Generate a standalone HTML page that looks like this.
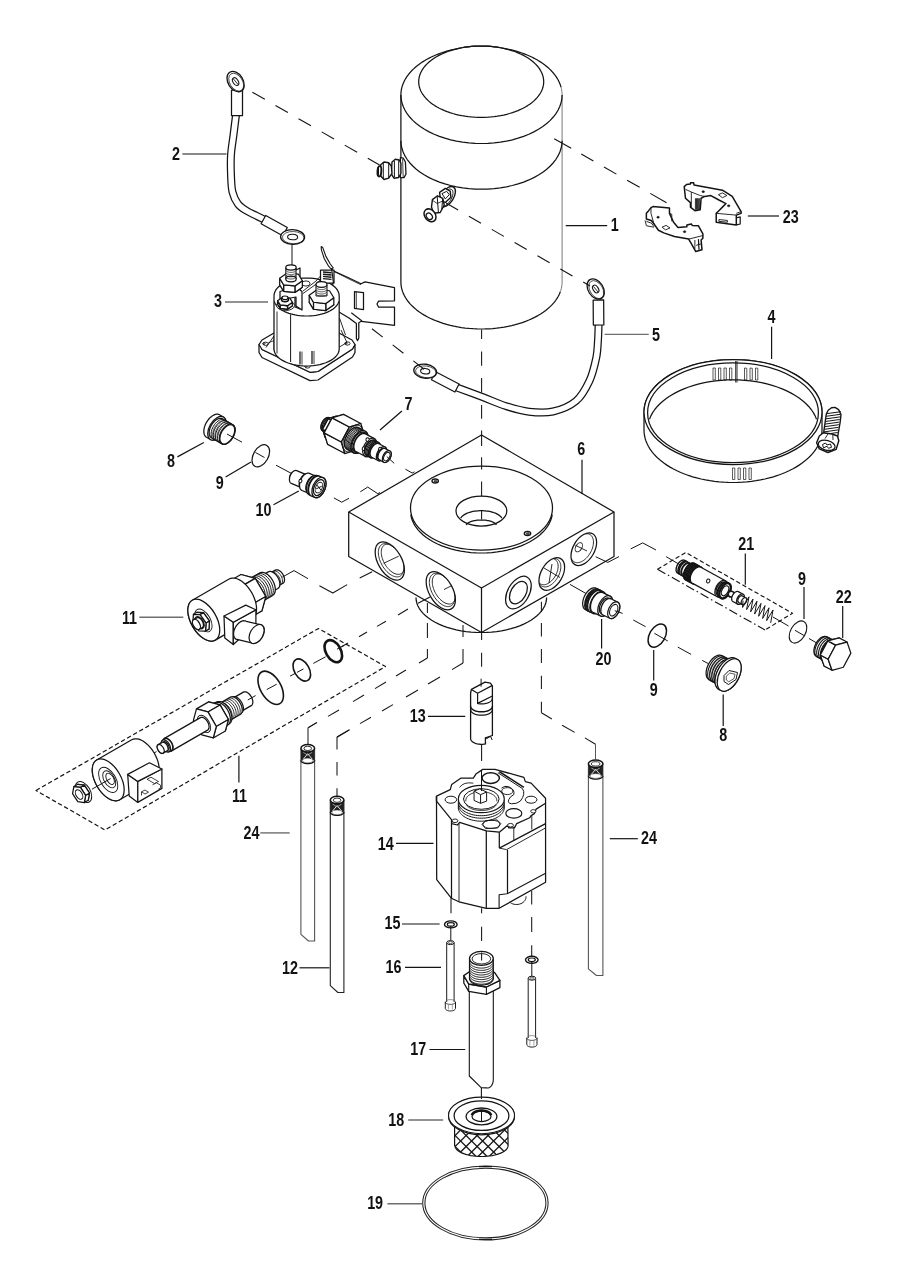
<!DOCTYPE html>
<html><head><meta charset="utf-8"><title>Hydraulic pump exploded view</title>
<style>
html,body{margin:0;padding:0;background:#fff;}
body{width:900px;height:1272px;overflow:hidden;}
svg{display:block;}
text{font-family:"Liberation Sans",sans-serif;font-weight:bold;fill:#111;}
</style></head><body>
<svg width="900" height="1272" viewBox="0 0 900 1272">
<rect width="900" height="1272" fill="#fff"/>
<path d="M400.9 95 L400.93 93.73 L401.01 92.46 L401.15 91.19 L401.34 89.93 L401.59 88.67 L401.89 87.41 L402.25 86.16 L402.66 84.92 L403.13 83.68 L403.65 82.45 L404.22 81.23 L404.84 80.01 L405.52 78.81 L406.25 77.62 L407.04 76.44 L407.87 75.27 L408.75 74.12 L409.68 72.98 L410.67 71.86 L411.7 70.75 L412.78 69.66 L413.9 68.59 L415.08 67.53 L416.29 66.49 L417.56 65.48 L418.86 64.48 L420.21 63.5 L421.6 62.55 L423.03 61.61 L424.51 60.71 L426.02 59.82 L427.57 58.96 L429.15 58.12 L430.78 57.31 L432.43 56.52 L434.12 55.76 L435.85 55.03 L437.6 54.32 L439.39 53.65 L441.2 53 L443.04 52.38 L444.91 51.79 L446.8 51.22 L448.72 50.69 L450.66 50.19 L452.62 49.72 L454.6 49.28 L458.8 48.37 L461.89 47.75 L465.02 47.22 L468.21 46.78 L471.42 46.44 L474.67 46.2 L477.93 46.05 L481.2 46 L484.47 46.05 L487.73 46.2 L490.98 46.44 L494.19 46.78 L497.38 47.22 L500.51 47.75 L506.41 48.87 L508.4 49.28 L510.38 49.72 L512.34 50.19 L514.28 50.69 L516.2 51.22 L518.09 51.79 L519.96 52.38 L521.8 53 L523.61 53.65 L525.4 54.32 L527.15 55.03 L528.88 55.76 L530.57 56.52 L532.22 57.31 L533.85 58.12 L535.43 58.96 L536.98 59.82 L538.49 60.71 L539.97 61.61 L541.4 62.55 L542.79 63.5 L544.14 64.48 L545.44 65.48 L546.71 66.49 L547.92 67.53 L549.1 68.59 L550.22 69.66 L551.3 70.75 L552.33 71.86 L553.32 72.98 L554.25 74.12 L555.13 75.27 L555.96 76.44 L556.75 77.62 L557.48 78.81 L558.16 80.01 L558.78 81.23 L559.35 82.45 L559.87 83.68 L560.34 84.92 L560.75 86.16 L561.11 87.41 L561.41 88.67 L561.66 89.93 L561.85 91.19 L561.99 92.46 L562.07 93.73 L562.1 95 L562.1 282 L562.1 282 L561.99 284.46 L561.66 286.91 L561.11 289.35 L560.34 291.77 L559.35 294.16 L558.16 296.52 L556.75 298.84 L555.13 301.12 L553.32 303.34 L551.3 305.5 L549.1 307.6 L546.71 309.63 L544.14 311.58 L541.4 313.45 L538.49 315.23 L535.43 316.93 L532.22 318.53 L528.88 320.02 L525.4 321.42 L521.8 322.7 L518.09 323.88 L514.28 324.94 L510.38 325.88 L506.41 326.7 L502.36 327.4 L498.26 327.97 L494.11 328.42 L489.92 328.74 L485.72 328.94 L481.5 329 L477.28 328.94 L473.08 328.74 L468.89 328.42 L464.74 327.97 L460.64 327.4 L456.59 326.7 L452.62 325.88 L448.72 324.94 L444.91 323.88 L441.2 322.7 L437.6 321.42 L434.12 320.02 L430.78 318.53 L427.57 316.93 L424.51 315.23 L421.6 313.45 L418.86 311.58 L416.29 309.63 L413.9 307.6 L411.7 305.5 L409.68 303.34 L407.87 301.12 L406.25 298.84 L404.84 296.52 L403.65 294.16 L402.66 291.77 L401.89 289.35 L401.34 286.91 L401.01 284.46 L400.9 282 Z" fill="#fff" stroke="#fff" stroke-width="0.01" stroke-linejoin="round" />
<path d="M400.9 95 L400.93 93.73 L401.01 92.46 L401.15 91.19 L401.34 89.93 L401.59 88.67 L401.89 87.41 L402.25 86.16 L402.66 84.92 L403.13 83.68 L403.65 82.45 L404.22 81.23 L404.84 80.01 L405.52 78.81 L406.25 77.62 L407.04 76.44 L407.87 75.27 L408.75 74.12 L409.68 72.98 L410.67 71.86 L411.7 70.75 L412.78 69.66 L413.9 68.59 L415.08 67.53 L416.29 66.49 L417.56 65.48 L418.86 64.48 L420.21 63.5 L421.6 62.55 L423.03 61.61 L424.51 60.71 L426.02 59.82 L427.57 58.96 L429.15 58.12 L430.78 57.31 L432.43 56.52 L434.12 55.76 L435.85 55.03 L437.6 54.32 L439.39 53.65 L441.2 53 L443.04 52.38 L444.91 51.79 L446.8 51.22 L448.72 50.69 L450.66 50.19 L452.62 49.72 L454.6 49.28 L458.8 48.37 L461.89 47.75 L465.02 47.22 L468.21 46.78 L471.42 46.44 L474.67 46.2 L477.93 46.05 L481.2 46 L484.47 46.05 L487.73 46.2 L490.98 46.44 L494.19 46.78 L497.38 47.22 L500.51 47.75 L506.41 48.87 L508.4 49.28 L510.38 49.72 L512.34 50.19 L514.28 50.69 L516.2 51.22 L518.09 51.79 L519.96 52.38 L521.8 53 L523.61 53.65 L525.4 54.32 L527.15 55.03 L528.88 55.76 L530.57 56.52 L532.22 57.31 L533.85 58.12 L535.43 58.96 L536.98 59.82 L538.49 60.71 L539.97 61.61 L541.4 62.55 L542.79 63.5 L544.14 64.48 L545.44 65.48 L546.71 66.49 L547.92 67.53 L549.1 68.59 L550.22 69.66 L551.3 70.75 L552.33 71.86 L553.32 72.98 L554.25 74.12 L555.13 75.27 L555.96 76.44 L556.75 77.62 L557.48 78.81 L558.16 80.01 L558.78 81.23 L559.35 82.45 L559.87 83.68 L560.34 84.92 L560.75 86.16 L561.11 87.41" fill="none" stroke="#141414" stroke-width="1.25" stroke-linejoin="round" />
<path d="M560.34 291.77 L559.43 294.01 L558.33 296.21 L557.04 298.38 L555.58 300.52 L553.94 302.6 L552.13 304.64 L550.15 306.63 L548 308.55 L545.7 310.42 L543.24 312.21 L540.64 313.93 L537.89 315.58 L535.01 317.15 L532 318.63 L528.88 320.02 L525.63 321.33 L522.29 322.54 L518.84 323.65 L515.31 324.67 L511.69 325.58 L508.01 326.39 L504.26 327.09 L500.45 327.68 L496.6 328.17 L492.72 328.54 L488.8 328.81 L484.88 328.96 L480.94 329 L477 328.93 L473.08 328.74 L469.17 328.45 L465.29 328.04 L461.46 327.52 L457.67 326.9 L453.93 326.17 L450.27 325.33 L446.67 324.39 L443.16 323.34 L439.75 322.2 L436.43 320.96 L433.22 319.63 L430.12 318.21 L427.15 316.71 L424.31 315.12 L421.6 313.45 L419.04 311.71 L416.63 309.89 L414.37 308.01 L412.27 306.07 L410.33 304.07 L408.57 302.01 L406.98 299.91 L405.57 297.77 L404.34 295.58 L403.29 293.37 L402.44 291.13 L401.76 288.87 L401.28 286.59 L401 284.3 L400.9 282 L400.9 95" fill="none" stroke="#141414" stroke-width="1.25" stroke-linejoin="round" />
<path d="M561.11 87.41 L561.41 88.67 L561.66 89.93 L561.85 91.19 L561.99 92.46 L562.07 93.73 L562.1 95 L562.1 282 L562.1 282 L562.05 283.64 L561.9 285.28 L561.66 286.91 L561.32 288.54 L560.88 290.16 L560.34 291.77" fill="none" stroke="#777" stroke-width="1" stroke-linejoin="round" />
<path d="M543.7 81.7 L543.61 83.57 L543.36 85.43 L542.93 87.28 L542.33 89.12 L541.57 90.94 L540.64 92.73 L539.55 94.49 L538.3 96.22 L536.89 97.91 L535.33 99.55 L533.62 101.14 L531.76 102.68 L529.77 104.17 L527.65 105.59 L525.39 106.94 L523.02 108.23 L520.53 109.44 L517.94 110.58 L515.24 111.64 L512.45 112.62 L509.57 113.51 L506.62 114.31 L503.6 115.03 L500.51 115.65 L497.38 116.18 L494.19 116.62 L490.98 116.96 L487.73 117.2 L484.47 117.35 L481.2 117.4 L477.93 117.35 L474.67 117.2 L471.42 116.96 L468.21 116.62 L465.02 116.18 L461.89 115.65 L458.8 115.03 L455.78 114.31 L452.83 113.51 L449.95 112.62 L447.16 111.64 L444.46 110.58 L441.87 109.44 L439.38 108.23 L437.01 106.94 L434.75 105.59 L432.63 104.17 L430.64 102.68 L428.78 101.14 L427.07 99.55 L425.51 97.91 L424.1 96.22 L422.85 94.49 L421.76 92.73 L420.83 90.94 L420.07 89.12 L419.47 87.28 L419.04 85.43 L418.79 83.57 L418.7 81.7 L418.79 79.83 L419.04 77.97 L419.47 76.12 L420.07 74.28 L420.83 72.46 L421.76 70.67 L422.85 68.91 L424.1 67.18 L425.51 65.49 L427.07 63.85 L428.78 62.26 L430.64 60.72 L432.63 59.23 L434.75 57.81 L437.01 56.46 L439.38 55.17 L441.87 53.96 L444.46 52.82 L447.16 51.76 L449.95 50.78 L452.83 49.89 L455.78 49.09 L458.8 48.37 L461.89 47.75 L465.02 47.22 L468.21 46.78 L471.42 46.44 L474.67 46.2 L477.93 46.05 L481.2 46 L484.47 46.05 L487.73 46.2 L490.98 46.44 L494.19 46.78 L497.38 47.22 L500.51 47.75 L503.6 48.37 L506.62 49.09 L509.57 49.89 L512.45 50.78 L515.24 51.76 L517.94 52.82 L520.53 53.96 L523.02 55.17 L525.39 56.46 L527.65 57.81 L529.77 59.23 L531.76 60.72 L533.62 62.26 L535.33 63.85 L536.89 65.49 L538.3 67.18 L539.55 68.91 L540.64 70.67 L541.57 72.46 L542.33 74.28 L542.93 76.12 L543.36 77.97 L543.61 79.83 L543.7 81.7 Z" fill="none" stroke="#141414" stroke-width="1.25" stroke-linejoin="round" />
<path d="M562.1 95 L561.85 98.81 L561.11 102.59 L559.87 106.32 L558.16 109.99 L555.96 113.56 L553.32 117.02 L550.22 120.34 L546.71 123.51 L542.79 126.5 L538.49 129.29 L533.85 131.88 L528.88 134.24 L523.61 136.35 L518.09 138.21 L512.34 139.81 L506.41 141.13 L500.32 142.16 L494.11 142.9 L487.82 143.35 L481.5 143.5 L475.18 143.35 L468.89 142.9 L462.68 142.16 L456.59 141.13 L450.66 139.81 L444.91 138.21 L439.39 136.35 L434.12 134.24 L429.15 131.88 L424.51 129.29 L420.21 126.5 L416.29 123.51 L412.78 120.34 L409.68 117.02 L407.04 113.56 L404.84 109.99 L403.13 106.32 L401.89 102.59 L401.15 98.81 L400.9 95" fill="none" stroke="#141414" stroke-width="1.25" stroke-linejoin="round" />
<path d="M562.1 140.7 L561.85 144.51 L561.11 148.29 L559.87 152.02 L558.16 155.69 L555.96 159.26 L553.32 162.72 L550.22 166.04 L546.71 169.21 L542.79 172.2 L538.49 174.99 L533.85 177.58 L528.88 179.94 L523.61 182.05 L518.09 183.91 L512.34 185.51 L506.41 186.83 L500.32 187.86 L494.11 188.6 L487.82 189.05 L481.5 189.2 L475.18 189.05 L468.89 188.6 L462.68 187.86 L456.59 186.83 L450.66 185.51 L444.91 183.91 L439.39 182.05 L434.12 179.94 L429.15 177.58 L424.51 174.99 L420.21 172.2 L416.29 169.21 L412.78 166.04 L409.68 162.72 L407.04 159.26 L404.84 155.69 L403.13 152.02 L401.89 148.29 L401.15 144.51 L400.9 140.7" fill="none" stroke="#141414" stroke-width="1.25" stroke-linejoin="round" />
<path d="M546.6 597.5 L546.4 600.25 L545.8 602.98 L544.8 605.67 L543.4 608.32 L541.63 610.89 L539.48 613.39 L536.98 615.79 L534.13 618.07 L530.95 620.23 L527.47 622.25 L523.71 624.11 L519.68 625.82 L515.42 627.34 L510.95 628.69 L506.29 629.84 L501.48 630.79 L496.54 631.53 L491.52 632.07 L486.42 632.39 L481.3 632.5 L476.18 632.39 L471.08 632.07 L466.06 631.53 L461.12 630.79 L456.31 629.84 L451.65 628.69 L447.18 627.34 L442.92 625.82 L438.89 624.11 L435.13 622.25 L431.65 620.23 L428.47 618.07 L425.62 615.79 L423.12 613.39 L420.97 610.89 L419.2 608.32 L417.8 605.67 L416.8 602.98 L416.2 600.25 L416 597.5" fill="none" stroke="#141414" stroke-width="1.25" stroke-linejoin="round" />
<path d="M348.7 512 L481.5 435 L614 512 L614 556.5 L481.5 632.5 L348.7 556.5 Z" fill="#fff" stroke="#141414" stroke-width="1.25" stroke-linejoin="round" />
<path d="M348.7 512 L481.5 588 L614 512" fill="none" stroke="#141414" stroke-width="1.25" stroke-linejoin="round" />
<line x1="481.5" y1="588" x2="481.5" y2="632.5" stroke="#141414" stroke-width="1.25" stroke-linecap="butt"/>
<ellipse cx="481.5" cy="508" rx="71" ry="42" fill="none" stroke="#141414" stroke-width="1.25"/>
<path d="M552.23 514.66 L551.58 517.75 L550.54 520.8 L549.12 523.8 L547.33 526.73 L545.18 529.58 L542.68 532.32 L539.84 534.94 L536.68 537.43 L533.21 539.78 L529.47 541.97 L525.46 543.98 L521.2 545.82 L516.73 547.46 L512.07 548.91 L507.23 550.14 L502.26 551.16 L497.17 551.96 L491.99 552.54 L486.76 552.88 L481.5 553 L476.24 552.88 L471.01 552.54 L465.83 551.96 L460.74 551.16 L455.77 550.14 L450.93 548.91 L446.27 547.46 L441.8 545.82 L437.54 543.98 L433.53 541.97 L429.79 539.78 L426.32 537.43 L423.16 534.94 L420.32 532.32 L417.82 529.58 L415.67 526.73 L413.88 523.8 L412.46 520.8 L411.42 517.75 L410.77 514.66" fill="none" stroke="#141414" stroke-width="1.25" stroke-linejoin="round" />
<ellipse cx="481.4" cy="511" rx="25.4" ry="15" fill="none" stroke="#141414" stroke-width="1.25"/>
<path d="M460.73 518.11 L461.13 517.49 L461.62 516.87 L462.2 516.28 L462.85 515.7 L463.59 515.14 L464.4 514.61 L465.29 514.11 L466.24 513.63 L467.26 513.18 L468.33 512.77 L469.47 512.39 L470.65 512.04 L471.88 511.73 L473.15 511.46 L474.45 511.23 L475.79 511.04 L477.14 510.89 L478.52 510.79 L479.91 510.72 L481.3 510.7 L482.69 510.72 L484.08 510.79 L485.46 510.89 L486.81 511.04 L488.15 511.23 L489.45 511.46 L490.72 511.73 L491.95 512.04 L493.13 512.39 L494.27 512.77 L495.34 513.18 L496.36 513.63 L497.31 514.11 L498.2 514.61 L499.01 515.14 L499.75 515.7 L500.4 516.28 L500.98 516.87 L501.47 517.49 L501.87 518.11" fill="none" stroke="#141414" stroke-width="1.25" stroke-linejoin="round" />
<path d="M466.23 524.96 L466.45 524.55 L466.75 524.15 L467.11 523.75 L467.55 523.37 L468.05 523 L468.62 522.64 L469.24 522.31 L469.93 521.99 L470.67 521.68 L471.47 521.4 L472.31 521.15 L473.19 520.91 L474.12 520.7 L475.08 520.52 L476.07 520.36 L477.08 520.23 L478.12 520.13 L479.17 520.06 L480.23 520.01 L481.3 520 L482.37 520.01 L483.43 520.06 L484.48 520.13 L485.52 520.23 L486.53 520.36 L487.52 520.52 L488.48 520.7 L489.41 520.91 L490.29 521.15 L491.13 521.4 L491.93 521.68 L492.67 521.99 L493.36 522.31 L493.98 522.64 L494.55 523 L495.05 523.37 L495.49 523.75 L495.85 524.15 L496.15 524.55 L496.37 524.96" fill="none" stroke="#141414" stroke-width="1.25" stroke-linejoin="round" />
<path d="M236 115 C235.58 118.33 234.33 128.33 233.5 135 C232.67 141.67 231.42 148.33 231 155 C230.58 161.67 230.75 168.83 231 175 C231.25 181.17 231.33 187.17 232.5 192 C233.67 196.83 235.58 200.83 238 204 C240.42 207.17 244 209.08 247 211 C250 212.92 253.17 214.08 256 215.5 C258.83 216.92 262.67 218.83 264 219.5" fill="none" stroke="#141414" stroke-width="8" stroke-linecap="butt"/>
<path d="M236 115 C235.58 118.33 234.33 128.33 233.5 135 C232.67 141.67 231.42 148.33 231 155 C230.58 161.67 230.75 168.83 231 175 C231.25 181.17 231.33 187.17 232.5 192 C233.67 196.83 235.58 200.83 238 204 C240.42 207.17 244 209.08 247 211 C250 212.92 253.17 214.08 256 215.5 C258.83 216.92 262.67 218.83 264 219.5" fill="none" stroke="#fff" stroke-width="5.5" stroke-linecap="butt"/>
<path d="M231.5 90 L231.5 115.5 L242.5 115.5 L242.5 90 Z" fill="#fff" stroke="#141414" stroke-width="1.25" stroke-linejoin="round" />
<ellipse cx="235.6" cy="81.6" rx="7.5" ry="11" fill="#fff" stroke="#141414" stroke-width="1.3" transform="rotate(-32 235.6 81.6)"/>
<ellipse cx="236.2" cy="82.2" rx="6.3" ry="9.8" fill="none" stroke="#141414" stroke-width="0.7" transform="rotate(-32 236.2 82.2)"/>
<ellipse cx="235.6" cy="81.6" rx="2.6" ry="4.2" fill="#fff" stroke="#141414" stroke-width="1.1" transform="rotate(-32 235.6 81.6)"/>
<line x1="233.5" y1="79" x2="238" y2="84.5" stroke="#141414" stroke-width="0.9" stroke-linecap="butt"/>
<path d="M261.09 223.75 L282.69 235.75 L287.31 227.45 L265.71 215.45 Z" fill="#fff" stroke="#141414" stroke-width="1.25" stroke-linejoin="round" />
<ellipse cx="292.6" cy="237" rx="12" ry="7.3" fill="#fff" stroke="#141414" stroke-width="1.3" transform="rotate(2 292.6 237)"/>
<ellipse cx="293.2" cy="237.6" rx="10.8" ry="6.1" fill="none" stroke="#141414" stroke-width="0.7" transform="rotate(2 293.2 237.6)"/>
<ellipse cx="292.6" cy="237" rx="5" ry="2.8" fill="#fff" stroke="#141414" stroke-width="1.1" transform="rotate(2 292.6 237)"/>
<line x1="292" y1="244.5" x2="292" y2="268" stroke="#141414" stroke-width="1" stroke-linecap="butt"/>
<path d="M598.6 324 C598.5 326.67 598.4 334.33 598 340 C597.6 345.67 597.63 351.17 596.2 358 C594.77 364.83 592.77 373.83 589.4 381 C586.03 388.17 582.07 395.92 576 401 C569.93 406.08 560.83 409.72 553 411.5 C545.17 413.28 536.9 412.62 529 411.7 C521.1 410.78 513.35 408.45 505.6 406 C497.85 403.55 490.6 400.07 482.5 397 C474.4 393.93 461.25 389.17 457 387.6" fill="none" stroke="#141414" stroke-width="8" stroke-linecap="butt"/>
<path d="M598.6 324 C598.5 326.67 598.4 334.33 598 340 C597.6 345.67 597.63 351.17 596.2 358 C594.77 364.83 592.77 373.83 589.4 381 C586.03 388.17 582.07 395.92 576 401 C569.93 406.08 560.83 409.72 553 411.5 C545.17 413.28 536.9 412.62 529 411.7 C521.1 410.78 513.35 408.45 505.6 406 C497.85 403.55 490.6 400.07 482.5 397 C474.4 393.93 461.25 389.17 457 387.6" fill="none" stroke="#fff" stroke-width="5.5" stroke-linecap="butt"/>
<path d="M593.15 300.04 L593.35 325.04 L603.85 324.96 L603.65 299.96 Z" fill="#fff" stroke="#141414" stroke-width="1.25" stroke-linejoin="round" />
<ellipse cx="595.7" cy="289" rx="7.5" ry="11" fill="#fff" stroke="#141414" stroke-width="1.3" transform="rotate(-32 595.7 289)"/>
<ellipse cx="596.3" cy="289.6" rx="6.3" ry="9.8" fill="none" stroke="#141414" stroke-width="0.7" transform="rotate(-32 596.3 289.6)"/>
<ellipse cx="595.7" cy="289" rx="2.6" ry="4.2" fill="#fff" stroke="#141414" stroke-width="1.1" transform="rotate(-32 595.7 289)"/>
<line x1="593.5" y1="286.5" x2="598" y2="292" stroke="#141414" stroke-width="0.9" stroke-linecap="butt"/>
<path d="M459.07 384.01 L435.57 371.81 L431.43 379.79 L454.93 391.99 Z" fill="#fff" stroke="#141414" stroke-width="1.25" stroke-linejoin="round" />
<ellipse cx="425.2" cy="371.2" rx="11.5" ry="7" fill="#fff" stroke="#141414" stroke-width="1.3" transform="rotate(8 425.2 371.2)"/>
<ellipse cx="425.8" cy="371.8" rx="10.3" ry="5.8" fill="none" stroke="#141414" stroke-width="0.7" transform="rotate(8 425.8 371.8)"/>
<ellipse cx="425.2" cy="371.2" rx="4.6" ry="2.7" fill="#fff" stroke="#141414" stroke-width="1.1" transform="rotate(8 425.2 371.2)"/>
<path d="M400.4 157.6 L403.3 158.2 L405.4 162 L406 174 L404 177.6 L400.4 177.6 Z" fill="#fff" stroke="#141414" stroke-width="1.3" stroke-linejoin="round" />
<line x1="402.6" y1="159" x2="403.2" y2="177" stroke="#141414" stroke-width="0.8" stroke-linecap="butt"/>
<path d="M392 162 L395.3 159.3 L399.3 160 L400.9 163.3 L400.9 173.5 L398.7 177.5 L394 178.2 L391.3 174 Z" fill="#fff" stroke="#141414" stroke-width="1.4" stroke-linejoin="round" />
<line x1="394.4" y1="161" x2="394.4" y2="177.3" stroke="#141414" stroke-width="1" stroke-linecap="butt"/>
<line x1="398.7" y1="160.3" x2="398.7" y2="177.2" stroke="#141414" stroke-width="1" stroke-linecap="butt"/>
<path d="M380.7 164.7 L384 162 L388.7 162.7 L391.3 166 L392 173.3 L388.7 178.2 L384 179.5 L380.7 176 Z" fill="#fff" stroke="#141414" stroke-width="1.4" stroke-linejoin="round" />
<line x1="383.3" y1="162.6" x2="383.3" y2="179" stroke="#141414" stroke-width="1" stroke-linecap="butt"/>
<line x1="388.7" y1="163" x2="388.7" y2="178" stroke="#141414" stroke-width="1" stroke-linecap="butt"/>
<ellipse cx="379.4" cy="171.3" rx="1.9" ry="5.2" fill="#fff" stroke="#141414" stroke-width="1.9" transform="rotate(4 379.4 171.3)"/>
<line x1="378.2" y1="167" x2="378.2" y2="175.5" stroke="#141414" stroke-width="1.6" stroke-linecap="butt"/>
<ellipse cx="447.3" cy="196.7" rx="6.2" ry="11.5" fill="#fff" stroke="#141414" stroke-width="1.4" transform="rotate(33 447.3 196.7)"/>
<ellipse cx="446.2" cy="197.8" rx="5" ry="10" fill="none" stroke="#141414" stroke-width="0.8" transform="rotate(33 446.2 197.8)"/>
<path d="M439.6 192.3 L445.3 188.4 L450.2 191.2 L450.9 197.3 L445.3 202.4 L440.6 200.8 Z" fill="#fff" stroke="#141414" stroke-width="1.4" stroke-linejoin="round" />
<path d="M442 193.6 L446.7 191.3 L449.3 194.7 L445.3 198.9 Z" fill="none" stroke="#141414" stroke-width="1" stroke-linejoin="round" />
<path d="M432.4 199.6 L437.5 195.8 L442.8 198.4 L444.2 205 L440.2 212.5 L433.5 213.2 L431.5 207 Z" fill="#fff" stroke="#141414" stroke-width="1.4" stroke-linejoin="round" />
<line x1="437.2" y1="196.5" x2="438.4" y2="212.5" stroke="#141414" stroke-width="1" stroke-linecap="butt"/>
<line x1="442.6" y1="199" x2="441.8" y2="209.5" stroke="#141414" stroke-width="1" stroke-linecap="butt"/>
<path d="M432.8 200.5 L437.2 203.5 L442.6 201" fill="none" stroke="#141414" stroke-width="0.8" stroke-linejoin="round" />
<ellipse cx="430" cy="215.3" rx="5.3" ry="7" fill="#fff" stroke="#141414" stroke-width="1.5" transform="rotate(-38 430 215.3)"/>
<ellipse cx="429.3" cy="216.3" rx="2.7" ry="3.6" fill="#fff" stroke="#141414" stroke-width="1.3" transform="rotate(-38 429.3 216.3)"/>
<path d="M252.4 92.2 L379.6 165.1" fill="none" stroke="#141414" stroke-width="1.1" stroke-dasharray="14.3 12.3" stroke-linejoin="round" />
<line x1="554.2" y1="138.7" x2="571.15" y2="148.35" stroke="#141414" stroke-width="1.1" stroke-linecap="butt"/>
<line x1="581.23" y1="154.09" x2="593.39" y2="161.02" stroke="#141414" stroke-width="1.1" stroke-linecap="butt"/>
<line x1="603.99" y1="167.05" x2="616.42" y2="174.13" stroke="#141414" stroke-width="1.1" stroke-linecap="butt"/>
<line x1="627.11" y1="180.21" x2="639.62" y2="187.34" stroke="#141414" stroke-width="1.1" stroke-linecap="butt"/>
<line x1="650.22" y1="193.38" x2="666.56" y2="202.68" stroke="#141414" stroke-width="1.1" stroke-linecap="butt"/>
<path d="M446 203 L590 286" fill="none" stroke="#141414" stroke-width="1.1" stroke-dasharray="14 12.4" stroke-linejoin="round" />
<path d="M332.6 270.6 L348 277.5 L361 283.8 L365 281.9 L394.5 287.6 L394.5 300.8 L378.5 301.2 L377 304 L378.5 307 L394.5 307 L394.5 325.3 L361.3 321.3 L358.8 322.7 L358.8 338 L357.6 340.6 L356.4 338.5 L356.4 323.5 L349 318 L339 312 L333 312 Z" fill="#fff" stroke="#141414" stroke-width="1.25" stroke-linejoin="round" />
<path d="M321.2 246.6 L322.7 247.4 L325.9 256.4 L330.3 264 L333.2 267.8 L332 270 L328.6 266.2 L324.2 258.5 L321.4 249.8 Z" fill="#fff" stroke="#141414" stroke-width="1.1" stroke-linejoin="round" />
<path d="M354.5 291.6 L363.5 292.6 L363.5 309.6 L354.5 308.4 Z" fill="none" stroke="#141414" stroke-width="1.25" stroke-linejoin="round" />
<line x1="356.3" y1="292" x2="356.3" y2="308.6" stroke="#141414" stroke-width="0.8" stroke-linecap="butt"/>
<path d="M332.6 270.6 L348 278.5 L361 284.8" fill="none" stroke="#141414" stroke-width="0.8" stroke-linejoin="round" />
<path d="M259 344.5 L259 352.5 L262 357.5 L310 380.6 L318 380 L352.5 357 L355 352.5 L355 344.5 L262 349.5 L310 372.3 L318 371.5 L352.5 349 L355 344.5 Z" fill="#fff" stroke="#141414" stroke-width="1.25" stroke-linejoin="round" />
<path d="M259 344.5 L262 340 L274 333 L339 333 L352 340 L355 344.5 L352.5 349 L318 371.5 L310 372.3 L262 349.5 Z" fill="#fff" stroke="#141414" stroke-width="1.25" stroke-linejoin="round" />
<ellipse cx="265.5" cy="343.8" rx="2.6" ry="1.6" fill="none" stroke="#141414" stroke-width="0.9"/>
<ellipse cx="347.5" cy="343.5" rx="2.6" ry="1.6" fill="none" stroke="#141414" stroke-width="0.9"/>
<ellipse cx="307.5" cy="366.5" rx="2.6" ry="1.6" fill="none" stroke="#141414" stroke-width="0.9"/>
<ellipse cx="264" cy="343.6" rx="1.2" ry="0.8" fill="none" stroke="#141414" stroke-width="0.8"/>
<ellipse cx="346" cy="343.3" rx="1.2" ry="0.8" fill="none" stroke="#141414" stroke-width="0.8"/>
<ellipse cx="306" cy="366.3" rx="1.2" ry="0.8" fill="none" stroke="#141414" stroke-width="0.8"/>
<path d="M266 347.5 L274 336 L274 350" fill="none" stroke="#141414" stroke-width="0.9" stroke-linejoin="round" />
<path d="M268 343 L275.5 340" fill="none" stroke="#141414" stroke-width="0.8" stroke-linejoin="round" />
<path d="M341 330 L347 342.5 L339.5 347" fill="none" stroke="#141414" stroke-width="0.9" stroke-linejoin="round" />
<path d="M339.5 318 L345.5 335" fill="none" stroke="#141414" stroke-width="0.9" stroke-linejoin="round" />
<path d="M274 296 L274 349 L274 349 L274.18 350.78 L274.71 352.53 L275.6 354.25 L276.82 355.91 L278.37 357.5 L280.23 358.99 L282.37 360.38 L284.79 361.63 L287.44 362.75 L290.3 363.72 L293.34 364.53 L296.53 365.17 L299.82 365.63 L303.19 365.91 L306.6 366 L310.01 365.91 L313.38 365.63 L316.67 365.17 L319.86 364.53 L322.9 363.72 L325.76 362.75 L328.41 361.63 L330.83 360.38 L332.97 358.99 L334.83 357.5 L336.38 355.91 L337.6 354.25 L338.49 352.53 L339.02 350.78 L339.2 349 L339.2 296 L339.2 296 L339.02 294.12 L338.49 292.26 L337.6 290.44 L336.38 288.68 L334.83 287 L332.97 285.42 L330.83 283.96 L328.41 282.62 L325.76 281.44 L322.9 280.41 L319.86 279.56 L316.67 278.88 L313.38 278.39 L310.01 278.1 L306.6 278 L303.19 278.1 L299.82 278.39 L296.53 278.88 L293.34 279.56 L290.3 280.41 L287.44 281.44 L284.79 282.62 L282.37 283.96 L280.23 285.42 L278.37 287 L276.82 288.68 L275.6 290.44 L274.71 292.26 L274.18 294.12 L274 296 Z" fill="#fff" stroke="#141414" stroke-width="1.25" stroke-linejoin="round" />
<path d="M338.88 301.37 L338.48 302.56 L337.91 303.74 L337.18 304.9 L336.29 306.02 L335.25 307.11 L334.06 308.16 L332.74 309.16 L331.28 310.11 L329.69 311 L327.99 311.83 L326.17 312.59 L324.26 313.29 L322.26 313.91 L320.17 314.46 L318.02 314.92 L315.8 315.31 L313.54 315.61 L311.25 315.83 L308.93 315.96 L306.6 316 L304.27 315.96 L301.95 315.83 L299.66 315.61 L297.4 315.31 L295.18 314.92 L293.03 314.46 L290.94 313.91 L288.94 313.29 L287.03 312.59 L285.21 311.83 L283.51 311 L281.92 310.11 L280.46 309.16 L279.14 308.16 L277.95 307.11 L276.91 306.02 L276.02 304.9 L275.29 303.74 L274.72 302.56 L274.32 301.37" fill="none" stroke="#141414" stroke-width="1.25" stroke-linejoin="round" />
<line x1="277" y1="311.5" x2="277" y2="353.5" stroke="#141414" stroke-width="0.9" stroke-linecap="butt"/>
<line x1="290.6" y1="314.5" x2="290.6" y2="362" stroke="#141414" stroke-width="1" stroke-linecap="butt"/>
<line x1="300" y1="351.5" x2="300" y2="364.5" stroke="#141414" stroke-width="1.25" stroke-linecap="butt"/>
<line x1="302" y1="351.5" x2="302" y2="364.5" stroke="#141414" stroke-width="0.8" stroke-linecap="butt"/>
<line x1="312" y1="351" x2="312" y2="364" stroke="#141414" stroke-width="1.25" stroke-linecap="butt"/>
<line x1="314" y1="351" x2="314" y2="364" stroke="#141414" stroke-width="0.8" stroke-linecap="butt"/>
<path d="M295 270.5 L300 268 L300 309 L295 307 Z" fill="#fff" stroke="#141414" stroke-width="1.25" stroke-linejoin="round" />
<path d="M280 291.5 L296 286.5 L302 291.5 L302 310 L296 306 L296 297 L280 300 Z" fill="#fff" stroke="#141414" stroke-width="1.25" stroke-linejoin="round" />
<path d="M303 291 L316 281 L321 275.5 L333 272.5" fill="none" stroke="#141414" stroke-width="0.9" stroke-linejoin="round" />
<path d="M303 293.5 L317 283.5 L322 278" fill="none" stroke="#141414" stroke-width="0.9" stroke-linejoin="round" />
<ellipse cx="306" cy="283.5" rx="4" ry="2.6" fill="#fff" stroke="#141414" stroke-width="0.9"/>
<path d="M320.5 270 L334 270 L334 283 L320.5 283 Z" fill="#fff" stroke="#141414" stroke-width="1.25" stroke-linejoin="round" />
<line x1="323" y1="272" x2="331.5" y2="272.8" stroke="#141414" stroke-width="1.4" stroke-linecap="butt"/>
<line x1="323" y1="274.2" x2="331.5" y2="275" stroke="#141414" stroke-width="1.4" stroke-linecap="butt"/>
<line x1="323" y1="276.4" x2="331.5" y2="277.2" stroke="#141414" stroke-width="1.4" stroke-linecap="butt"/>
<line x1="323" y1="278.6" x2="331.5" y2="279.4" stroke="#141414" stroke-width="1.4" stroke-linecap="butt"/>
<line x1="331.5" y1="268" x2="333.5" y2="283" stroke="#141414" stroke-width="1.2" stroke-linecap="butt"/>
<path d="M302.33 287.2 L294.93 292.48 L283.61 291.29 L279.67 284.8 L287.07 279.52 L298.39 280.71 Z" fill="#fff" stroke="#141414" stroke-width="1.25" stroke-linejoin="round" />
<path d="M302.33 280.7 L294.93 285.98 L294.93 292.48 L302.33 287.2 Z" fill="#fff" stroke="#141414" stroke-width="1.25" stroke-linejoin="round" />
<path d="M294.93 285.98 L283.61 284.79 L283.61 291.29 L294.93 292.48 Z" fill="#fff" stroke="#141414" stroke-width="1.25" stroke-linejoin="round" />
<path d="M283.61 284.79 L279.67 278.3 L279.67 284.8 L283.61 291.29 Z" fill="#fff" stroke="#141414" stroke-width="1.25" stroke-linejoin="round" />
<path d="M302.33 280.7 L294.93 285.98 L283.61 284.79 L279.67 278.3 L287.07 273.02 L298.39 274.21 Z" fill="#fff" stroke="#141414" stroke-width="1.25" stroke-linejoin="round" />
<path d="M285.8 268 L285.8 279 L296 279 L296 268" fill="#fff" stroke="#141414" stroke-width="1" stroke-linejoin="round" />
<ellipse cx="291" cy="279" rx="5.2" ry="2.8" fill="#fff" stroke="#141414" stroke-width="1.25"/>
<path d="M296.12 270.42 L296.05 270.58 L295.95 270.74 L295.82 270.9 L295.67 271.05 L295.5 271.2 L295.31 271.34 L295.1 271.48 L294.86 271.61 L294.61 271.73 L294.34 271.84 L294.06 271.94 L293.76 272.04 L293.44 272.12 L293.12 272.19 L292.78 272.26 L292.43 272.31 L292.08 272.35 L291.72 272.38 L291.36 272.39 L291 272.4 L290.64 272.39 L290.28 272.38 L289.92 272.35 L289.57 272.31 L289.22 272.26 L288.88 272.19 L288.56 272.12 L288.24 272.04 L287.94 271.94 L287.66 271.84 L287.39 271.73 L287.14 271.61 L286.9 271.48 L286.69 271.34 L286.5 271.2 L286.33 271.05 L286.18 270.9 L286.05 270.74 L285.95 270.58 L285.88 270.42" fill="none" stroke="#141414" stroke-width="0.8" stroke-linejoin="round" />
<path d="M296.12 272.62 L296.05 272.78 L295.95 272.94 L295.82 273.1 L295.67 273.25 L295.5 273.4 L295.31 273.54 L295.1 273.68 L294.86 273.81 L294.61 273.93 L294.34 274.04 L294.06 274.14 L293.76 274.24 L293.44 274.32 L293.12 274.39 L292.78 274.46 L292.43 274.51 L292.08 274.55 L291.72 274.58 L291.36 274.59 L291 274.6 L290.64 274.59 L290.28 274.58 L289.92 274.55 L289.57 274.51 L289.22 274.46 L288.88 274.39 L288.56 274.32 L288.24 274.24 L287.94 274.14 L287.66 274.04 L287.39 273.93 L287.14 273.81 L286.9 273.68 L286.69 273.54 L286.5 273.4 L286.33 273.25 L286.18 273.1 L286.05 272.94 L285.95 272.78 L285.88 272.62" fill="none" stroke="#141414" stroke-width="0.8" stroke-linejoin="round" />
<path d="M296.12 274.82 L296.05 274.98 L295.95 275.14 L295.82 275.3 L295.67 275.45 L295.5 275.6 L295.31 275.74 L295.1 275.88 L294.86 276.01 L294.61 276.13 L294.34 276.24 L294.06 276.34 L293.76 276.44 L293.44 276.52 L293.12 276.59 L292.78 276.66 L292.43 276.71 L292.08 276.75 L291.72 276.78 L291.36 276.79 L291 276.8 L290.64 276.79 L290.28 276.78 L289.92 276.75 L289.57 276.71 L289.22 276.66 L288.88 276.59 L288.56 276.52 L288.24 276.44 L287.94 276.34 L287.66 276.24 L287.39 276.13 L287.14 276.01 L286.9 275.88 L286.69 275.74 L286.5 275.6 L286.33 275.45 L286.18 275.3 L286.05 275.14 L285.95 274.98 L285.88 274.82" fill="none" stroke="#141414" stroke-width="0.8" stroke-linejoin="round" />
<path d="M296.12 277.02 L296.05 277.18 L295.95 277.34 L295.82 277.5 L295.67 277.65 L295.5 277.8 L295.31 277.94 L295.1 278.08 L294.86 278.21 L294.61 278.33 L294.34 278.44 L294.06 278.54 L293.76 278.64 L293.44 278.72 L293.12 278.79 L292.78 278.86 L292.43 278.91 L292.08 278.95 L291.72 278.98 L291.36 278.99 L291 279 L290.64 278.99 L290.28 278.98 L289.92 278.95 L289.57 278.91 L289.22 278.86 L288.88 278.79 L288.56 278.72 L288.24 278.64 L287.94 278.54 L287.66 278.44 L287.39 278.33 L287.14 278.21 L286.9 278.08 L286.69 277.94 L286.5 277.8 L286.33 277.65 L286.18 277.5 L286.05 277.34 L285.95 277.18 L285.88 277.02" fill="none" stroke="#141414" stroke-width="0.8" stroke-linejoin="round" />
<ellipse cx="291" cy="267.5" rx="5.2" ry="2.6" fill="#fff" stroke="#141414" stroke-width="1.25"/>
<path d="M333.81 304.8 L325.78 310.55 L313.47 309.25 L309.19 302.2 L317.22 296.45 L329.53 297.75 Z" fill="#fff" stroke="#141414" stroke-width="1.25" stroke-linejoin="round" />
<path d="M333.81 297.8 L325.78 303.55 L325.78 310.55 L333.81 304.8 Z" fill="#fff" stroke="#141414" stroke-width="1.25" stroke-linejoin="round" />
<path d="M325.78 303.55 L313.47 302.25 L313.47 309.25 L325.78 310.55 Z" fill="#fff" stroke="#141414" stroke-width="1.25" stroke-linejoin="round" />
<path d="M313.47 302.25 L309.19 295.2 L309.19 302.2 L313.47 309.25 Z" fill="#fff" stroke="#141414" stroke-width="1.25" stroke-linejoin="round" />
<path d="M333.81 297.8 L325.78 303.55 L313.47 302.25 L309.19 295.2 L317.22 289.45 L329.53 290.75 Z" fill="#fff" stroke="#141414" stroke-width="1.25" stroke-linejoin="round" />
<path d="M316 285 L316 296 L327 296 L327 285" fill="#fff" stroke="#141414" stroke-width="1" stroke-linejoin="round" />
<path d="M326.92 287.45 L326.84 287.63 L326.73 287.8 L326.6 287.97 L326.44 288.14 L326.26 288.3 L326.06 288.45 L325.83 288.6 L325.59 288.74 L325.32 288.87 L325.04 288.99 L324.73 289.1 L324.41 289.2 L324.08 289.3 L323.74 289.38 L323.38 289.44 L323.02 289.5 L322.64 289.54 L322.27 289.57 L321.88 289.59 L321.5 289.6 L321.12 289.59 L320.73 289.57 L320.36 289.54 L319.98 289.5 L319.62 289.44 L319.26 289.38 L318.92 289.3 L318.59 289.2 L318.27 289.1 L317.96 288.99 L317.68 288.87 L317.41 288.74 L317.17 288.6 L316.94 288.45 L316.74 288.3 L316.56 288.14 L316.4 287.97 L316.27 287.8 L316.16 287.63 L316.08 287.45" fill="none" stroke="#141414" stroke-width="0.8" stroke-linejoin="round" />
<path d="M326.92 289.65 L326.84 289.83 L326.73 290 L326.6 290.17 L326.44 290.34 L326.26 290.5 L326.06 290.65 L325.83 290.8 L325.59 290.94 L325.32 291.07 L325.04 291.19 L324.73 291.3 L324.41 291.4 L324.08 291.5 L323.74 291.58 L323.38 291.64 L323.02 291.7 L322.64 291.74 L322.27 291.77 L321.88 291.79 L321.5 291.8 L321.12 291.79 L320.73 291.77 L320.36 291.74 L319.98 291.7 L319.62 291.64 L319.26 291.58 L318.92 291.5 L318.59 291.4 L318.27 291.3 L317.96 291.19 L317.68 291.07 L317.41 290.94 L317.17 290.8 L316.94 290.65 L316.74 290.5 L316.56 290.34 L316.4 290.17 L316.27 290 L316.16 289.83 L316.08 289.65" fill="none" stroke="#141414" stroke-width="0.8" stroke-linejoin="round" />
<path d="M326.92 291.85 L326.84 292.03 L326.73 292.2 L326.6 292.37 L326.44 292.54 L326.26 292.7 L326.06 292.85 L325.83 293 L325.59 293.14 L325.32 293.27 L325.04 293.39 L324.73 293.5 L324.41 293.6 L324.08 293.7 L323.74 293.78 L323.38 293.84 L323.02 293.9 L322.64 293.94 L322.27 293.97 L321.88 293.99 L321.5 294 L321.12 293.99 L320.73 293.97 L320.36 293.94 L319.98 293.9 L319.62 293.84 L319.26 293.78 L318.92 293.7 L318.59 293.6 L318.27 293.5 L317.96 293.39 L317.68 293.27 L317.41 293.14 L317.17 293 L316.94 292.85 L316.74 292.7 L316.56 292.54 L316.4 292.37 L316.27 292.2 L316.16 292.03 L316.08 291.85" fill="none" stroke="#141414" stroke-width="0.8" stroke-linejoin="round" />
<path d="M326.92 294.05 L326.84 294.23 L326.73 294.4 L326.6 294.57 L326.44 294.74 L326.26 294.9 L326.06 295.05 L325.83 295.2 L325.59 295.34 L325.32 295.47 L325.04 295.59 L324.73 295.7 L324.41 295.8 L324.08 295.9 L323.74 295.98 L323.38 296.04 L323.02 296.1 L322.64 296.14 L322.27 296.17 L321.88 296.19 L321.5 296.2 L321.12 296.19 L320.73 296.17 L320.36 296.14 L319.98 296.1 L319.62 296.04 L319.26 295.98 L318.92 295.9 L318.59 295.8 L318.27 295.7 L317.96 295.59 L317.68 295.47 L317.41 295.34 L317.17 295.2 L316.94 295.05 L316.74 294.9 L316.56 294.74 L316.4 294.57 L316.27 294.4 L316.16 294.23 L316.08 294.05" fill="none" stroke="#141414" stroke-width="0.8" stroke-linejoin="round" />
<ellipse cx="321.5" cy="284.5" rx="5.5" ry="2.8" fill="#fff" stroke="#141414" stroke-width="1.25"/>
<ellipse cx="285.5" cy="305.5" rx="9" ry="5" fill="#fff" stroke="#141414" stroke-width="0.9"/>
<path d="M292.39 305.78 L287.57 309.23 L280.18 308.45 L277.61 304.22 L282.43 300.77 L289.82 301.55 Z" fill="#fff" stroke="#141414" stroke-width="1.3" stroke-linejoin="round" />
<path d="M292.39 302.28 L287.57 305.73 L287.57 309.23 L292.39 305.78 Z" fill="#fff" stroke="#141414" stroke-width="1.3" stroke-linejoin="round" />
<path d="M287.57 305.73 L280.18 304.95 L280.18 308.45 L287.57 309.23 Z" fill="#fff" stroke="#141414" stroke-width="1.3" stroke-linejoin="round" />
<path d="M280.18 304.95 L277.61 300.72 L277.61 304.22 L280.18 308.45 Z" fill="#fff" stroke="#141414" stroke-width="1.3" stroke-linejoin="round" />
<path d="M292.39 302.28 L287.57 305.73 L280.18 304.95 L277.61 300.72 L282.43 297.27 L289.82 298.05 Z" fill="#fff" stroke="#141414" stroke-width="1.3" stroke-linejoin="round" />
<ellipse cx="285" cy="299.5" rx="3.6" ry="2.2" fill="#fff" stroke="#141414" stroke-width="1.4"/>
<ellipse cx="285" cy="297.8" rx="3" ry="1.8" fill="#fff" stroke="#141414" stroke-width="1.2"/>
<path d="M684.22 186.67 L686.53 184.53 L690.44 184 L690.44 182.76 L693.64 182.76 L694 184.89 L722.44 190.22 L732.22 196.44 L741.11 211.56 L741.11 213.33 L736.31 215.11 L736.31 224.89 L716.22 222.22 L716.22 213.33 L718.89 210.67 L722.44 207.11 L726 203.56 L718.89 200 L710.89 195.56 L704.67 196.44 L701.11 198.22 L700.22 209.78 L694.89 210.67 L690.44 207.11 L690.44 202.67 L685.47 198.22 Z" fill="#fff" stroke="#141414" stroke-width="1.5" stroke-linejoin="round" />
<path d="M685.47 189.33 L691.33 192 L700.22 195.56 L704.67 196.44" fill="none" stroke="#141414" stroke-width="0.9" stroke-linejoin="round" />
<path d="M691.33 192 L691.33 207.11" fill="none" stroke="#141414" stroke-width="0.9" stroke-linejoin="round" />
<line x1="695.42" y1="198.22" x2="695.42" y2="209.78" stroke="#141414" stroke-width="0.9" stroke-linecap="butt"/>
<line x1="696.49" y1="198.22" x2="696.49" y2="209.78" stroke="#141414" stroke-width="0.9" stroke-linecap="butt"/>
<line x1="697.56" y1="198.22" x2="697.56" y2="209.78" stroke="#141414" stroke-width="0.9" stroke-linecap="butt"/>
<line x1="698.62" y1="198.22" x2="698.62" y2="209.78" stroke="#141414" stroke-width="0.9" stroke-linecap="butt"/>
<line x1="699.69" y1="198.22" x2="699.69" y2="209.78" stroke="#141414" stroke-width="0.9" stroke-linecap="butt"/>
<path d="M716.22 213.33 L736.31 215.11" fill="none" stroke="#141414" stroke-width="0.9" stroke-linejoin="round" />
<path d="M736.31 213.33 L741.11 211.56" fill="none" stroke="#141414" stroke-width="0.9" stroke-linejoin="round" />
<path d="M718.89 219.56 L727.42 220.44 L727.42 222.22" fill="none" stroke="#141414" stroke-width="0.9" stroke-linejoin="round" />
<path d="M718.89 219.56 L718.89 221.33 L727.42 222.22" fill="none" stroke="#141414" stroke-width="0.9" stroke-linejoin="round" />
<path d="M736.67 217.78 L740.22 216.89 L740.22 224 L736.67 224.89" fill="none" stroke="#141414" stroke-width="1.2" stroke-linejoin="round" />
<path d="M718.36 194.67 L722.44 192.89 L726.89 195.56 L722.44 197.69 Z" fill="none" stroke="#141414" stroke-width="0.9" stroke-linejoin="round" />
<ellipse cx="703.24" cy="191.64" rx="1.3" ry="1" fill="#141414" stroke="#141414" stroke-width="0.5"/>
<ellipse cx="728.67" cy="205.87" rx="1.3" ry="1" fill="#141414" stroke="#141414" stroke-width="0.5"/>
<path d="M650.98 207.64 L653.11 206.58 L669.47 208 L669.47 213.33 L673.56 222.22 L678 227.56 L686.89 226.67 L686.89 224.89 L691.33 224 L692.22 225.42 L698.44 225.78 L702.89 233.78 L702.89 238.22 L701.11 240 L702 249.78 L695.78 251.56 L691.33 243.56 L688.67 239.11 L674.44 236.44 L663.78 232.89 L658.44 230.22 L654 224 L651.33 220.44 L646.36 219.02 L646.36 213.33 L648.67 210.67 Z" fill="#fff" stroke="#141414" stroke-width="1.5" stroke-linejoin="round" />
<path d="M650.98 207.64 L650.98 213.33 L654 224" fill="none" stroke="#141414" stroke-width="0.9" stroke-linejoin="round" />
<path d="M669.47 213.33 L671.78 214.22 L671.78 221.33" fill="none" stroke="#141414" stroke-width="0.9" stroke-linejoin="round" />
<path d="M646.36 221.33 L651.33 223.11 L654 226.67" fill="none" stroke="#141414" stroke-width="0.9" stroke-linejoin="round" />
<path d="M645.11 220.44 L646.36 225.78 L654 227.2" fill="none" stroke="#141414" stroke-width="0.9" stroke-linejoin="round" />
<path d="M688.67 239.11 L702.89 235.56" fill="none" stroke="#141414" stroke-width="0.9" stroke-linejoin="round" />
<path d="M694.89 240 L694.89 248.89" fill="none" stroke="#141414" stroke-width="0.9" stroke-linejoin="round" />
<path d="M698.44 239.11 L698.98 249.78" fill="none" stroke="#141414" stroke-width="1.2" stroke-linejoin="round" />
<path d="M696.13 245.33 L701.11 243.91" fill="none" stroke="#141414" stroke-width="0.9" stroke-linejoin="round" />
<path d="M662 227.2 L666.09 225.42 L670 227.91 L665.56 229.87 Z" fill="none" stroke="#141414" stroke-width="0.9" stroke-linejoin="round" />
<ellipse cx="658.09" cy="217.24" rx="1.3" ry="1" fill="#141414" stroke="#141414" stroke-width="0.5"/>
<ellipse cx="684.58" cy="231.64" rx="1.3" ry="1" fill="#141414" stroke="#141414" stroke-width="0.5"/>
<path d="M644 412 L644.12 409.25 L644.49 406.51 L645.1 403.79 L645.94 401.08 L647.03 398.41 L648.36 395.78 L649.91 393.19 L651.69 390.65 L653.7 388.17 L655.92 385.75 L658.36 383.41 L661 381.14 L663.83 378.96 L666.86 376.87 L670.07 374.88 L673.45 372.98 L676.99 371.2 L680.69 369.53 L684.53 367.97 L688.5 366.53 L692.59 365.22 L696.8 364.04 L701.11 362.99 L705.5 362.07 L709.97 361.29 L714.5 360.65 L719.08 360.15 L723.7 359.79 L728.34 359.57 L733 359.5 L737.66 359.57 L742.3 359.79 L746.92 360.15 L751.5 360.65 L756.03 361.29 L760.5 362.07 L764.89 362.99 L769.2 364.04 L773.41 365.22 L777.5 366.53 L781.47 367.97 L785.31 369.53 L789.01 371.2 L792.55 372.98 L795.93 374.88 L799.14 376.87 L802.17 378.96 L805 381.14 L807.64 383.41 L810.08 385.75 L812.3 388.17 L814.31 390.65 L816.09 393.19 L817.64 395.78 L818.97 398.41 L820.06 401.08 L820.9 403.79 L821.51 406.51 L821.88 409.25 L822 412 L822 430 L822 430 L821.88 432.75 L821.51 435.49 L820.9 438.21 L820.06 440.92 L818.97 443.59 L817.64 446.22 L816.09 448.81 L814.31 451.35 L812.3 453.83 L810.08 456.25 L807.64 458.59 L805 460.86 L802.17 463.04 L799.14 465.13 L795.93 467.12 L792.55 469.02 L789.01 470.8 L785.31 472.47 L781.47 474.03 L777.5 475.47 L773.41 476.78 L769.2 477.96 L764.89 479.01 L760.5 479.93 L756.03 480.71 L751.5 481.35 L746.92 481.85 L742.3 482.21 L737.66 482.43 L733 482.5 L728.34 482.43 L723.7 482.21 L719.08 481.85 L714.5 481.35 L709.97 480.71 L705.5 479.93 L701.11 479.01 L696.8 477.96 L692.59 476.78 L688.5 475.47 L684.53 474.03 L680.69 472.47 L676.99 470.8 L673.45 469.02 L670.07 467.12 L666.86 465.13 L663.83 463.04 L661 460.86 L658.36 458.59 L655.92 456.25 L653.7 453.83 L651.69 451.35 L649.91 448.81 L648.36 446.22 L647.03 443.59 L645.94 440.92 L645.1 438.21 L644.49 435.49 L644.12 432.75 L644 430 Z" fill="#fff" stroke="#141414" stroke-width="1.25" stroke-linejoin="round" />
<ellipse cx="733" cy="412" rx="89" ry="52.5" fill="#fff" stroke="#141414" stroke-width="1.25"/>
<ellipse cx="733" cy="412.8" rx="85.4" ry="49.9" fill="none" stroke="#141414" stroke-width="1.25"/>
<path d="M649.47 419.17 L650.87 415.88 L652.65 412.66 L654.8 409.52 L657.32 406.47 L660.18 403.53 L663.39 400.71 L666.91 398.02 L670.75 395.48 L674.87 393.09 L679.26 390.88 L683.89 388.84 L688.76 386.99 L693.83 385.34 L699.08 383.89 L704.49 382.65 L710.03 381.63 L715.68 380.83 L721.41 380.26 L727.19 379.92 L733 379.8 L738.81 379.92 L744.59 380.26 L750.32 380.83 L755.97 381.63 L761.51 382.65 L766.92 383.89 L772.17 385.34 L777.24 386.99 L782.11 388.84 L786.74 390.88 L791.13 393.09 L795.25 395.48 L799.09 398.02 L802.61 400.71 L805.82 403.53 L808.68 406.47 L811.2 409.52 L813.35 412.66 L815.13 415.88 L816.53 419.17" fill="none" stroke="#141414" stroke-width="1.25" stroke-linejoin="round" />
<line x1="735.7" y1="361" x2="735.7" y2="382.5" stroke="#141414" stroke-width="0.9" stroke-linecap="butt"/>
<line x1="737" y1="361" x2="737" y2="382.5" stroke="#141414" stroke-width="0.9" stroke-linecap="butt"/>
<path d="M713 368 L715.3 368 L715.3 380 L713 380 Z" fill="none" stroke="#141414" stroke-width="0.7" stroke-linejoin="round" />
<path d="M718.5 368 L720.8 368 L720.8 380 L718.5 380 Z" fill="none" stroke="#141414" stroke-width="0.7" stroke-linejoin="round" />
<path d="M724 368 L726.3 368 L726.3 380 L724 380 Z" fill="none" stroke="#141414" stroke-width="0.7" stroke-linejoin="round" />
<path d="M729.5 368 L731.8 368 L731.8 380 L729.5 380 Z" fill="none" stroke="#141414" stroke-width="0.7" stroke-linejoin="round" />
<path d="M744.5 368 L746.8 368.3 L746.8 380 L744.5 380 Z" fill="none" stroke="#141414" stroke-width="0.7" stroke-linejoin="round" />
<path d="M750 368 L752.3 368.3 L752.3 380 L750 380 Z" fill="none" stroke="#141414" stroke-width="0.7" stroke-linejoin="round" />
<path d="M755.5 368 L757.8 368.3 L757.8 380 L755.5 380 Z" fill="none" stroke="#141414" stroke-width="0.7" stroke-linejoin="round" />
<path d="M732.5 468 L734.8 468 L734.8 479.5 L732.5 479.5 Z" fill="none" stroke="#141414" stroke-width="0.7" stroke-linejoin="round" />
<path d="M738 468 L740.3 468 L740.3 479.5 L738 479.5 Z" fill="none" stroke="#141414" stroke-width="0.7" stroke-linejoin="round" />
<path d="M743.5 468 L745.8 468 L745.8 479.5 L743.5 479.5 Z" fill="none" stroke="#141414" stroke-width="0.7" stroke-linejoin="round" />
<path d="M749 468 L751.3 468 L751.3 479.5 L749 479.5 Z" fill="none" stroke="#141414" stroke-width="0.7" stroke-linejoin="round" />
<path d="M823.6 433 L826.3 414 L828.2 410.2 L831.5 407.8 L835 407.4 L838.6 409.6 L841 414.5 L840.2 422 L837.6 437 L830 436 Z" fill="#fff" stroke="#141414" stroke-width="1.4" stroke-linejoin="round" />
<line x1="826.4" y1="413.7" x2="840.9" y2="411.7" stroke="#141414" stroke-width="1" stroke-linecap="butt"/>
<line x1="826.06" y1="416.3" x2="840.5" y2="414.3" stroke="#141414" stroke-width="1" stroke-linecap="butt"/>
<line x1="825.72" y1="418.9" x2="840.1" y2="416.9" stroke="#141414" stroke-width="1" stroke-linecap="butt"/>
<line x1="825.38" y1="421.5" x2="839.7" y2="419.5" stroke="#141414" stroke-width="1" stroke-linecap="butt"/>
<line x1="825.04" y1="424.1" x2="839.3" y2="422.1" stroke="#141414" stroke-width="1" stroke-linecap="butt"/>
<line x1="824.7" y1="426.7" x2="838.9" y2="424.7" stroke="#141414" stroke-width="1" stroke-linecap="butt"/>
<line x1="824.36" y1="429.3" x2="838.5" y2="427.3" stroke="#141414" stroke-width="1" stroke-linecap="butt"/>
<line x1="824.02" y1="431.9" x2="838.1" y2="429.9" stroke="#141414" stroke-width="1" stroke-linecap="butt"/>
<line x1="823.68" y1="434.5" x2="837.7" y2="432.5" stroke="#141414" stroke-width="1" stroke-linecap="butt"/>
<path d="M823.3 432.7 L832 434 L837.5 436 L838.8 440.7 L836.2 449.3 L828 452.5 L819.3 448.9 L816.6 442.7 L819.3 436 Z" fill="#fff" stroke="#141414" stroke-width="1.4" stroke-linejoin="round" />
<line x1="828.3" y1="433.5" x2="825" y2="438.6" stroke="#141414" stroke-width="0.9" stroke-linecap="butt"/>
<line x1="832.8" y1="434.5" x2="833" y2="440" stroke="#141414" stroke-width="0.9" stroke-linecap="butt"/>
<ellipse cx="826.7" cy="445.3" rx="8.6" ry="4.9" fill="#fff" stroke="#141414" stroke-width="1.3" transform="rotate(14 826.7 445.3)"/>
<path d="M822.5 444.5 L825.5 443 L827 445 L830.5 444 L831.5 447.3 L828.5 448.3 L827 446.3 L823.5 447.8 Z" fill="none" stroke="#141414" stroke-width="1" stroke-linejoin="round" />
<ellipse cx="389.8" cy="561" rx="11.76" ry="21" fill="#fff" stroke="#141414" stroke-width="1.25" transform="rotate(150 389.8 561)"/>
<path d="M382.22 565.37 L381.46 563.97 L380.77 562.54 L380.16 561.1 L379.63 559.64 L379.19 558.2 L378.84 556.76 L378.58 555.36 L378.42 553.99 L378.35 552.67 L378.38 551.4 L378.51 550.21 L378.74 549.09 L379.06 548.05 L379.47 547.11 L379.96 546.27 L380.55 545.53 L381.21 544.91 L381.95 544.4 L382.76 544.02 L383.63 543.75 L384.56 543.62 L385.54 543.6 L386.56 543.72 L387.61 543.96 L388.69 544.33 L389.79 544.82 L390.9 545.42 L392.02 546.14 L393.12 546.96 L394.21 547.89" fill="none" stroke="#141414" stroke-width="0.9" stroke-linejoin="round" />
<path d="M403.36 563.74 L403.62 565.14 L403.78 566.51 L403.84 567.83 L403.81 569.1 L403.68 570.29 L403.46 571.41 L403.14 572.45 L402.73 573.39 L402.23 574.23 L401.65 574.97 L400.99 575.59 L400.25 576.1 L399.44 576.48 L398.57 576.75 L397.64 576.88 L396.66 576.9 L395.64 576.78 L394.59 576.54 L393.5 576.17 L392.4 575.68 L391.29 575.08 L390.18 574.36 L389.08 573.54 L387.99 572.61 L386.92 571.59 L385.89 570.49 L384.89 569.3 L383.95 568.05 L383.06 566.74 L382.22 565.37" fill="none" stroke="#141414" stroke-width="0.9" stroke-linejoin="round" />
<path d="M384.78 563.9 L384.09 562.63 L383.46 561.33 L382.91 560.02 L382.43 558.7 L382.03 557.39 L381.71 556.09 L381.48 554.81 L381.33 553.57 L381.27 552.37 L381.3 551.23 L381.41 550.14 L381.62 549.12 L381.91 548.19 L382.28 547.33 L382.73 546.57 L383.26 545.9 L383.86 545.33 L384.53 544.87 L385.26 544.52 L386.06 544.29 L386.9 544.16 L387.79 544.15 L388.71 544.26 L389.67 544.48" fill="none" stroke="#141414" stroke-width="0.9" stroke-linejoin="round" />
<path d="M404.04 569.38 L403.76 570.31 L403.38 571.17 L402.93 571.93 L402.4 572.6 L401.8 573.17 L401.13 573.63 L400.4 573.98 L399.61 574.21 L398.76 574.34 L397.88 574.35 L396.95 574.24 L395.99 574.02 L395.01 573.69 L394.01 573.25 L393.01 572.7 L392 572.05 L391 571.3 L390.01 570.46 L389.04 569.54 L388.1 568.53 L387.2 567.46 L386.34 566.32 L385.53 565.13 L384.78 563.9" fill="none" stroke="#141414" stroke-width="0.9" stroke-linejoin="round" />
<line x1="383.6" y1="563.3" x2="398.7" y2="556.2" stroke="#141414" stroke-width="0.9" stroke-linecap="butt"/>
<ellipse cx="440.8" cy="590.7" rx="11.76" ry="21" fill="#fff" stroke="#141414" stroke-width="1.25" transform="rotate(150 440.8 590.7)"/>
<path d="M433.22 595.07 L432.46 593.67 L431.77 592.24 L431.16 590.8 L430.63 589.34 L430.19 587.9 L429.84 586.46 L429.58 585.06 L429.42 583.69 L429.35 582.37 L429.38 581.1 L429.51 579.91 L429.74 578.79 L430.06 577.75 L430.47 576.81 L430.96 575.97 L431.55 575.23 L432.21 574.61 L432.95 574.1 L433.76 573.72 L434.63 573.45 L435.56 573.32 L436.54 573.3 L437.56 573.42 L438.61 573.66 L439.69 574.03 L440.79 574.52 L441.9 575.12 L443.02 575.84 L444.12 576.66 L445.21 577.59" fill="none" stroke="#141414" stroke-width="0.9" stroke-linejoin="round" />
<path d="M454.36 593.44 L454.62 594.84 L454.78 596.21 L454.84 597.53 L454.81 598.8 L454.68 599.99 L454.46 601.11 L454.14 602.15 L453.73 603.09 L453.23 603.93 L452.65 604.67 L451.99 605.29 L451.25 605.8 L450.44 606.18 L449.57 606.45 L448.64 606.58 L447.66 606.6 L446.64 606.48 L445.59 606.24 L444.5 605.87 L443.4 605.38 L442.29 604.78 L441.18 604.06 L440.08 603.24 L438.99 602.31 L437.92 601.29 L436.89 600.19 L435.89 599 L434.95 597.75 L434.06 596.44 L433.22 595.07" fill="none" stroke="#141414" stroke-width="0.9" stroke-linejoin="round" />
<path d="M435.78 593.6 L435.09 592.33 L434.46 591.03 L433.91 589.72 L433.43 588.4 L433.03 587.09 L432.71 585.79 L432.48 584.51 L432.33 583.27 L432.27 582.07 L432.3 580.93 L432.41 579.84 L432.62 578.82 L432.91 577.89 L433.28 577.03 L433.73 576.27 L434.26 575.6 L434.86 575.03 L435.53 574.57 L436.26 574.22 L437.06 573.99 L437.9 573.86 L438.79 573.85 L439.71 573.96 L440.67 574.18" fill="none" stroke="#141414" stroke-width="0.9" stroke-linejoin="round" />
<path d="M455.04 599.08 L454.76 600.01 L454.38 600.87 L453.93 601.63 L453.4 602.3 L452.8 602.87 L452.13 603.33 L451.4 603.68 L450.61 603.91 L449.76 604.04 L448.88 604.05 L447.95 603.94 L446.99 603.72 L446.01 603.39 L445.01 602.95 L444.01 602.4 L443 601.75 L442 601 L441.01 600.16 L440.04 599.24 L439.1 598.23 L438.2 597.16 L437.34 596.02 L436.53 594.83 L435.78 593.6" fill="none" stroke="#141414" stroke-width="0.9" stroke-linejoin="round" />
<line x1="444" y1="589.5" x2="452" y2="585.5" stroke="#141414" stroke-width="0.9" stroke-linecap="butt"/>
<ellipse cx="518.4" cy="592.6" rx="10.68" ry="17.8" fill="#fff" stroke="#141414" stroke-width="1.25" transform="rotate(30 518.4 592.6)"/>
<ellipse cx="518.4" cy="592.6" rx="7.56" ry="12.2" fill="none" stroke="#141414" stroke-width="1.25" transform="rotate(30 518.4 592.6)"/>
<ellipse cx="551.8" cy="574" rx="10.68" ry="17.8" fill="#fff" stroke="#141414" stroke-width="1.25" transform="rotate(30 551.8 574)"/>
<path d="M557.69 577.4 L556.98 578.55 L556.22 579.66 L555.41 580.72 L554.55 581.71 L553.66 582.64 L552.73 583.49 L551.79 584.26 L550.82 584.94 L549.85 585.53 L548.88 586.02 L547.91 586.41 L546.95 586.7 L546.01 586.88 L545.11 586.95 L544.23 586.92 L543.4 586.78 L542.62 586.53 L541.88 586.17 L541.21 585.72 L540.6 585.16 L540.06 584.51 L539.6 583.77" fill="none" stroke="#141414" stroke-width="0.9" stroke-linejoin="round" />
<path d="M554.16 558.55 L555.04 558.58 L555.87 558.72 L556.65 558.97 L557.38 559.33 L558.06 559.78 L558.67 560.34 L559.21 560.99 L559.67 561.73 L560.06 562.55 L560.37 563.45 L560.6 564.42 L560.75 565.46 L560.81 566.55 L560.79 567.68 L560.68 568.86 L560.48 570.07 L560.21 571.29 L559.85 572.53 L559.42 573.77 L558.91 575 L558.33 576.21 L557.69 577.4" fill="none" stroke="#141414" stroke-width="0.9" stroke-linejoin="round" />
<path d="M555.28 576.01 L554.63 577.07 L553.94 578.08 L553.19 579.05 L552.41 579.96 L551.59 580.81 L550.74 581.59 L549.87 582.29 L548.99 582.92 L548.1 583.46 L547.21 583.91 L546.32 584.27 L545.44 584.53 L544.59 584.7 L543.75 584.76 L542.95 584.73 L542.19 584.6 L541.47 584.37 L540.8 584.05 L540.19 583.63 L539.63 583.12" fill="none" stroke="#141414" stroke-width="0.9" stroke-linejoin="round" />
<path d="M553.61 558.9 L554.33 559.13 L555 559.45 L555.62 559.87 L556.18 560.38 L556.67 560.97 L557.1 561.65 L557.46 562.4 L557.74 563.23 L557.95 564.12 L558.08 565.07 L558.14 566.07 L558.12 567.11 L558.02 568.19 L557.84 569.29 L557.59 570.41 L557.26 571.55 L556.87 572.68 L556.4 573.81 L555.87 574.92 L555.28 576.01" fill="none" stroke="#141414" stroke-width="0.9" stroke-linejoin="round" />
<line x1="544" y1="568" x2="560" y2="577.5" stroke="#141414" stroke-width="0.9" stroke-linecap="butt"/>
<line x1="552" y1="564" x2="549" y2="583" stroke="#141414" stroke-width="0.9" stroke-linecap="butt"/>
<ellipse cx="583.8" cy="549.2" rx="10.68" ry="17.8" fill="#fff" stroke="#141414" stroke-width="1.25" transform="rotate(30 583.8 549.2)"/>
<path d="M590.28 552.94 L589.56 554.11 L588.78 555.24 L587.95 556.32 L587.08 557.33 L586.17 558.28 L585.23 559.15 L584.26 559.93 L583.28 560.63 L582.29 561.23 L581.29 561.73 L580.31 562.13 L579.33 562.42 L578.38 562.6 L577.45 562.68 L576.56 562.64 L575.71 562.5 L574.91 562.24 L574.17 561.88 L573.48 561.42 L572.86 560.85 L572.31 560.19 L571.84 559.44 L571.44 558.6" fill="none" stroke="#141414" stroke-width="0.9" stroke-linejoin="round" />
<path d="M585.76 533.8 L586.68 533.72 L587.57 533.76 L588.42 533.9 L589.22 534.16 L589.97 534.52 L590.65 534.98 L591.27 535.55 L591.82 536.21 L592.3 536.96 L592.7 537.8 L593.01 538.72 L593.25 539.71 L593.4 540.76 L593.46 541.88 L593.44 543.04 L593.32 544.23 L593.13 545.46 L592.85 546.71 L592.48 547.97 L592.04 549.24 L591.52 550.49 L590.94 551.73 L590.28 552.94" fill="none" stroke="#141414" stroke-width="0.9" stroke-linejoin="round" />
<ellipse cx="578.8" cy="547.2" rx="3.1" ry="5" fill="none" stroke="#141414" stroke-width="0.9" transform="rotate(30 578.8 547.2)"/>
<line x1="575.5" y1="545.3" x2="587" y2="551" stroke="#141414" stroke-width="0.9" stroke-linecap="butt"/>
<ellipse cx="435.2" cy="481" rx="3.2" ry="2" fill="#fff" stroke="#141414" stroke-width="1.3"/>
<ellipse cx="527.5" cy="533.5" rx="3.2" ry="2" fill="#fff" stroke="#141414" stroke-width="1.3"/>
<ellipse cx="435.5" cy="481.2" rx="1.6" ry="1" fill="#555" stroke="#141414" stroke-width="0.5"/>
<ellipse cx="527.8" cy="533.7" rx="1.6" ry="1" fill="#555" stroke="#141414" stroke-width="0.5"/>
<path d="M327.33 433.23 L327.84 433.43 L328.41 433.52 L329.01 433.49 L329.65 433.35 L330.3 433.1 L330.96 432.74 L331.62 432.27 L332.26 431.72 L332.88 431.08 L333.46 430.36 L334 429.58 L334.48 428.76 L334.89 427.9 L335.24 427.02 L335.5 426.14 L335.69 425.27 L335.79 424.43 L335.81 423.62 L335.74 422.87 L335.58 422.19 L335.35 421.58 L335.03 421.07 L334.64 420.65 L334.18 420.34 L329.33 417.75 L328.81 417.55 L328.25 417.46 L327.64 417.49 L327.01 417.63 L326.35 417.88 L325.69 418.24 L325.04 418.71 L324.39 419.26 L323.78 419.91 L323.19 420.62 L322.66 421.4 L322.18 422.22 L321.77 423.08 L321.42 423.96 L321.15 424.84 L320.97 425.71 L320.86 426.55 L320.85 427.36 L320.92 428.11 L321.07 428.79 L321.31 429.4 L321.63 429.91 L322.02 430.33 L322.47 430.65 Z" fill="#fff" stroke="#141414" stroke-width="1.25" stroke-linejoin="round" />
<ellipse cx="330.76" cy="426.78" rx="4.21" ry="7.3" fill="#fff" stroke="#141414" stroke-width="1.25" transform="rotate(28 330.76 426.78)"/>
<path d="M322.74 430.79 L322.08 430.28 L321.58 429.54 L321.25 428.6 L321.11 427.5 L321.17 426.28 L321.42 424.98 L321.85 423.66 L322.45 422.36 L323.19 421.14 L324.04 420.05 L324.98 419.12 L325.96 418.38 L326.95 417.88 L327.91 417.63 L328.8 417.63 L329.59 417.9" fill="none" stroke="#141414" stroke-width="1.3" stroke-linejoin="round" />
<path d="M323.89 431.4 L323.23 430.89 L322.72 430.15 L322.4 429.21 L322.26 428.11 L322.32 426.89 L322.57 425.59 L323 424.27 L323.59 422.97 L324.33 421.75 L325.19 420.66 L326.12 419.73 L327.11 419 L328.1 418.49 L329.06 418.24 L329.95 418.24 L330.74 418.51" fill="none" stroke="#141414" stroke-width="1.3" stroke-linejoin="round" />
<path d="M325.03 432.01 L324.37 431.5 L323.87 430.76 L323.54 429.82 L323.41 428.72 L323.46 427.5 L323.71 426.2 L324.14 424.88 L324.74 423.58 L325.48 422.36 L326.34 421.27 L327.27 420.34 L328.25 419.61 L329.24 419.1 L330.2 418.85 L331.1 418.85 L331.89 419.12" fill="none" stroke="#141414" stroke-width="1.3" stroke-linejoin="round" />
<path d="M326.18 432.62 L325.52 432.11 L325.02 431.37 L324.69 430.43 L324.56 429.33 L324.61 428.11 L324.86 426.81 L325.29 425.49 L325.89 424.19 L326.63 422.97 L327.48 421.88 L328.42 420.95 L329.4 420.22 L330.39 419.71 L331.35 419.46 L332.24 419.46 L333.04 419.73" fill="none" stroke="#141414" stroke-width="1.3" stroke-linejoin="round" />
<path d="M327.33 433.23 L326.67 432.72 L326.17 431.98 L325.84 431.04 L325.7 429.94 L325.76 428.72 L326.01 427.42 L326.44 426.1 L327.04 424.8 L327.78 423.59 L328.63 422.49 L329.57 421.56 L330.55 420.83 L331.54 420.32 L332.5 420.07 L333.39 420.07 L334.18 420.34" fill="none" stroke="#141414" stroke-width="1.3" stroke-linejoin="round" />
<path d="M333.23 434.89 L325.12 437.38 L322.64 429.26 L328.28 418.67 L336.39 416.19 L338.87 424.3 Z" fill="#fff" stroke="#141414" stroke-width="1.25" stroke-linejoin="round" />
<path d="M325.12 437.38 L322.64 429.26 L327.06 431.61 L329.54 439.72 Z" fill="#fff" stroke="#141414" stroke-width="1.25" stroke-linejoin="round" />
<path d="M322.64 429.26 L328.28 418.67 L332.69 421.02 L327.06 431.61 Z" fill="#fff" stroke="#141414" stroke-width="1.25" stroke-linejoin="round" />
<path d="M328.28 418.67 L336.39 416.19 L340.8 418.53 L332.69 421.02 Z" fill="#fff" stroke="#141414" stroke-width="1.25" stroke-linejoin="round" />
<path d="M337.65 437.24 L329.54 439.72 L327.06 431.61 L332.69 421.02 L340.8 418.53 L343.28 426.65 Z" fill="#fff" stroke="#141414" stroke-width="1.25" stroke-linejoin="round" />
<path d="M339.12 440.86 L327.63 444.37 L324.12 432.88 L332.1 417.87 L343.59 414.35 L347.1 425.85 Z" fill="#fff" stroke="#141414" stroke-width="1.25" stroke-linejoin="round" />
<path d="M327.63 444.37 L324.12 432.88 L341.34 442.04 L344.85 453.53 Z" fill="#fff" stroke="#141414" stroke-width="1.25" stroke-linejoin="round" />
<path d="M324.12 432.88 L332.1 417.87 L349.32 427.03 L341.34 442.04 Z" fill="#fff" stroke="#141414" stroke-width="1.25" stroke-linejoin="round" />
<path d="M332.1 417.87 L343.59 414.35 L360.81 423.51 L349.32 427.03 Z" fill="#fff" stroke="#141414" stroke-width="1.25" stroke-linejoin="round" />
<path d="M356.34 450.01 L344.85 453.53 L341.34 442.04 L349.32 427.03 L360.81 423.51 L364.32 435 Z" fill="#fff" stroke="#141414" stroke-width="1.25" stroke-linejoin="round" />
<ellipse cx="352.83" cy="438.52" rx="8.37" ry="14.5" fill="none" stroke="#141414" stroke-width="0.9" transform="rotate(28 352.83 438.52)"/>
<path d="M353.68 452.9 L354.54 453.24 L355.5 453.39 L356.52 453.35 L357.58 453.11 L358.69 452.68 L359.8 452.08 L360.91 451.29 L361.99 450.36 L363.03 449.27 L364.01 448.07 L364.91 446.76 L365.72 445.37 L366.42 443.93 L367 442.45 L367.45 440.96 L367.77 439.5 L367.94 438.07 L367.97 436.72 L367.85 435.45 L367.59 434.3 L367.18 433.28 L366.65 432.41 L366 431.71 L365.23 431.18 L358.6 427.66 L357.74 427.32 L356.79 427.17 L355.77 427.21 L354.7 427.45 L353.6 427.87 L352.48 428.48 L351.37 429.26 L350.29 430.2 L349.25 431.28 L348.27 432.49 L347.37 433.8 L346.56 435.19 L345.86 436.63 L345.28 438.11 L344.83 439.6 L344.52 441.06 L344.34 442.49 L344.32 443.84 L344.43 445.11 L344.7 446.26 L345.1 447.28 L345.63 448.15 L346.29 448.85 L347.06 449.38 Z" fill="#fff" stroke="#141414" stroke-width="1.25" stroke-linejoin="round" />
<ellipse cx="359.45" cy="442.04" rx="7.1" ry="12.3" fill="#fff" stroke="#141414" stroke-width="1.25" transform="rotate(28 359.45 442.04)"/>
<path d="M346.5 448.87 L345.7 447.82 L345.14 446.49 L344.82 444.93 L344.76 443.18 L344.96 441.3 L345.41 439.34 L346.1 437.36 L347.01 435.42 L348.1 433.59 L349.36 431.91 L350.73 430.44 L352.18 429.22 L353.67 428.29 L355.14 427.68 L356.55 427.41 L357.87 427.48" fill="none" stroke="#141414" stroke-width="1" stroke-linejoin="round" />
<path d="M347.6 449.46 L346.81 448.41 L346.24 447.08 L345.92 445.52 L345.86 443.77 L346.06 441.89 L346.51 439.92 L347.2 437.95 L348.11 436.01 L349.21 434.17 L350.46 432.5 L351.84 431.02 L353.29 429.81 L354.77 428.88 L356.24 428.27 L357.66 428 L358.97 428.07" fill="none" stroke="#141414" stroke-width="1" stroke-linejoin="round" />
<path d="M348.7 450.04 L347.91 448.99 L347.34 447.67 L347.03 446.11 L346.97 444.36 L347.16 442.47 L347.62 440.51 L348.3 438.53 L349.21 436.6 L350.31 434.76 L351.57 433.08 L352.94 431.61 L354.39 430.39 L355.87 429.47 L357.35 428.86 L358.76 428.58 L360.08 428.65" fill="none" stroke="#141414" stroke-width="1" stroke-linejoin="round" />
<path d="M349.81 450.63 L349.01 449.58 L348.45 448.25 L348.13 446.69 L348.07 444.94 L348.27 443.06 L348.72 441.1 L349.41 439.12 L350.32 437.18 L351.41 435.35 L352.67 433.67 L354.04 432.2 L355.49 430.98 L356.98 430.05 L358.45 429.44 L359.87 429.17 L361.18 429.24" fill="none" stroke="#141414" stroke-width="1" stroke-linejoin="round" />
<path d="M350.91 451.22 L350.12 450.17 L349.55 448.84 L349.23 447.28 L349.17 445.53 L349.37 443.65 L349.82 441.68 L350.51 439.71 L351.42 437.77 L352.52 435.93 L353.77 434.26 L355.15 432.79 L356.6 431.57 L358.08 430.64 L359.55 430.03 L360.97 429.76 L362.28 429.83" fill="none" stroke="#141414" stroke-width="1" stroke-linejoin="round" />
<path d="M352.01 451.8 L351.22 450.75 L350.66 449.43 L350.34 447.87 L350.28 446.12 L350.48 444.23 L350.93 442.27 L351.62 440.29 L352.52 438.36 L353.62 436.52 L354.88 434.84 L356.25 433.37 L357.7 432.15 L359.19 431.23 L360.66 430.62 L362.07 430.34 L363.39 430.41" fill="none" stroke="#141414" stroke-width="1" stroke-linejoin="round" />
<path d="M355.71 452.28 L356.47 452.58 L357.3 452.71 L358.2 452.67 L359.14 452.47 L360.1 452.09 L361.08 451.56 L362.06 450.87 L363.01 450.05 L363.92 449.1 L364.78 448.04 L365.57 446.89 L366.28 445.67 L366.89 444.4 L367.4 443.1 L367.8 441.8 L368.08 440.51 L368.23 439.26 L368.25 438.07 L368.15 436.96 L367.92 435.95 L367.57 435.05 L367.1 434.29 L366.52 433.67 L365.85 433.21 L364.52 432.5 L363.76 432.2 L362.93 432.07 L362.03 432.11 L361.09 432.32 L360.13 432.69 L359.15 433.23 L358.17 433.91 L357.22 434.74 L356.31 435.69 L355.45 436.75 L354.66 437.89 L353.95 439.11 L353.34 440.38 L352.83 441.68 L352.43 442.99 L352.15 444.27 L352 445.52 L351.98 446.71 L352.08 447.82 L352.31 448.84 L352.66 449.73 L353.13 450.49 L353.71 451.11 L354.38 451.58 Z" fill="#fff" stroke="#141414" stroke-width="1.25" stroke-linejoin="round" />
<ellipse cx="360.78" cy="442.74" rx="6.23" ry="10.8" fill="#fff" stroke="#141414" stroke-width="1.25" transform="rotate(28 360.78 442.74)"/>
<path d="M364.91 456.27 L365.62 456.55 L366.39 456.67 L367.22 456.63 L368.09 456.44 L368.98 456.09 L369.89 455.6 L370.79 454.96 L371.67 454.2 L372.52 453.32 L373.31 452.34 L374.04 451.28 L374.7 450.15 L375.27 448.97 L375.74 447.77 L376.11 446.56 L376.37 445.37 L376.51 444.21 L376.53 443.11 L376.43 442.08 L376.22 441.15 L375.89 440.32 L375.46 439.61 L374.93 439.04 L374.3 438.61 L365.47 433.91 L364.77 433.64 L363.99 433.51 L363.16 433.55 L362.29 433.74 L361.4 434.09 L360.49 434.59 L359.59 435.22 L358.71 435.98 L357.87 436.86 L357.07 437.84 L356.34 438.91 L355.68 440.04 L355.11 441.21 L354.64 442.41 L354.27 443.62 L354.02 444.81 L353.88 445.97 L353.85 447.07 L353.95 448.1 L354.16 449.04 L354.49 449.86 L354.92 450.57 L355.46 451.14 L356.08 451.57 Z" fill="#fff" stroke="#141414" stroke-width="1.25" stroke-linejoin="round" />
<ellipse cx="369.61" cy="447.44" rx="5.77" ry="10" fill="#fff" stroke="#141414" stroke-width="1.25" transform="rotate(28 369.61 447.44)"/>
<ellipse cx="367.57" cy="439.56" rx="1.6" ry="1.84" fill="#fff" stroke="#141414" stroke-width="1" transform="rotate(28 367.57 439.56)"/>
<ellipse cx="363.85" cy="448.68" rx="1.6" ry="1.84" fill="#fff" stroke="#141414" stroke-width="1" transform="rotate(28 363.85 448.68)"/>
<path d="M367.11 454.27 L367.62 454.47 L368.17 454.55 L368.77 454.53 L369.4 454.39 L370.04 454.14 L370.69 453.78 L371.34 453.33 L371.98 452.78 L372.58 452.14 L373.16 451.44 L373.68 450.67 L374.16 449.86 L374.57 449.01 L374.91 448.15 L375.17 447.28 L375.36 446.42 L375.46 445.59 L375.47 444.79 L375.4 444.05 L375.25 443.38 L375.02 442.78 L374.7 442.27 L374.32 441.86 L373.87 441.55 L372.99 441.08 L372.48 440.88 L371.92 440.79 L371.33 440.82 L370.7 440.96 L370.05 441.21 L369.4 441.56 L368.75 442.02 L368.12 442.57 L367.51 443.2 L366.94 443.91 L366.41 444.68 L365.94 445.49 L365.53 446.33 L365.19 447.2 L364.92 448.07 L364.74 448.93 L364.64 449.76 L364.62 450.55 L364.69 451.3 L364.84 451.97 L365.08 452.57 L365.39 453.07 L365.78 453.49 L366.23 453.8 Z" fill="#fff" stroke="#141414" stroke-width="1.25" stroke-linejoin="round" />
<ellipse cx="370.49" cy="447.91" rx="4.15" ry="7.2" fill="#fff" stroke="#141414" stroke-width="1.25" transform="rotate(28 370.49 447.91)"/>
<path d="M370.42 457.61 L371.03 457.85 L371.7 457.96 L372.41 457.93 L373.16 457.76 L373.93 457.46 L374.71 457.04 L375.48 456.49 L376.24 455.84 L376.96 455.08 L377.65 454.24 L378.28 453.32 L378.84 452.35 L379.33 451.34 L379.74 450.31 L380.06 449.27 L380.28 448.24 L380.4 447.25 L380.42 446.3 L380.33 445.41 L380.15 444.61 L379.87 443.9 L379.5 443.29 L379.04 442.8 L378.5 442.43 L374.53 440.31 L373.92 440.08 L373.25 439.97 L372.54 440 L371.79 440.17 L371.02 440.47 L370.25 440.89 L369.47 441.44 L368.71 442.09 L367.99 442.85 L367.3 443.69 L366.67 444.61 L366.11 445.58 L365.62 446.59 L365.21 447.62 L364.9 448.66 L364.68 449.69 L364.56 450.68 L364.54 451.63 L364.62 452.51 L364.8 453.32 L365.08 454.03 L365.45 454.64 L365.91 455.13 L366.45 455.5 Z" fill="#fff" stroke="#141414" stroke-width="1.25" stroke-linejoin="round" />
<ellipse cx="374.46" cy="450.02" rx="4.96" ry="8.6" fill="#fff" stroke="#141414" stroke-width="1.25" transform="rotate(28 374.46 450.02)"/>
<path d="M366.53 455.5 L365.86 454.83 L365.37 453.92 L365.07 452.82 L364.97 451.56 L365.08 450.17 L365.38 448.72 L365.88 447.25 L366.55 445.81 L367.37 444.45 L368.31 443.22 L369.34 442.15 L370.43 441.3 L371.53 440.67 L372.61 440.3 L373.64 440.2 L374.57 440.38" fill="none" stroke="#141414" stroke-width="1.1" stroke-linejoin="round" />
<path d="M367.59 456.07 L366.92 455.39 L366.43 454.49 L366.13 453.38 L366.03 452.12 L366.14 450.74 L366.44 449.29 L366.94 447.82 L367.61 446.38 L368.43 445.02 L369.37 443.78 L370.4 442.72 L371.49 441.86 L372.59 441.23 L373.67 440.87 L374.7 440.77 L375.63 440.94" fill="none" stroke="#141414" stroke-width="1.1" stroke-linejoin="round" />
<path d="M368.65 456.63 L367.98 455.96 L367.49 455.05 L367.19 453.95 L367.09 452.68 L367.2 451.3 L367.5 449.85 L368 448.38 L368.67 446.94 L369.49 445.58 L370.43 444.35 L371.46 443.28 L372.55 442.42 L373.65 441.8 L374.73 441.43 L375.76 441.33 L376.69 441.5" fill="none" stroke="#141414" stroke-width="1.1" stroke-linejoin="round" />
<path d="M369.7 457.19 L369.04 456.52 L368.55 455.61 L368.25 454.51 L368.15 453.25 L368.26 451.86 L368.56 450.41 L369.06 448.94 L369.73 447.5 L370.55 446.14 L371.49 444.91 L372.52 443.85 L373.61 442.99 L374.71 442.36 L375.79 441.99 L376.82 441.89 L377.75 442.07" fill="none" stroke="#141414" stroke-width="1.1" stroke-linejoin="round" />
<path d="M372.06 456.67 L372.55 456.87 L373.09 456.95 L373.67 456.93 L374.28 456.79 L374.91 456.55 L375.54 456.2 L376.17 455.76 L376.79 455.22 L377.38 454.61 L377.94 453.92 L378.45 453.18 L378.91 452.39 L379.31 451.56 L379.64 450.72 L379.9 449.88 L380.08 449.04 L380.17 448.23 L380.19 447.46 L380.12 446.74 L379.97 446.09 L379.75 445.51 L379.44 445.01 L379.07 444.61 L378.63 444.31 L377.75 443.84 L377.25 443.65 L376.71 443.56 L376.13 443.59 L375.53 443.72 L374.9 443.96 L374.26 444.31 L373.63 444.75 L373.02 445.29 L372.42 445.9 L371.87 446.59 L371.36 447.33 L370.9 448.12 L370.5 448.95 L370.17 449.79 L369.91 450.63 L369.73 451.47 L369.63 452.28 L369.62 453.05 L369.68 453.77 L369.83 454.43 L370.06 455.01 L370.36 455.5 L370.74 455.9 L371.18 456.2 Z" fill="#fff" stroke="#141414" stroke-width="1.25" stroke-linejoin="round" />
<ellipse cx="375.35" cy="450.49" rx="4.04" ry="7" fill="#fff" stroke="#141414" stroke-width="1.25" transform="rotate(28 375.35 450.49)"/>
<path d="M377.96 460.49 L378.49 460.7 L379.08 460.79 L379.71 460.76 L380.37 460.62 L381.05 460.35 L381.74 459.98 L382.43 459.5 L383.09 458.91 L383.74 458.25 L384.34 457.5 L384.9 456.69 L385.4 455.84 L385.83 454.94 L386.19 454.03 L386.47 453.11 L386.66 452.2 L386.77 451.32 L386.79 450.49 L386.71 449.71 L386.55 448.99 L386.3 448.36 L385.97 447.83 L385.57 447.39 L385.09 447.07 L378.91 443.78 L378.38 443.57 L377.79 443.48 L377.16 443.5 L376.5 443.65 L375.82 443.91 L375.13 444.29 L374.45 444.77 L373.78 445.35 L373.13 446.02 L372.53 446.77 L371.97 447.57 L371.47 448.43 L371.04 449.33 L370.68 450.24 L370.4 451.16 L370.21 452.06 L370.1 452.94 L370.08 453.78 L370.16 454.56 L370.32 455.27 L370.57 455.9 L370.9 456.44 L371.3 456.87 L371.78 457.2 Z" fill="#fff" stroke="#141414" stroke-width="1.25" stroke-linejoin="round" />
<ellipse cx="381.53" cy="453.78" rx="4.39" ry="7.6" fill="#fff" stroke="#141414" stroke-width="1.25" transform="rotate(28 381.53 453.78)"/>
<ellipse cx="380.08" cy="449.04" rx="1.5" ry="1.72" fill="#fff" stroke="#141414" stroke-width="1" transform="rotate(28 380.08 449.04)"/>
<ellipse cx="378.07" cy="456.02" rx="1.5" ry="1.72" fill="#fff" stroke="#141414" stroke-width="1" transform="rotate(28 378.07 456.02)"/>
<path d="M379.59 459.54 L380.01 459.71 L380.48 459.78 L380.98 459.76 L381.5 459.65 L382.03 459.44 L382.58 459.14 L383.12 458.76 L383.65 458.3 L384.15 457.78 L384.63 457.19 L385.07 456.55 L385.47 455.87 L385.81 455.17 L386.09 454.44 L386.31 453.72 L386.46 453 L386.55 452.31 L386.56 451.65 L386.5 451.03 L386.38 450.47 L386.18 449.97 L385.92 449.55 L385.6 449.21 L385.23 448.95 L384.34 448.48 L383.92 448.31 L383.46 448.24 L382.96 448.26 L382.44 448.38 L381.9 448.58 L381.36 448.88 L380.82 449.26 L380.29 449.72 L379.78 450.25 L379.3 450.84 L378.86 451.47 L378.47 452.15 L378.13 452.86 L377.84 453.58 L377.62 454.3 L377.47 455.02 L377.39 455.71 L377.37 456.37 L377.43 456.99 L377.56 457.55 L377.75 458.05 L378.01 458.47 L378.33 458.82 L378.71 459.07 Z" fill="#fff" stroke="#141414" stroke-width="1.25" stroke-linejoin="round" />
<ellipse cx="382.41" cy="454.25" rx="3.46" ry="6" fill="#fff" stroke="#141414" stroke-width="1.25" transform="rotate(28 382.41 454.25)"/>
<path d="M383.82 462.24 L384.27 462.42 L384.77 462.5 L385.3 462.48 L385.85 462.35 L386.42 462.13 L387 461.82 L387.58 461.41 L388.14 460.92 L388.69 460.36 L389.2 459.73 L389.66 459.05 L390.08 458.33 L390.45 457.57 L390.75 456.81 L390.99 456.03 L391.15 455.27 L391.24 454.53 L391.25 453.82 L391.19 453.17 L391.06 452.57 L390.85 452.04 L390.57 451.58 L390.23 451.22 L389.83 450.94 L385.41 448.6 L384.96 448.42 L384.47 448.34 L383.94 448.36 L383.38 448.49 L382.81 448.71 L382.23 449.02 L381.65 449.43 L381.09 449.92 L380.55 450.48 L380.04 451.11 L379.57 451.79 L379.15 452.51 L378.78 453.26 L378.48 454.03 L378.25 454.81 L378.08 455.57 L377.99 456.31 L377.98 457.02 L378.04 457.67 L378.18 458.27 L378.38 458.8 L378.66 459.26 L379 459.62 L379.4 459.9 Z" fill="#fff" stroke="#141414" stroke-width="1.25" stroke-linejoin="round" />
<ellipse cx="386.82" cy="456.59" rx="3.69" ry="6.4" fill="#fff" stroke="#141414" stroke-width="1.25" transform="rotate(28 386.82 456.59)"/>
<ellipse cx="386.82" cy="456.59" rx="2.65" ry="4.6" fill="none" stroke="#141414" stroke-width="1" transform="rotate(28 386.82 456.59)"/>
<line x1="386.82" y1="456.59" x2="394.2" y2="463.3" stroke="#141414" stroke-width="1" stroke-linecap="butt"/>
<path d="M405.4 469.2 L412.2 473 L414.5 471.8" fill="none" stroke="#141414" stroke-width="1" stroke-linejoin="round" />
<path d="M210.41 439.56 L211.31 439.95 L212.31 440.15 L213.39 440.14 L214.53 439.93 L215.71 439.51 L216.9 438.91 L218.1 438.13 L219.28 437.18 L220.42 436.07 L221.5 434.84 L222.5 433.49 L223.4 432.05 L224.2 430.55 L224.86 429.01 L225.4 427.46 L225.78 425.92 L226.02 424.42 L226.1 422.99 L226.02 421.65 L225.78 420.43 L225.4 419.33 L224.87 418.4 L224.2 417.63 L223.41 417.04 L219.51 414.79 L218.61 414.4 L217.61 414.2 L216.53 414.21 L215.39 414.42 L214.21 414.84 L213.01 415.44 L211.81 416.22 L210.63 417.17 L209.5 418.28 L208.42 419.51 L207.42 420.86 L206.51 422.3 L205.72 423.8 L205.05 425.34 L204.52 426.89 L204.13 428.43 L203.9 429.93 L203.82 431.36 L203.9 432.7 L204.13 433.92 L204.52 435.02 L205.05 435.95 L205.72 436.72 L206.51 437.31 Z" fill="#fff" stroke="#141414" stroke-width="1.25" stroke-linejoin="round" />
<ellipse cx="216.91" cy="428.3" rx="7.5" ry="13" fill="#fff" stroke="#141414" stroke-width="1.25" transform="rotate(30 216.91 428.3)"/>
<path d="M221.8 443.83 L222.56 444.16 L223.41 444.32 L224.32 444.32 L225.29 444.14 L226.28 443.79 L227.3 443.28 L228.31 442.62 L229.31 441.81 L230.27 440.88 L231.19 439.83 L232.03 438.69 L232.8 437.47 L233.47 436.2 L234.03 434.9 L234.48 433.59 L234.81 432.29 L235.01 431.02 L235.08 429.81 L235.01 428.67 L234.81 427.64 L234.48 426.71 L234.04 425.92 L233.47 425.27 L232.8 424.77 L222.41 418.77 L221.64 418.44 L220.8 418.28 L219.89 418.28 L218.92 418.46 L217.92 418.81 L216.91 419.32 L215.9 419.98 L214.9 420.79 L213.93 421.72 L213.02 422.77 L212.18 423.91 L211.41 425.13 L210.74 426.4 L210.17 427.7 L209.72 429.01 L209.4 430.31 L209.2 431.58 L209.13 432.79 L209.2 433.93 L209.4 434.96 L209.72 435.89 L210.17 436.68 L210.74 437.33 L211.41 437.83 Z" fill="#fff" stroke="#141414" stroke-width="1.25" stroke-linejoin="round" />
<ellipse cx="227.3" cy="434.3" rx="6.35" ry="11" fill="#fff" stroke="#141414" stroke-width="1.25" transform="rotate(30 227.3 434.3)"/>
<path d="M213.94 439.58 L213 439.05 L212.22 438.26 L211.64 437.22 L211.26 435.98 L211.09 434.56 L211.14 433.01 L211.41 431.35 L211.89 429.65 L212.57 427.95 L213.43 426.29 L214.44 424.72 L215.57 423.28 L216.81 422.02 L218.1 420.96 L219.42 420.13 L220.74 419.57 L222 419.28 L223.19 419.27 L224.26 419.54 L225.19 420.09" fill="none" stroke="#141414" stroke-width="1" stroke-linejoin="round" />
<path d="M215.3 439.33 L214.43 438.84 L213.72 438.11 L213.18 437.16 L212.83 436.02 L212.68 434.71 L212.73 433.28 L212.98 431.76 L213.42 430.2 L214.04 428.63 L214.83 427.1 L215.76 425.65 L216.8 424.33 L217.94 423.17 L219.13 422.19 L220.35 421.43 L221.56 420.91 L222.72 420.64 L223.81 420.64 L224.8 420.89 L225.66 421.39" fill="none" stroke="#141414" stroke-width="0.7" stroke-linejoin="round" />
<path d="M216.1 440.83 L215.16 440.3 L214.39 439.51 L213.8 438.47 L213.42 437.23 L213.26 435.81 L213.31 434.26 L213.58 432.6 L214.06 430.9 L214.74 429.2 L215.59 427.54 L216.6 425.97 L217.74 424.53 L218.97 423.27 L220.27 422.21 L221.59 421.38 L222.9 420.82 L224.17 420.53 L225.35 420.52 L226.43 420.79 L227.36 421.34" fill="none" stroke="#141414" stroke-width="1" stroke-linejoin="round" />
<path d="M217.46 440.58 L216.6 440.09 L215.89 439.36 L215.35 438.41 L215 437.27 L214.85 435.96 L214.89 434.53 L215.14 433.01 L215.58 431.45 L216.21 429.88 L216.99 428.35 L217.92 426.9 L218.97 425.58 L220.1 424.42 L221.3 423.44 L222.51 422.68 L223.72 422.16 L224.89 421.89 L225.98 421.89 L226.97 422.14 L227.82 422.64" fill="none" stroke="#141414" stroke-width="0.7" stroke-linejoin="round" />
<path d="M218.27 442.08 L217.33 441.55 L216.55 440.76 L215.97 439.72 L215.59 438.48 L215.42 437.06 L215.47 435.51 L215.74 433.85 L216.22 432.15 L216.9 430.45 L217.76 428.79 L218.77 427.22 L219.9 425.78 L221.14 424.52 L222.43 423.46 L223.75 422.63 L225.07 422.07 L226.33 421.78 L227.52 421.77 L228.59 422.04 L229.52 422.59" fill="none" stroke="#141414" stroke-width="1" stroke-linejoin="round" />
<path d="M219.63 441.83 L218.76 441.34 L218.05 440.61 L217.51 439.66 L217.16 438.52 L217.01 437.21 L217.06 435.78 L217.31 434.26 L217.75 432.7 L218.37 431.13 L219.16 429.6 L220.09 428.15 L221.13 426.83 L222.27 425.67 L223.46 424.69 L224.68 423.93 L225.89 423.41 L227.05 423.14 L228.14 423.14 L229.13 423.39 L229.99 423.89" fill="none" stroke="#141414" stroke-width="0.7" stroke-linejoin="round" />
<path d="M220.43 443.33 L219.49 442.8 L218.72 442.01 L218.13 440.97 L217.75 439.73 L217.59 438.31 L217.64 436.76 L217.91 435.1 L218.39 433.4 L219.07 431.7 L219.92 430.04 L220.93 428.47 L222.07 427.03 L223.3 425.77 L224.6 424.71 L225.92 423.88 L227.23 423.32 L228.5 423.03 L229.68 423.02 L230.76 423.29 L231.69 423.84" fill="none" stroke="#141414" stroke-width="1" stroke-linejoin="round" />
<path d="M221.79 443.08 L220.93 442.59 L220.22 441.86 L219.68 440.91 L219.33 439.77 L219.18 438.46 L219.22 437.03 L219.47 435.51 L219.91 433.95 L220.54 432.38 L221.32 430.85 L222.25 429.4 L223.3 428.08 L224.43 426.92 L225.63 425.94 L226.84 425.18 L228.05 424.66 L229.22 424.39 L230.31 424.39 L231.3 424.64 L232.15 425.14" fill="none" stroke="#141414" stroke-width="0.7" stroke-linejoin="round" />
<ellipse cx="227.3" cy="434.3" rx="6.12" ry="10.6" fill="#fff" stroke="#141414" stroke-width="1.25" transform="rotate(30 227.3 434.3)"/>
<line x1="227" y1="434" x2="242" y2="442.2" stroke="#141414" stroke-width="1" stroke-linecap="butt"/>
<ellipse cx="260.8" cy="455.8" rx="7.44" ry="12" fill="#fff" stroke="#141414" stroke-width="1.2" transform="rotate(30 260.8 455.8)"/>
<line x1="255.5" y1="452.5" x2="264.5" y2="457.5" stroke="#141414" stroke-width="1" stroke-linecap="butt"/>
<line x1="276" y1="465.2" x2="291" y2="473.2" stroke="#141414" stroke-width="1" stroke-linecap="butt"/>
<path d="M292.18 481.22 L292.52 481.32 L292.88 481.34 L293.26 481.29 L293.65 481.17 L294.04 480.98 L294.44 480.71 L294.82 480.39 L295.2 480 L295.55 479.56 L295.88 479.08 L296.17 478.57 L296.42 478.02 L296.64 477.46 L296.81 476.89 L296.93 476.32 L297 475.77 L297.01 475.23 L296.98 474.73 L296.89 474.26 L296.76 473.84 L296.58 473.47 L296.35 473.16 L296.08 472.92 L295.78 472.75 L294.4 472.17 L294.06 472.07 L293.7 472.04 L293.33 472.09 L292.93 472.21 L292.54 472.41 L292.14 472.67 L291.76 473 L291.38 473.38 L291.03 473.82 L290.71 474.3 L290.41 474.82 L290.16 475.36 L289.94 475.92 L289.77 476.49 L289.65 477.06 L289.59 477.62 L289.57 478.15 L289.6 478.66 L289.69 479.13 L289.82 479.55 L290 479.92 L290.23 480.22 L290.5 480.46 L290.8 480.63 Z" fill="#fff" stroke="#141414" stroke-width="1.25" stroke-linejoin="round" />
<ellipse cx="293.98" cy="476.99" rx="2.65" ry="4.6" fill="#fff" stroke="#141414" stroke-width="1.25" transform="rotate(23 293.98 476.99)"/>
<path d="M301.87 487.83 L302.37 487.98 L302.91 488.02 L303.48 487.94 L304.06 487.76 L304.66 487.47 L305.25 487.07 L305.83 486.58 L306.39 486 L306.92 485.35 L307.41 484.63 L307.85 483.85 L308.23 483.04 L308.55 482.19 L308.8 481.34 L308.98 480.49 L309.09 479.65 L309.12 478.85 L309.06 478.09 L308.94 477.39 L308.73 476.76 L308.46 476.21 L308.12 475.75 L307.72 475.39 L307.26 475.13 L296.68 470.63 L296.18 470.49 L295.64 470.45 L295.07 470.52 L294.48 470.71 L293.89 471 L293.3 471.39 L292.71 471.89 L292.15 472.46 L291.63 473.12 L291.14 473.84 L290.7 474.61 L290.32 475.43 L290 476.27 L289.74 477.13 L289.56 477.98 L289.46 478.81 L289.43 479.62 L289.48 480.38 L289.61 481.08 L289.81 481.71 L290.09 482.26 L290.43 482.72 L290.83 483.08 L291.28 483.34 Z" fill="#fff" stroke="#141414" stroke-width="1.25" stroke-linejoin="round" />
<ellipse cx="304.57" cy="481.48" rx="3.98" ry="6.9" fill="#fff" stroke="#141414" stroke-width="1.25" transform="rotate(23 304.57 481.48)"/>
<path d="M302.47 489.5 L303.06 489.67 L303.7 489.72 L304.38 489.63 L305.07 489.41 L305.78 489.06 L306.49 488.59 L307.18 488.01 L307.84 487.32 L308.47 486.54 L309.05 485.69 L309.57 484.77 L310.03 483.8 L310.41 482.8 L310.71 481.78 L310.92 480.77 L311.04 479.78 L311.08 478.82 L311.02 477.92 L310.86 477.09 L310.62 476.34 L310.3 475.68 L309.89 475.14 L309.42 474.71 L308.88 474.4 L307.77 473.93 L307.17 473.75 L306.53 473.71 L305.86 473.8 L305.16 474.02 L304.46 474.37 L303.75 474.83 L303.06 475.42 L302.4 476.1 L301.77 476.88 L301.19 477.74 L300.67 478.66 L300.21 479.63 L299.83 480.63 L299.53 481.65 L299.32 482.66 L299.19 483.65 L299.16 484.61 L299.22 485.51 L299.37 486.34 L299.61 487.09 L299.94 487.75 L300.34 488.29 L300.82 488.72 L301.36 489.03 Z" fill="#fff" stroke="#141414" stroke-width="1.25" stroke-linejoin="round" />
<ellipse cx="305.67" cy="481.95" rx="4.73" ry="8.2" fill="#fff" stroke="#141414" stroke-width="1.25" transform="rotate(23 305.67 481.95)"/>
<path d="M308.3 493.17 L308.97 493.37 L309.7 493.42 L310.46 493.32 L311.25 493.07 L312.05 492.67 L312.85 492.14 L313.64 491.48 L314.39 490.7 L315.1 489.82 L315.76 488.85 L316.35 487.8 L316.87 486.7 L317.3 485.57 L317.64 484.41 L317.88 483.27 L318.03 482.14 L318.06 481.06 L317.99 480.03 L317.82 479.09 L317.55 478.24 L317.18 477.5 L316.72 476.88 L316.18 476.39 L315.56 476.04 L309.3 473.39 L308.63 473.19 L307.9 473.14 L307.14 473.24 L306.35 473.49 L305.55 473.88 L304.75 474.41 L303.96 475.07 L303.21 475.85 L302.5 476.74 L301.84 477.71 L301.25 478.75 L300.73 479.85 L300.3 480.99 L299.96 482.14 L299.72 483.29 L299.58 484.41 L299.54 485.5 L299.61 486.52 L299.78 487.46 L300.05 488.31 L300.42 489.06 L300.88 489.67 L301.42 490.16 L302.04 490.51 Z" fill="#fff" stroke="#141414" stroke-width="1.25" stroke-linejoin="round" />
<ellipse cx="311.93" cy="484.61" rx="5.37" ry="9.3" fill="#fff" stroke="#141414" stroke-width="1.25" transform="rotate(23 311.93 484.61)"/>
<ellipse cx="300.42" cy="481.02" rx="1.5" ry="1.72" fill="#fff" stroke="#141414" stroke-width="1" transform="rotate(23 300.42 481.02)"/>
<path d="M310.09 492.52 L310.67 492.69 L311.3 492.73 L311.96 492.65 L312.64 492.43 L313.33 492.09 L314.01 491.63 L314.69 491.07 L315.34 490.4 L315.95 489.64 L316.51 488.8 L317.02 487.9 L317.47 486.96 L317.84 485.98 L318.13 484.99 L318.34 484 L318.46 483.03 L318.49 482.1 L318.43 481.22 L318.29 480.41 L318.05 479.68 L317.73 479.04 L317.34 478.51 L316.87 478.09 L316.35 477.79 L315.06 477.24 L314.48 477.07 L313.85 477.03 L313.19 477.11 L312.51 477.33 L311.82 477.67 L311.14 478.12 L310.46 478.69 L309.81 479.36 L309.2 480.12 L308.64 480.96 L308.13 481.86 L307.68 482.8 L307.31 483.78 L307.02 484.77 L306.81 485.76 L306.69 486.73 L306.66 487.66 L306.72 488.54 L306.86 489.35 L307.1 490.08 L307.42 490.72 L307.81 491.25 L308.28 491.67 L308.8 491.97 Z" fill="#fff" stroke="#141414" stroke-width="1.3" stroke-linejoin="round" />
<ellipse cx="313.22" cy="485.15" rx="4.62" ry="8" fill="#fff" stroke="#141414" stroke-width="1.3" transform="rotate(23 313.22 485.15)"/>
<path d="M310.63 495.35 L311.38 495.57 L312.2 495.63 L313.05 495.52 L313.93 495.24 L314.83 494.8 L315.72 494.2 L316.6 493.47 L317.44 492.59 L318.24 491.61 L318.98 490.52 L319.64 489.35 L320.22 488.12 L320.7 486.85 L321.08 485.56 L321.35 484.28 L321.51 483.02 L321.55 481.81 L321.47 480.67 L321.28 479.61 L320.97 478.66 L320.56 477.83 L320.05 477.14 L319.44 476.59 L318.76 476.2 L317.28 475.58 L316.53 475.35 L315.71 475.3 L314.86 475.41 L313.98 475.69 L313.08 476.13 L312.19 476.73 L311.31 477.46 L310.47 478.34 L309.67 479.32 L308.94 480.41 L308.27 481.58 L307.7 482.81 L307.21 484.08 L306.83 485.37 L306.56 486.65 L306.4 487.91 L306.36 489.12 L306.44 490.26 L306.63 491.32 L306.94 492.27 L307.35 493.1 L307.86 493.79 L308.47 494.34 L309.16 494.73 Z" fill="#fff" stroke="#141414" stroke-width="1.3" stroke-linejoin="round" />
<ellipse cx="314.69" cy="485.78" rx="6" ry="10.4" fill="#fff" stroke="#141414" stroke-width="1.3" transform="rotate(23 314.69 485.78)"/>
<path d="M312.25 494.08 L312.88 494.27 L313.55 494.32 L314.26 494.22 L314.99 493.99 L315.73 493.63 L316.47 493.14 L317.19 492.53 L317.89 491.81 L318.55 490.99 L319.16 490.09 L319.7 489.12 L320.18 488.11 L320.58 487.06 L320.89 485.99 L321.12 484.93 L321.25 483.89 L321.28 482.89 L321.22 481.94 L321.06 481.07 L320.81 480.28 L320.47 479.6 L320.04 479.02 L319.54 478.57 L318.97 478.25 L318.05 477.86 L317.43 477.68 L316.76 477.63 L316.05 477.72 L315.32 477.95 L314.58 478.32 L313.84 478.81 L313.11 479.42 L312.42 480.14 L311.76 480.96 L311.15 481.86 L310.6 482.82 L310.12 483.84 L309.72 484.89 L309.41 485.95 L309.19 487.02 L309.06 488.06 L309.02 489.06 L309.09 490 L309.25 490.88 L309.5 491.66 L309.84 492.35 L310.26 492.92 L310.76 493.37 L311.33 493.69 Z" fill="#fff" stroke="#141414" stroke-width="1.3" stroke-linejoin="round" />
<ellipse cx="315.61" cy="486.17" rx="4.96" ry="8.6" fill="#fff" stroke="#141414" stroke-width="1.3" transform="rotate(23 315.61 486.17)"/>
<path d="M314.75 497.42 L315.52 497.65 L316.36 497.71 L317.24 497.6 L318.15 497.31 L319.07 496.86 L319.99 496.25 L320.89 495.48 L321.76 494.59 L322.58 493.57 L323.33 492.45 L324.02 491.25 L324.61 489.99 L325.11 488.68 L325.5 487.36 L325.78 486.03 L325.94 484.74 L325.98 483.49 L325.9 482.32 L325.7 481.23 L325.39 480.25 L324.96 479.4 L324.44 478.69 L323.81 478.12 L323.11 477.73 L319.79 476.32 L319.02 476.09 L318.18 476.03 L317.3 476.15 L316.39 476.43 L315.47 476.89 L314.55 477.5 L313.65 478.26 L312.78 479.15 L311.96 480.17 L311.21 481.29 L310.52 482.49 L309.93 483.76 L309.43 485.06 L309.04 486.39 L308.76 487.71 L308.6 489 L308.56 490.25 L308.64 491.43 L308.84 492.51 L309.15 493.49 L309.58 494.34 L310.1 495.06 L310.73 495.62 L311.43 496.02 Z" fill="#fff" stroke="#141414" stroke-width="1.3" stroke-linejoin="round" />
<ellipse cx="318.93" cy="487.57" rx="6.17" ry="10.7" fill="#fff" stroke="#141414" stroke-width="1.3" transform="rotate(23 318.93 487.57)"/>
<ellipse cx="318.93" cy="487.57" rx="4.85" ry="8.4" fill="none" stroke="#141414" stroke-width="1.3" transform="rotate(23 318.93 487.57)"/>
<ellipse cx="318.93" cy="487.57" rx="3.23" ry="5.6" fill="none" stroke="#141414" stroke-width="0.9" transform="rotate(23 318.93 487.57)"/>
<line x1="316.73" y1="484.77" x2="321.13" y2="490.37" stroke="#141414" stroke-width="1" stroke-linecap="butt"/>
<line x1="316.13" y1="488.87" x2="321.73" y2="486.27" stroke="#141414" stroke-width="1" stroke-linecap="butt"/>
<path d="M333.9 497.9 L341.7 502.2 L349 498.3" fill="none" stroke="#141414" stroke-width="1" stroke-linejoin="round" />
<path d="M360.3 491.8 L367.7 487.1 L377.8 493.7 L380 492.5" fill="none" stroke="#141414" stroke-width="1" stroke-linejoin="round" />
<path d="M269.28 573.62 L268.82 573.96 L268.43 574.41 L268.12 574.96 L267.89 575.6 L267.76 576.31 L267.71 577.1 L267.76 577.93 L267.89 578.81 L268.12 579.71 L268.43 580.61 L268.82 581.51 L269.28 582.39 L269.81 583.23 L270.4 584.02 L271.03 584.74 L271.69 585.39 L272.38 585.95 L273.08 586.4 L273.78 586.76 L274.47 587 L275.14 587.12 L275.77 587.13 L276.35 587.01 L276.88 586.78 L282.94 583.28 L283.41 582.94 L283.8 582.49 L284.11 581.94 L284.33 581.3 L284.47 580.59 L284.52 579.8 L284.47 578.97 L284.33 578.09 L284.11 577.19 L283.8 576.29 L283.41 575.39 L282.94 574.51 L282.41 573.67 L281.83 572.88 L281.2 572.16 L280.53 571.51 L279.84 570.95 L279.14 570.5 L278.44 570.14 L277.75 569.9 L277.09 569.78 L276.46 569.77 L275.87 569.89 L275.34 570.12 Z" fill="#fff" stroke="#141414" stroke-width="1.25" stroke-linejoin="round" />
<path d="M278.9 585.62 L279.57 585.06 L280.07 584.28 L280.37 583.29 L280.48 582.14 L280.37 580.87 L280.07 579.53 L279.57 578.17 L278.9 576.84 L278.09 575.6 L277.16 574.49 L276.15 573.55 L275.1 572.83 L274.05 572.34 L273.05 572.11 L272.12 572.15 L271.3 572.45" fill="none" stroke="#141414" stroke-width="0.9" stroke-linejoin="round" />
<path d="M280.92 584.45 L281.59 583.89 L282.09 583.11 L282.39 582.12 L282.5 580.97 L282.39 579.7 L282.09 578.36 L281.59 577 L280.92 575.67 L280.11 574.43 L279.18 573.32 L278.17 572.39 L277.12 571.66 L276.07 571.18 L275.07 570.95 L274.14 570.98 L273.32 571.28" fill="none" stroke="#141414" stroke-width="0.9" stroke-linejoin="round" />
<path d="M261.35 575.89 L260.77 576.32 L260.28 576.89 L259.88 577.58 L259.6 578.38 L259.43 579.29 L259.37 580.28 L259.43 581.34 L259.6 582.44 L259.89 583.58 L260.28 584.72 L260.77 585.86 L261.36 586.97 L262.02 588.03 L262.76 589.03 L263.56 589.94 L264.4 590.76 L265.27 591.46 L266.16 592.04 L267.04 592.48 L267.91 592.78 L268.75 592.94 L269.55 592.95 L270.29 592.8 L270.95 592.51 L277.88 588.51 L278.47 588.08 L278.96 587.51 L279.35 586.82 L279.64 586.02 L279.81 585.11 L279.87 584.12 L279.81 583.06 L279.64 581.96 L279.35 580.82 L278.96 579.68 L278.46 578.54 L277.88 577.43 L277.21 576.37 L276.47 575.37 L275.68 574.46 L274.84 573.64 L273.97 572.94 L273.08 572.36 L272.19 571.92 L271.32 571.62 L270.48 571.46 L269.69 571.45 L268.95 571.6 L268.28 571.89 Z" fill="#fff" stroke="#141414" stroke-width="1.25" stroke-linejoin="round" />
<path d="M247.53 579.94 L246.74 580.53 L246.07 581.3 L245.54 582.23 L245.15 583.33 L244.92 584.55 L244.84 585.89 L244.92 587.32 L245.15 588.82 L245.54 590.36 L246.07 591.91 L246.74 593.45 L247.53 594.95 L248.44 596.39 L249.44 597.74 L250.52 598.97 L251.65 600.08 L252.83 601.03 L254.03 601.81 L255.23 602.41 L256.41 602.83 L257.55 603.04 L258.63 603.05 L259.63 602.85 L260.53 602.46 L272.65 595.46 L273.45 594.87 L274.11 594.1 L274.64 593.17 L275.03 592.07 L275.27 590.85 L275.34 589.51 L275.26 588.08 L275.03 586.58 L274.64 585.04 L274.11 583.49 L273.44 581.95 L272.65 580.45 L271.75 579.01 L270.75 577.66 L269.67 576.43 L268.53 575.32 L267.35 574.37 L266.15 573.59 L264.95 572.99 L263.77 572.57 L262.63 572.36 L261.56 572.35 L260.56 572.55 L259.65 572.94 Z" fill="#fff" stroke="#141414" stroke-width="1.25" stroke-linejoin="round" />
<path d="M262.55 601.29 L263.69 600.34 L264.54 599 L265.06 597.31 L265.24 595.34 L265.06 593.17 L264.54 590.88 L263.69 588.55 L262.55 586.28 L261.15 584.16 L259.56 582.26 L257.84 580.66 L256.05 579.42 L254.25 578.59 L252.53 578.2 L250.94 578.26 L249.55 578.78" fill="none" stroke="#141414" stroke-width="1" stroke-linejoin="round" />
<path d="M264.57 600.12 L265.71 599.18 L266.56 597.83 L267.08 596.14 L267.26 594.18 L267.08 592 L266.56 589.71 L265.71 587.38 L264.57 585.12 L263.17 582.99 L261.59 581.09 L259.86 579.49 L258.07 578.25 L256.28 577.42 L254.55 577.03 L252.96 577.09 L251.57 577.61" fill="none" stroke="#141414" stroke-width="1" stroke-linejoin="round" />
<path d="M266.59 598.96 L267.73 598.01 L268.58 596.67 L269.11 594.98 L269.28 593.01 L269.1 590.84 L268.58 588.54 L267.73 586.22 L266.59 583.95 L265.19 581.83 L263.61 579.93 L261.88 578.33 L260.09 577.09 L258.3 576.26 L256.57 575.86 L254.98 575.93 L253.59 576.44" fill="none" stroke="#141414" stroke-width="1" stroke-linejoin="round" />
<path d="M268.61 597.79 L269.75 596.84 L270.6 595.5 L271.13 593.81 L271.3 591.84 L271.12 589.67 L270.6 587.38 L269.75 585.05 L268.61 582.78 L267.22 580.66 L265.63 578.76 L263.9 577.16 L262.11 575.92 L260.32 575.09 L258.59 574.7 L257 574.76 L255.61 575.28" fill="none" stroke="#141414" stroke-width="1" stroke-linejoin="round" />
<path d="M270.63 596.62 L271.78 595.68 L272.62 594.33 L273.15 592.64 L273.32 590.68 L273.15 588.5 L272.62 586.21 L271.77 583.88 L270.63 581.62 L269.24 579.49 L267.65 577.59 L265.92 575.99 L264.13 574.75 L262.34 573.92 L260.61 573.53 L259.03 573.59 L257.63 574.11" fill="none" stroke="#141414" stroke-width="1" stroke-linejoin="round" />
<path d="M245.68 582.74 L244.98 583.26 L244.39 583.94 L243.92 584.77 L243.58 585.73 L243.37 586.82 L243.3 588 L243.37 589.27 L243.58 590.59 L243.92 591.95 L244.39 593.33 L244.98 594.69 L245.68 596.02 L246.48 597.29 L247.37 598.48 L248.32 599.58 L249.33 600.55 L250.37 601.39 L251.43 602.09 L252.49 602.62 L253.54 602.98 L254.54 603.17 L255.5 603.18 L256.38 603.01 L257.18 602.66 L259.78 601.16 L260.48 600.64 L261.07 599.96 L261.54 599.13 L261.88 598.17 L262.09 597.08 L262.16 595.9 L262.09 594.63 L261.88 593.31 L261.54 591.95 L261.07 590.57 L260.48 589.21 L259.78 587.88 L258.98 586.61 L258.09 585.42 L257.14 584.32 L256.13 583.35 L255.09 582.51 L254.03 581.81 L252.97 581.28 L251.92 580.92 L250.92 580.73 L249.96 580.72 L249.08 580.89 L248.28 581.24 Z" fill="#fff" stroke="#141414" stroke-width="1.25" stroke-linejoin="round" />
<path d="M237.09 588.85 L240.93 574.51 L255.27 578.36 L265.77 596.55 L261.93 610.89 L247.59 607.04 Z" fill="#fff" stroke="#141414" stroke-width="1.25" stroke-linejoin="round" />
<path d="M240.93 574.51 L255.27 578.36 L244.88 584.36 L230.54 580.51 Z" fill="#fff" stroke="#141414" stroke-width="1.25" stroke-linejoin="round" />
<path d="M255.27 578.36 L265.77 596.55 L255.38 602.55 L244.88 584.36 Z" fill="#fff" stroke="#141414" stroke-width="1.25" stroke-linejoin="round" />
<path d="M265.77 596.55 L261.93 610.89 L251.54 616.89 L255.38 602.55 Z" fill="#fff" stroke="#141414" stroke-width="1.25" stroke-linejoin="round" />
<path d="M226.7 594.85 L230.54 580.51 L244.88 584.36 L255.38 602.55 L251.54 616.89 L237.2 613.04 Z" fill="#fff" stroke="#141414" stroke-width="1.25" stroke-linejoin="round" />
<path d="M192.3 600.28 L190.96 601.28 L189.83 602.61 L188.94 604.24 L188.31 606.14 L187.95 608.28 L187.85 610.63 L188.03 613.14 L188.48 615.77 L189.19 618.47 L190.15 621.21 L191.34 623.93 L192.75 626.58 L194.34 629.13 L196.1 631.52 L197.99 633.72 L199.98 635.69 L202.03 637.39 L204.11 638.8 L206.19 639.89 L208.23 640.64 L210.19 641.04 L212.05 641.09 L213.76 640.78 L215.3 640.12 L252.11 618.87 L253.45 617.87 L254.58 616.54 L255.46 614.91 L256.09 613.01 L256.46 610.87 L256.55 608.52 L256.38 606.01 L255.93 603.38 L255.22 600.68 L254.26 597.94 L253.07 595.22 L251.66 592.57 L250.07 590.02 L248.31 587.63 L246.42 585.43 L244.43 583.46 L242.38 581.76 L240.29 580.35 L238.21 579.26 L236.17 578.51 L234.21 578.11 L232.36 578.06 L230.65 578.37 L229.11 579.03 Z" fill="#fff" stroke="#141414" stroke-width="1.25" stroke-linejoin="round" />
<ellipse cx="203.8" cy="620.2" rx="12.77" ry="23" fill="#fff" stroke="#141414" stroke-width="1.25" transform="rotate(150 203.8 620.2)"/>
<ellipse cx="203.37" cy="620.45" rx="7" ry="12.5" fill="none" stroke="#141414" stroke-width="0.9" transform="rotate(150 203.37 620.45)"/>
<path d="M196.35 620.35 L196.88 612.26 L203.46 612.6 L209.51 621.05 L208.99 629.14 L202.41 628.8 Z" fill="#fff" stroke="#141414" stroke-width="1.25" stroke-linejoin="round" />
<path d="M196.88 612.26 L203.46 612.6 L200 614.6 L193.42 614.26 Z" fill="#fff" stroke="#141414" stroke-width="1.25" stroke-linejoin="round" />
<path d="M203.46 612.6 L209.51 621.05 L206.05 623.05 L200 614.6 Z" fill="#fff" stroke="#141414" stroke-width="1.25" stroke-linejoin="round" />
<path d="M209.51 621.05 L208.99 629.14 L205.52 631.14 L206.05 623.05 Z" fill="#fff" stroke="#141414" stroke-width="1.25" stroke-linejoin="round" />
<path d="M192.89 622.35 L193.42 614.26 L200 614.6 L206.05 623.05 L205.52 631.14 L198.94 630.8 Z" fill="#fff" stroke="#141414" stroke-width="1.25" stroke-linejoin="round" />
<ellipse cx="199.47" cy="622.7" rx="3.75" ry="6.5" fill="#fff" stroke="#141414" stroke-width="1.6" transform="rotate(150 199.47 622.7)"/>
<path d="M193.64 619.6 L193.3 619.85 L193.01 620.18 L192.78 620.59 L192.61 621.06 L192.51 621.59 L192.48 622.16 L192.51 622.78 L192.62 623.42 L192.78 624.09 L193.01 624.76 L193.3 625.42 L193.64 626.07 L194.03 626.68 L194.46 627.27 L194.93 627.8 L195.42 628.27 L195.92 628.68 L196.44 629.02 L196.96 629.28 L197.46 629.46 L197.95 629.55 L198.42 629.55 L198.85 629.47 L199.24 629.3 L202.27 627.55 L202.61 627.3 L202.9 626.97 L203.13 626.56 L203.29 626.09 L203.39 625.56 L203.43 624.99 L203.39 624.37 L203.29 623.73 L203.13 623.06 L202.9 622.39 L202.61 621.73 L202.27 621.08 L201.88 620.47 L201.45 619.88 L200.98 619.35 L200.49 618.88 L199.99 618.47 L199.47 618.13 L198.95 617.87 L198.44 617.69 L197.95 617.6 L197.49 617.6 L197.06 617.68 L196.67 617.85 Z" fill="#fff" stroke="#141414" stroke-width="1.25" stroke-linejoin="round" />
<ellipse cx="196.44" cy="624.45" rx="3.23" ry="5.6" fill="#fff" stroke="#141414" stroke-width="1.25" transform="rotate(150 196.44 624.45)"/>
<path d="M224 616 L233.3 622.2 L233.3 644.5 L224.8 638 Z" fill="#fff" stroke="#141414" stroke-width="1.25" stroke-linejoin="round" />
<path d="M233.3 622.2 L255.9 609.8 L255.9 624 L233.3 644.5 Z" fill="#fff" stroke="#141414" stroke-width="1.25" stroke-linejoin="round" />
<path d="M224 616 L245.8 605.1 L255.9 609.8 L233.3 622.2 Z" fill="#fff" stroke="#141414" stroke-width="1.25" stroke-linejoin="round" />
<path d="M251.45 642.92 L252.22 643.26 L253.06 643.44 L253.96 643.46 L254.91 643.32 L255.88 643.02 L256.87 642.57 L257.85 641.96 L258.81 641.23 L259.74 640.36 L260.61 639.39 L261.41 638.33 L262.13 637.19 L262.76 636 L263.27 634.78 L263.68 633.54 L263.96 632.31 L264.12 631.1 L264.15 629.95 L264.05 628.87 L263.83 627.87 L263.47 626.98 L263.01 626.21 L262.43 625.57 L261.75 625.08 L246.25 621.28 L245.48 620.94 L244.64 620.76 L243.74 620.74 L242.79 620.88 L241.82 621.18 L240.83 621.63 L239.85 622.24 L238.89 622.97 L237.96 623.84 L237.09 624.81 L236.29 625.87 L235.57 627.01 L234.94 628.2 L234.43 629.42 L234.02 630.66 L233.74 631.89 L233.58 633.1 L233.55 634.25 L233.65 635.33 L233.87 636.33 L234.23 637.22 L234.69 637.99 L235.27 638.63 L235.95 639.12 Z" fill="#fff" stroke="#141414" stroke-width="1.25" stroke-linejoin="round" />
<ellipse cx="256.6" cy="634" rx="6.39" ry="10.3" fill="#fff" stroke="#141414" stroke-width="1.25" transform="rotate(30 256.6 634)"/>
<path d="M282.3 577.1 L294 570.6 L308 578.7" fill="none" stroke="#141414" stroke-width="1" stroke-linejoin="round" />
<path d="M36 790.5 L318.5 628.5 L385.5 666.5 L105 830 Z" fill="none" stroke="#141414" stroke-width="1.2" stroke-dasharray="4.4 2.6" stroke-linejoin="round" />
<path d="M233.01 698.15 L232.53 698.5 L232.13 698.96 L231.82 699.52 L231.58 700.18 L231.44 700.91 L231.4 701.71 L231.44 702.57 L231.58 703.47 L231.82 704.39 L232.14 705.33 L232.54 706.25 L233.01 707.15 L233.55 708.01 L234.15 708.82 L234.8 709.56 L235.48 710.23 L236.19 710.8 L236.91 711.27 L237.63 711.63 L238.34 711.88 L239.02 712 L239.67 712.01 L240.27 711.89 L240.81 711.65 L251.2 705.65 L251.68 705.3 L252.08 704.84 L252.4 704.28 L252.63 703.62 L252.77 702.89 L252.82 702.09 L252.77 701.23 L252.63 700.33 L252.4 699.41 L252.08 698.47 L251.68 697.55 L251.2 696.65 L250.66 695.79 L250.06 694.98 L249.41 694.24 L248.73 693.57 L248.02 693 L247.3 692.53 L246.58 692.17 L245.87 691.92 L245.19 691.8 L244.54 691.79 L243.94 691.91 L243.4 692.15 Z" fill="#fff" stroke="#141414" stroke-width="1.25" stroke-linejoin="round" />
<path d="M230.58 697.93 L230.02 698.35 L229.55 698.89 L229.17 699.55 L228.9 700.33 L228.73 701.19 L228.67 702.14 L228.73 703.16 L228.9 704.21 L229.17 705.3 L229.55 706.4 L230.02 707.49 L230.58 708.55 L231.22 709.57 L231.93 710.53 L232.69 711.4 L233.5 712.18 L234.33 712.86 L235.18 713.41 L236.03 713.84 L236.86 714.13 L237.67 714.28 L238.43 714.28 L239.14 714.15 L239.78 713.87 L241.51 712.87 L242.07 712.45 L242.54 711.91 L242.92 711.25 L243.19 710.47 L243.36 709.61 L243.41 708.66 L243.36 707.64 L243.19 706.59 L242.92 705.5 L242.54 704.4 L242.07 703.31 L241.51 702.25 L240.87 701.23 L240.16 700.27 L239.4 699.4 L238.59 698.62 L237.76 697.94 L236.91 697.39 L236.06 696.96 L235.23 696.67 L234.42 696.52 L233.66 696.52 L232.95 696.65 L232.31 696.93 Z" fill="#fff" stroke="#141414" stroke-width="1.25" stroke-linejoin="round" />
<path d="M218.05 704.24 L217.44 704.69 L216.93 705.28 L216.52 706 L216.23 706.84 L216.05 707.79 L215.98 708.82 L216.05 709.92 L216.23 711.07 L216.52 712.25 L216.93 713.45 L217.45 714.63 L218.06 715.78 L218.75 716.89 L219.52 717.93 L220.35 718.88 L221.23 719.73 L222.13 720.46 L223.06 721.06 L223.98 721.53 L224.89 721.84 L225.76 722.01 L226.59 722.01 L227.36 721.86 L228.05 721.56 L240.18 714.56 L240.79 714.11 L241.3 713.52 L241.71 712.8 L242.01 711.96 L242.19 711.01 L242.25 709.98 L242.19 708.88 L242.01 707.73 L241.71 706.55 L241.3 705.35 L240.79 704.17 L240.18 703.01 L239.48 701.91 L238.71 700.87 L237.88 699.92 L237.01 699.07 L236.1 698.34 L235.18 697.74 L234.25 697.27 L233.35 696.96 L232.47 696.79 L231.64 696.79 L230.87 696.94 L230.18 697.24 Z" fill="#fff" stroke="#141414" stroke-width="1.25" stroke-linejoin="round" />
<path d="M230.07 720.39 L230.95 719.66 L231.61 718.63 L232.01 717.33 L232.14 715.82 L232.01 714.15 L231.6 712.38 L230.95 710.59 L230.07 708.85 L229 707.21 L227.78 705.75 L226.45 704.52 L225.07 703.57 L223.69 702.93 L222.37 702.63 L221.15 702.68 L220.07 703.07" fill="none" stroke="#141414" stroke-width="0.9" stroke-linejoin="round" />
<path d="M232.1 719.23 L232.97 718.5 L233.63 717.46 L234.03 716.16 L234.16 714.65 L234.03 712.98 L233.63 711.22 L232.97 709.43 L232.09 707.68 L231.02 706.05 L229.8 704.59 L228.47 703.36 L227.09 702.4 L225.71 701.76 L224.39 701.46 L223.17 701.51 L222.1 701.91" fill="none" stroke="#141414" stroke-width="0.9" stroke-linejoin="round" />
<path d="M234.12 718.06 L234.99 717.33 L235.65 716.3 L236.05 715 L236.18 713.48 L236.05 711.81 L235.65 710.05 L234.99 708.26 L234.11 706.51 L233.04 704.88 L231.82 703.42 L230.49 702.19 L229.11 701.24 L227.73 700.6 L226.41 700.29 L225.19 700.34 L224.12 700.74" fill="none" stroke="#141414" stroke-width="0.9" stroke-linejoin="round" />
<path d="M236.14 716.89 L237.02 716.16 L237.67 715.13 L238.07 713.83 L238.21 712.32 L238.07 710.65 L237.67 708.88 L237.01 707.09 L236.13 705.35 L235.06 703.71 L233.84 702.25 L232.51 701.02 L231.13 700.07 L229.76 699.43 L228.43 699.13 L227.21 699.18 L226.14 699.57" fill="none" stroke="#141414" stroke-width="0.9" stroke-linejoin="round" />
<path d="M238.16 715.73 L239.04 715 L239.69 713.96 L240.09 712.66 L240.23 711.15 L240.09 709.48 L239.69 707.72 L239.03 705.93 L238.15 704.18 L237.08 702.55 L235.86 701.09 L234.53 699.86 L233.16 698.9 L231.78 698.26 L230.45 697.96 L229.23 698.01 L228.16 698.41" fill="none" stroke="#141414" stroke-width="0.9" stroke-linejoin="round" />
<path d="M211.61 705.07 L210.85 705.64 L210.2 706.38 L209.69 707.28 L209.32 708.33 L209.1 709.51 L209.02 710.8 L209.1 712.17 L209.32 713.61 L209.7 715.09 L210.21 716.58 L210.85 718.06 L211.61 719.51 L212.48 720.89 L213.44 722.19 L214.48 723.37 L215.57 724.44 L216.71 725.35 L217.86 726.1 L219.01 726.68 L220.15 727.08 L221.24 727.28 L222.28 727.29 L223.24 727.1 L224.11 726.73 L229.3 723.73 L230.07 723.16 L230.71 722.42 L231.22 721.52 L231.59 720.47 L231.81 719.29 L231.89 718 L231.81 716.63 L231.59 715.19 L231.22 713.71 L230.7 712.22 L230.06 710.74 L229.3 709.29 L228.43 707.91 L227.47 706.61 L226.43 705.43 L225.34 704.36 L224.2 703.45 L223.05 702.7 L221.9 702.12 L220.76 701.72 L219.67 701.52 L218.63 701.51 L217.67 701.7 L216.8 702.07 Z" fill="#fff" stroke="#141414" stroke-width="1.25" stroke-linejoin="round" />
<path d="M213.62 703.56 L212.84 704.14 L212.19 704.9 L211.66 705.82 L211.28 706.9 L211.05 708.1 L210.97 709.42 L211.05 710.83 L211.28 712.31 L211.66 713.82 L212.19 715.35 L212.85 716.86 L213.63 718.34 L214.52 719.76 L215.5 721.09 L216.56 722.3 L217.68 723.39 L218.84 724.33 L220.03 725.1 L221.21 725.69 L222.37 726.1 L223.49 726.3 L224.55 726.31 L225.53 726.12 L226.42 725.74 L227.72 724.99 L228.5 724.41 L229.16 723.65 L229.68 722.73 L230.06 721.65 L230.29 720.45 L230.37 719.13 L230.29 717.72 L230.06 716.24 L229.68 714.73 L229.16 713.2 L228.5 711.69 L227.72 710.21 L226.83 708.79 L225.84 707.46 L224.78 706.25 L223.66 705.16 L222.5 704.22 L221.32 703.45 L220.14 702.86 L218.98 702.45 L217.86 702.25 L216.8 702.24 L215.81 702.43 L214.92 702.81 Z" fill="#fff" stroke="#141414" stroke-width="1.25" stroke-linejoin="round" />
<path d="M205.52 713.32 L208.59 701.85 L220.06 704.93 L228.46 719.48 L225.39 730.95 L213.92 727.87 Z" fill="#fff" stroke="#141414" stroke-width="1.25" stroke-linejoin="round" />
<path d="M208.59 701.85 L220.06 704.93 L207.94 711.93 L196.47 708.85 Z" fill="#fff" stroke="#141414" stroke-width="1.25" stroke-linejoin="round" />
<path d="M220.06 704.93 L228.46 719.48 L216.34 726.48 L207.94 711.93 Z" fill="#fff" stroke="#141414" stroke-width="1.25" stroke-linejoin="round" />
<path d="M228.46 719.48 L225.39 730.95 L213.27 737.95 L216.34 726.48 Z" fill="#fff" stroke="#141414" stroke-width="1.25" stroke-linejoin="round" />
<path d="M193.4 720.32 L196.47 708.85 L207.94 711.93 L216.34 726.48 L213.27 737.95 L201.8 734.87 Z" fill="#fff" stroke="#141414" stroke-width="1.25" stroke-linejoin="round" />
<ellipse cx="204" cy="723.9" rx="5.48" ry="9.5" fill="none" stroke="#141414" stroke-width="0.9" transform="rotate(150 204 723.9)"/>
<path d="M164.46 738.41 L164.02 738.74 L163.65 739.16 L163.36 739.68 L163.14 740.29 L163.01 740.97 L162.97 741.71 L163.02 742.5 L163.15 743.33 L163.36 744.18 L163.65 745.04 L164.02 745.9 L164.46 746.73 L164.96 747.52 L165.52 748.27 L166.11 748.96 L166.75 749.57 L167.4 750.09 L168.06 750.53 L168.73 750.86 L169.38 751.09 L170.01 751.21 L170.61 751.21 L171.16 751.1 L171.66 750.89 L207.6 730.14 L208.04 729.81 L208.41 729.39 L208.7 728.87 L208.92 728.26 L209.05 727.58 L209.09 726.84 L209.05 726.05 L208.92 725.22 L208.7 724.37 L208.41 723.51 L208.04 722.65 L207.6 721.82 L207.1 721.03 L206.54 720.28 L205.95 719.59 L205.32 718.98 L204.66 718.46 L204 718.02 L203.34 717.69 L202.68 717.46 L202.05 717.34 L201.46 717.34 L200.9 717.45 L200.4 717.66 Z" fill="#fff" stroke="#141414" stroke-width="1.25" stroke-linejoin="round" />
<ellipse cx="168.06" cy="744.65" rx="4.15" ry="7.2" fill="#fff" stroke="#141414" stroke-width="1.25" transform="rotate(150 168.06 744.65)"/>
<path d="M162.6 740.18 L162.19 740.48 L161.86 740.87 L161.59 741.35 L161.39 741.9 L161.27 742.52 L161.23 743.2 L161.27 743.93 L161.39 744.69 L161.59 745.47 L161.86 746.26 L162.2 747.04 L162.6 747.8 L163.06 748.53 L163.56 749.22 L164.11 749.85 L164.69 750.41 L165.29 750.89 L165.9 751.29 L166.51 751.59 L167.11 751.8 L167.68 751.91 L168.23 751.91 L168.74 751.82 L169.2 751.62 L171.36 750.37 L171.76 750.07 L172.1 749.68 L172.37 749.2 L172.57 748.65 L172.69 748.03 L172.73 747.35 L172.69 746.62 L172.57 745.86 L172.37 745.08 L172.1 744.29 L171.76 743.51 L171.36 742.75 L170.9 742.02 L170.39 741.33 L169.85 740.7 L169.27 740.14 L168.67 739.66 L168.06 739.26 L167.45 738.96 L166.85 738.75 L166.27 738.64 L165.73 738.64 L165.22 738.73 L164.76 738.93 Z" fill="#fff" stroke="#141414" stroke-width="1.25" stroke-linejoin="round" />
<ellipse cx="165.9" cy="745.9" rx="3.81" ry="6.6" fill="#fff" stroke="#141414" stroke-width="1.25" transform="rotate(150 165.9 745.9)"/>
<path d="M162.3 742.67 L162.02 742.87 L161.78 743.15 L161.59 743.48 L161.46 743.86 L161.37 744.3 L161.35 744.77 L161.37 745.28 L161.46 745.81 L161.59 746.35 L161.78 746.9 L162.02 747.45 L162.3 747.98 L162.62 748.49 L162.97 748.96 L163.35 749.4 L163.76 749.79 L164.17 750.13 L164.6 750.41 L165.02 750.62 L165.44 750.76 L165.84 750.84 L166.22 750.84 L166.58 750.77 L166.9 750.63 L168.2 749.88 L168.48 749.68 L168.71 749.4 L168.9 749.07 L169.04 748.69 L169.12 748.25 L169.15 747.78 L169.12 747.27 L169.04 746.74 L168.9 746.2 L168.71 745.65 L168.48 745.1 L168.19 744.57 L167.87 744.06 L167.52 743.59 L167.14 743.15 L166.74 742.76 L166.32 742.42 L165.9 742.14 L165.47 741.93 L165.05 741.79 L164.65 741.71 L164.27 741.71 L163.92 741.78 L163.6 741.92 Z" fill="#fff" stroke="#141414" stroke-width="1.25" stroke-linejoin="round" />
<ellipse cx="164.6" cy="746.65" rx="2.65" ry="4.6" fill="#fff" stroke="#141414" stroke-width="1.25" transform="rotate(150 164.6 746.65)"/>
<path d="M158.25 744.66 L157.95 744.88 L157.7 745.17 L157.5 745.52 L157.35 745.93 L157.27 746.39 L157.24 746.9 L157.27 747.44 L157.35 748 L157.5 748.58 L157.7 749.17 L157.95 749.75 L158.25 750.31 L158.59 750.86 L158.97 751.36 L159.38 751.83 L159.8 752.25 L160.25 752.6 L160.7 752.9 L161.15 753.13 L161.6 753.28 L162.03 753.36 L162.43 753.36 L162.81 753.29 L163.15 753.14 L167.05 750.89 L167.35 750.67 L167.6 750.38 L167.8 750.03 L167.94 749.62 L168.03 749.16 L168.06 748.65 L168.03 748.11 L167.94 747.55 L167.8 746.97 L167.6 746.38 L167.34 745.8 L167.05 745.24 L166.7 744.69 L166.33 744.19 L165.92 743.72 L165.49 743.3 L165.05 742.95 L164.6 742.65 L164.14 742.42 L163.7 742.27 L163.27 742.19 L162.86 742.19 L162.49 742.26 L162.15 742.41 Z" fill="#fff" stroke="#141414" stroke-width="1.25" stroke-linejoin="round" />
<ellipse cx="160.7" cy="748.9" rx="2.83" ry="4.9" fill="#fff" stroke="#141414" stroke-width="1.25" transform="rotate(150 160.7 748.9)"/>
<line x1="247.8" y1="700" x2="255.6" y2="695.6" stroke="#141414" stroke-width="1" stroke-linecap="butt"/>
<ellipse cx="270.7" cy="687.8" rx="10.25" ry="18.3" fill="#fff" stroke="#141414" stroke-width="1.6" transform="rotate(150 270.7 687.8)"/>
<line x1="266.7" y1="689.6" x2="276.7" y2="684.2" stroke="#141414" stroke-width="1" stroke-linecap="butt"/>
<line x1="290" y1="676.2" x2="297" y2="672.4" stroke="#141414" stroke-width="1" stroke-linecap="butt"/>
<ellipse cx="301.8" cy="670" rx="7.44" ry="12" fill="#fff" stroke="#141414" stroke-width="1.6" transform="rotate(150 301.8 670)"/>
<line x1="297" y1="672.4" x2="303.5" y2="668.9" stroke="#141414" stroke-width="1" stroke-linecap="butt"/>
<line x1="313.3" y1="663.4" x2="325.6" y2="656.8" stroke="#141414" stroke-width="1" stroke-linecap="butt"/>
<ellipse cx="333.3" cy="651.2" rx="7.44" ry="12" fill="#fff" stroke="#141414" stroke-width="2.6" transform="rotate(150 333.3 651.2)"/>
<line x1="337" y1="649.2" x2="344" y2="645.5" stroke="#141414" stroke-width="1" stroke-linecap="butt"/>
<line x1="143.5" y1="759.3" x2="156.5" y2="751.6" stroke="#141414" stroke-width="1" stroke-linecap="butt"/>
<path d="M96.7 759.98 L95.36 760.98 L94.23 762.31 L93.34 763.94 L92.71 765.84 L92.35 767.98 L92.25 770.33 L92.43 772.84 L92.88 775.47 L93.59 778.17 L94.55 780.91 L95.74 783.63 L97.15 786.28 L98.74 788.83 L100.5 791.22 L102.39 793.42 L104.38 795.39 L106.43 797.09 L108.51 798.5 L110.59 799.59 L112.63 800.34 L114.59 800.74 L116.45 800.79 L118.16 800.48 L119.7 799.82 L154.77 779.57 L156.12 778.57 L157.24 777.24 L158.13 775.61 L158.76 773.71 L159.13 771.57 L159.22 769.22 L159.05 766.71 L158.6 764.08 L157.89 761.38 L156.93 758.64 L155.74 755.92 L154.33 753.27 L152.73 750.72 L150.98 748.33 L149.09 746.13 L147.1 744.16 L145.04 742.46 L142.96 741.05 L140.88 739.96 L138.84 739.21 L136.88 738.81 L135.03 738.76 L133.32 739.07 L131.77 739.73 Z" fill="#fff" stroke="#141414" stroke-width="1.25" stroke-linejoin="round" />
<ellipse cx="108.2" cy="779.9" rx="12.77" ry="23" fill="#fff" stroke="#141414" stroke-width="1.25" transform="rotate(150 108.2 779.9)"/>
<ellipse cx="108.2" cy="779.9" rx="7.66" ry="13.8" fill="none" stroke="#141414" stroke-width="0.9" transform="rotate(150 108.2 779.9)"/>
<ellipse cx="109.24" cy="779.3" rx="5.22" ry="9.4" fill="none" stroke="#141414" stroke-width="0.9" transform="rotate(150 109.24 779.3)"/>
<ellipse cx="110.11" cy="778.8" rx="3.44" ry="6.2" fill="none" stroke="#141414" stroke-width="0.9" transform="rotate(150 110.11 778.8)"/>
<path d="M127.7 774.4 L137.8 781.4 L137.8 802.4 L129.2 796 Z" fill="#fff" stroke="#141414" stroke-width="1.25" stroke-linejoin="round" />
<path d="M137.8 781.4 L161.9 769 L161.9 788.4 L137.8 802.4 Z" fill="#fff" stroke="#141414" stroke-width="1.25" stroke-linejoin="round" />
<path d="M127.7 774.4 L149.4 762.8 L161.9 769 L137.8 781.4 Z" fill="#fff" stroke="#141414" stroke-width="1.25" stroke-linejoin="round" />
<path d="M147 779.2 L151 777.2 L158.5 781.5 L154.5 783.6 Z" fill="none" stroke="#141414" stroke-width="0.8" stroke-linejoin="round" />
<path d="M152.5 784.8 L156.5 782.8 L160.5 785.2 L160.5 788 L158.5 789" fill="none" stroke="#141414" stroke-width="0.8" stroke-linejoin="round" />
<path d="M141.5 791.8 L145 790 L148.5 792.2 L145 794 Z" fill="none" stroke="#141414" stroke-width="0.8" stroke-linejoin="round" />
<line x1="141.5" y1="791.8" x2="141.5" y2="795.5" stroke="#141414" stroke-width="0.8" stroke-linecap="butt"/>
<line x1="92" y1="789.2" x2="110.5" y2="778.6" stroke="#141414" stroke-width="1" stroke-linecap="butt"/>
<ellipse cx="83.43" cy="792.05" rx="6.9" ry="11.5" fill="#fff" stroke="#141414" stroke-width="1" transform="rotate(150 83.43 792.05)"/>
<path d="M76.45 791.4 L77.78 784.27 L84.33 785.17 L89.55 793.2 L88.21 800.33 L81.67 799.43 Z" fill="#fff" stroke="#141414" stroke-width="1.25" stroke-linejoin="round" />
<path d="M77.78 784.27 L84.33 785.17 L80.43 787.42 L73.88 786.52 Z" fill="#fff" stroke="#141414" stroke-width="1.25" stroke-linejoin="round" />
<path d="M84.33 785.17 L89.55 793.2 L85.65 795.45 L80.43 787.42 Z" fill="#fff" stroke="#141414" stroke-width="1.25" stroke-linejoin="round" />
<path d="M89.55 793.2 L88.21 800.33 L84.32 802.58 L85.65 795.45 Z" fill="#fff" stroke="#141414" stroke-width="1.25" stroke-linejoin="round" />
<path d="M72.55 793.65 L73.88 786.52 L80.43 787.42 L85.65 795.45 L84.32 802.58 L77.77 801.68 Z" fill="#fff" stroke="#141414" stroke-width="1.25" stroke-linejoin="round" />
<ellipse cx="79.1" cy="794.55" rx="3.12" ry="5.2" fill="none" stroke="#141414" stroke-width="1" transform="rotate(150 79.1 794.55)"/>
<line x1="570" y1="584.4" x2="586.3" y2="593.7" stroke="#141414" stroke-width="1" stroke-linecap="butt"/>
<path d="M587.52 610.75 L588.37 611.05 L589.31 611.17 L590.3 611.09 L591.33 610.82 L592.39 610.37 L593.46 609.74 L594.51 608.94 L595.54 607.99 L596.51 606.9 L597.43 605.69 L598.26 604.38 L599 603 L599.63 601.57 L600.15 600.1 L600.54 598.64 L600.8 597.2 L600.92 595.81 L600.9 594.48 L600.74 593.26 L600.44 592.14 L600.02 591.16 L599.47 590.33 L598.81 589.67 L598.04 589.18 L596.06 588.21 L595.2 587.91 L594.27 587.8 L593.28 587.87 L592.24 588.14 L591.18 588.6 L590.12 589.23 L589.07 590.03 L588.04 590.98 L587.06 592.07 L586.15 593.28 L585.32 594.58 L584.58 595.96 L583.94 597.4 L583.43 598.86 L583.04 600.32 L582.78 601.76 L582.66 603.16 L582.68 604.48 L582.84 605.71 L583.13 606.82 L583.56 607.8 L584.11 608.63 L584.77 609.3 L585.54 609.79 Z" fill="#fff" stroke="#141414" stroke-width="1.25" stroke-linejoin="round" />
<ellipse cx="592.78" cy="599.96" rx="6.92" ry="12" fill="#fff" stroke="#141414" stroke-width="1.25" transform="rotate(26 592.78 599.96)"/>
<path d="M589.39 610.11 L590.15 610.37 L590.97 610.47 L591.85 610.41 L592.76 610.17 L593.7 609.77 L594.64 609.21 L595.57 608.51 L596.47 607.66 L597.34 606.7 L598.14 605.63 L598.88 604.48 L599.53 603.26 L600.09 601.99 L600.55 600.7 L600.89 599.41 L601.12 598.14 L601.23 596.91 L601.21 595.74 L601.07 594.65 L600.81 593.67 L600.43 592.8 L599.95 592.07 L599.36 591.48 L598.68 591.05 L597.42 590.44 L596.67 590.17 L595.84 590.07 L594.97 590.14 L594.05 590.37 L593.12 590.77 L592.18 591.33 L591.24 592.04 L590.34 592.88 L589.48 593.84 L588.67 594.91 L587.93 596.06 L587.28 597.28 L586.72 598.55 L586.26 599.84 L585.92 601.13 L585.69 602.41 L585.59 603.64 L585.6 604.81 L585.74 605.89 L586 606.87 L586.38 607.74 L586.87 608.47 L587.45 609.06 L588.13 609.49 Z" fill="#fff" stroke="#141414" stroke-width="1.25" stroke-linejoin="round" />
<ellipse cx="594.04" cy="600.58" rx="6.12" ry="10.6" fill="#fff" stroke="#141414" stroke-width="1.25" transform="rotate(26 594.04 600.58)"/>
<path d="M589.49 611.71 L590.35 612.02 L591.28 612.13 L592.28 612.05 L593.31 611.79 L594.37 611.33 L595.44 610.7 L596.49 609.9 L597.51 608.95 L598.49 607.86 L599.4 606.65 L600.24 605.35 L600.98 603.96 L601.61 602.53 L602.13 601.07 L602.52 599.61 L602.77 598.16 L602.89 596.77 L602.87 595.45 L602.72 594.22 L602.42 593.11 L602 592.13 L601.45 591.3 L600.78 590.63 L600.02 590.14 L599.3 589.79 L598.44 589.49 L597.51 589.37 L596.51 589.45 L595.48 589.72 L594.42 590.17 L593.35 590.81 L592.3 591.6 L591.28 592.56 L590.3 593.65 L589.39 594.85 L588.55 596.16 L587.81 597.54 L587.18 598.98 L586.66 600.44 L586.27 601.9 L586.02 603.34 L585.9 604.74 L585.92 606.06 L586.07 607.29 L586.37 608.4 L586.79 609.38 L587.34 610.21 L588.01 610.88 L588.78 611.36 Z" fill="#fff" stroke="#141414" stroke-width="1.2" stroke-linejoin="round" />
<ellipse cx="594.75" cy="600.93" rx="6.92" ry="12" fill="#fff" stroke="#141414" stroke-width="1.2" transform="rotate(26 594.75 600.93)"/>
<path d="M591.19 610.98 L591.94 611.25 L592.77 611.35 L593.64 611.28 L594.56 611.05 L595.49 610.65 L596.43 610.09 L597.37 609.38 L598.27 608.54 L599.13 607.58 L599.94 606.51 L600.68 605.36 L601.33 604.14 L601.89 602.87 L602.35 601.58 L602.69 600.29 L602.92 599.01 L603.02 597.78 L603.01 596.61 L602.87 595.53 L602.61 594.54 L602.23 593.68 L601.74 592.95 L601.16 592.36 L600.48 591.93 L599.4 591.4 L598.64 591.13 L597.82 591.03 L596.94 591.1 L596.03 591.34 L595.09 591.74 L594.15 592.3 L593.22 593 L592.32 593.84 L591.45 594.81 L590.65 595.87 L589.91 597.03 L589.26 598.25 L588.7 599.51 L588.24 600.8 L587.9 602.1 L587.67 603.37 L587.56 604.6 L587.58 605.77 L587.72 606.86 L587.98 607.84 L588.36 608.7 L588.84 609.44 L589.43 610.02 L590.11 610.46 Z" fill="#fff" stroke="#141414" stroke-width="1.25" stroke-linejoin="round" />
<ellipse cx="595.83" cy="601.45" rx="6.12" ry="10.6" fill="#fff" stroke="#141414" stroke-width="1.25" transform="rotate(26 595.83 601.45)"/>
<path d="M592.73 613.29 L593.59 613.6 L594.52 613.71 L595.51 613.63 L596.55 613.37 L597.61 612.91 L598.67 612.28 L599.73 611.48 L600.75 610.53 L601.73 609.44 L602.64 608.23 L603.47 606.92 L604.21 605.54 L604.85 604.11 L605.36 602.65 L605.75 601.18 L606.01 599.74 L606.13 598.35 L606.11 597.03 L605.95 595.8 L605.66 594.68 L605.23 593.7 L604.68 592.87 L604.02 592.21 L603.25 591.72 L601.09 590.67 L600.24 590.37 L599.3 590.25 L598.31 590.33 L597.28 590.6 L596.22 591.05 L595.15 591.68 L594.1 592.48 L593.07 593.43 L592.1 594.52 L591.18 595.73 L590.35 597.04 L589.61 598.42 L588.98 599.85 L588.46 601.31 L588.07 602.78 L587.81 604.22 L587.69 605.61 L587.71 606.94 L587.87 608.16 L588.17 609.28 L588.59 610.26 L589.14 611.09 L589.81 611.75 L590.57 612.24 Z" fill="#fff" stroke="#141414" stroke-width="1.25" stroke-linejoin="round" />
<ellipse cx="597.99" cy="602.51" rx="6.92" ry="12" fill="#fff" stroke="#141414" stroke-width="1.25" transform="rotate(26 597.99 602.51)"/>
<path d="M600.36 615.9 L601.14 616.18 L602 616.28 L602.91 616.21 L603.86 615.97 L604.83 615.55 L605.8 614.97 L606.77 614.24 L607.71 613.37 L608.61 612.37 L609.44 611.26 L610.21 610.06 L610.89 608.8 L611.47 607.48 L611.94 606.14 L612.3 604.8 L612.53 603.48 L612.64 602.2 L612.62 600.99 L612.48 599.86 L612.21 598.84 L611.82 597.94 L611.31 597.18 L610.71 596.57 L610 596.13 L602.81 592.62 L602.03 592.34 L601.17 592.24 L600.26 592.31 L599.31 592.55 L598.34 592.97 L597.37 593.55 L596.4 594.28 L595.46 595.15 L594.57 596.15 L593.73 597.26 L592.96 598.46 L592.29 599.72 L591.71 601.04 L591.23 602.38 L590.87 603.72 L590.64 605.04 L590.53 606.32 L590.55 607.53 L590.69 608.66 L590.96 609.68 L591.35 610.58 L591.86 611.34 L592.46 611.95 L593.17 612.39 Z" fill="#fff" stroke="#141414" stroke-width="1.25" stroke-linejoin="round" />
<ellipse cx="605.18" cy="606.01" rx="6.35" ry="11" fill="#fff" stroke="#141414" stroke-width="1.25" transform="rotate(26 605.18 606.01)"/>
<ellipse cx="604.34" cy="602.04" rx="1.5" ry="1.72" fill="#fff" stroke="#141414" stroke-width="1" transform="rotate(26 604.34 602.04)"/>
<path d="M603.21 614.62 L603.82 614.84 L604.49 614.92 L605.2 614.86 L605.94 614.67 L606.7 614.35 L607.47 613.89 L608.22 613.32 L608.96 612.64 L609.66 611.86 L610.31 610.99 L610.91 610.06 L611.44 609.07 L611.89 608.04 L612.26 606.99 L612.54 605.94 L612.73 604.91 L612.81 603.91 L612.8 602.96 L612.68 602.08 L612.47 601.28 L612.17 600.58 L611.77 599.99 L611.3 599.51 L610.75 599.16 L608.95 598.28 L608.34 598.07 L607.67 597.98 L606.96 598.04 L606.22 598.23 L605.46 598.56 L604.69 599.01 L603.94 599.58 L603.2 600.27 L602.5 601.05 L601.85 601.91 L601.25 602.85 L600.72 603.84 L600.27 604.87 L599.9 605.91 L599.62 606.96 L599.43 607.99 L599.35 608.99 L599.36 609.94 L599.47 610.82 L599.69 611.62 L599.99 612.32 L600.38 612.92 L600.86 613.39 L601.41 613.74 Z" fill="#fff" stroke="#141414" stroke-width="1.25" stroke-linejoin="round" />
<ellipse cx="606.98" cy="606.89" rx="4.96" ry="8.6" fill="#fff" stroke="#141414" stroke-width="1.25" transform="rotate(26 606.98 606.89)"/>
<path d="M609.77 618.27 L610.42 618.5 L611.12 618.58 L611.86 618.52 L612.64 618.32 L613.43 617.98 L614.23 617.51 L615.02 616.91 L615.79 616.19 L616.52 615.38 L617.21 614.47 L617.83 613.49 L618.39 612.45 L618.86 611.38 L619.25 610.28 L619.54 609.19 L619.73 608.11 L619.82 607.06 L619.81 606.07 L619.69 605.15 L619.47 604.31 L619.15 603.58 L618.74 602.95 L618.24 602.46 L617.66 602.09 L610.92 598.8 L610.28 598.57 L609.58 598.49 L608.84 598.55 L608.06 598.75 L607.27 599.09 L606.47 599.56 L605.68 600.16 L604.91 600.87 L604.18 601.69 L603.49 602.6 L602.87 603.58 L602.31 604.61 L601.84 605.69 L601.45 606.79 L601.16 607.88 L600.96 608.96 L600.87 610.01 L600.89 611 L601.01 611.92 L601.23 612.76 L601.55 613.49 L601.96 614.12 L602.46 614.61 L603.03 614.98 Z" fill="#fff" stroke="#141414" stroke-width="1.25" stroke-linejoin="round" />
<ellipse cx="613.72" cy="610.18" rx="5.19" ry="9" fill="#fff" stroke="#141414" stroke-width="1.25" transform="rotate(26 613.72 610.18)"/>
<ellipse cx="613.72" cy="610.18" rx="3.58" ry="6.2" fill="none" stroke="#141414" stroke-width="1" transform="rotate(26 613.72 610.18)"/>
<line x1="614.72" y1="610.68" x2="622.6" y2="613.4" stroke="#141414" stroke-width="1" stroke-linecap="butt"/>
<line x1="633.3" y1="620" x2="645.6" y2="626.7" stroke="#141414" stroke-width="1" stroke-linecap="butt"/>
<ellipse cx="657.3" cy="635.6" rx="7.81" ry="12.6" fill="#fff" stroke="#141414" stroke-width="1.5" transform="rotate(30 657.3 635.6)"/>
<line x1="654.4" y1="633.3" x2="667.8" y2="641" stroke="#141414" stroke-width="1" stroke-linecap="butt"/>
<line x1="677.8" y1="647.1" x2="691.1" y2="654.4" stroke="#141414" stroke-width="1" stroke-linecap="butt"/>
<line x1="702.2" y1="660.4" x2="708.5" y2="663.7" stroke="#141414" stroke-width="1" stroke-linecap="butt"/>
<path d="M720.61 685.83 L721.57 686.21 L722.62 686.38 L723.75 686.33 L724.93 686.07 L726.15 685.6 L727.38 684.92 L728.6 684.06 L729.8 683.02 L730.95 681.83 L732.03 680.49 L733.03 679.05 L733.92 677.51 L734.7 675.91 L735.34 674.28 L735.84 672.63 L736.19 671.01 L736.38 669.44 L736.41 667.94 L736.28 666.54 L735.99 665.27 L735.54 664.14 L734.95 663.18 L734.23 662.4 L733.38 661.82 L721.9 655.72 L720.94 655.34 L719.89 655.17 L718.76 655.22 L717.58 655.48 L716.36 655.95 L715.13 656.63 L713.9 657.49 L712.71 658.53 L711.56 659.72 L710.47 661.06 L709.48 662.5 L708.59 664.04 L707.81 665.64 L707.17 667.27 L706.67 668.91 L706.32 670.54 L706.13 672.11 L706.1 673.61 L706.23 675.01 L706.52 676.28 L706.96 677.41 L707.55 678.37 L708.28 679.15 L709.13 679.73 Z" fill="#fff" stroke="#141414" stroke-width="1.25" stroke-linejoin="round" />
<path d="M711.4 681.22 L710.22 680.6 L709.24 679.66 L708.47 678.42 L707.95 676.9 L707.68 675.17 L707.68 673.25 L707.94 671.21 L708.46 669.1 L709.22 666.97 L710.2 664.9 L711.37 662.92 L712.71 661.11 L714.17 659.5 L715.72 658.14 L717.31 657.07 L718.9 656.32 L720.44 655.91 L721.9 655.84 L723.23 656.13 L724.4 656.76" fill="none" stroke="#141414" stroke-width="1.1" stroke-linejoin="round" />
<path d="M712.83 680.74 L711.75 680.17 L710.84 679.31 L710.14 678.16 L709.66 676.77 L709.42 675.17 L709.41 673.4 L709.65 671.52 L710.13 669.58 L710.83 667.62 L711.73 665.71 L712.81 663.89 L714.04 662.22 L715.39 660.74 L716.81 659.49 L718.28 658.5 L719.74 657.81 L721.16 657.43 L722.5 657.37 L723.73 657.64 L724.81 658.22" fill="none" stroke="#141414" stroke-width="0.7" stroke-linejoin="round" />
<path d="M713.52 682.34 L712.34 681.73 L711.35 680.79 L710.59 679.54 L710.07 678.03 L709.8 676.29 L709.8 674.38 L710.06 672.34 L710.58 670.22 L711.34 668.1 L712.32 666.02 L713.49 664.05 L714.83 662.23 L716.29 660.62 L717.84 659.27 L719.43 658.2 L721.02 657.45 L722.56 657.03 L724.02 656.97 L725.35 657.26 L726.52 657.89" fill="none" stroke="#141414" stroke-width="1.1" stroke-linejoin="round" />
<path d="M714.95 681.87 L713.87 681.3 L712.96 680.43 L712.26 679.29 L711.78 677.9 L711.53 676.3 L711.53 674.53 L711.77 672.65 L712.25 670.71 L712.95 668.75 L713.85 666.84 L714.93 665.02 L716.16 663.35 L717.51 661.87 L718.93 660.61 L720.4 659.63 L721.86 658.94 L723.28 658.56 L724.62 658.5 L725.85 658.77 L726.93 659.35" fill="none" stroke="#141414" stroke-width="0.7" stroke-linejoin="round" />
<path d="M715.63 683.47 L714.46 682.86 L713.47 681.91 L712.71 680.67 L712.19 679.16 L711.92 677.42 L711.92 675.5 L712.18 673.46 L712.7 671.35 L713.46 669.23 L714.44 667.15 L715.61 665.18 L716.95 663.36 L718.41 661.75 L719.96 660.39 L721.55 659.32 L723.13 658.57 L724.68 658.16 L726.14 658.1 L727.47 658.39 L728.64 659.02" fill="none" stroke="#141414" stroke-width="1.1" stroke-linejoin="round" />
<path d="M717.07 682.99 L715.99 682.43 L715.08 681.56 L714.38 680.41 L713.9 679.02 L713.65 677.42 L713.65 675.66 L713.89 673.78 L714.37 671.83 L715.07 669.88 L715.97 667.96 L717.05 666.15 L718.28 664.47 L719.63 662.99 L721.05 661.74 L722.51 660.76 L723.98 660.07 L725.4 659.69 L726.74 659.63 L727.97 659.89 L729.04 660.48" fill="none" stroke="#141414" stroke-width="0.7" stroke-linejoin="round" />
<path d="M717.75 684.6 L716.58 683.98 L715.59 683.04 L714.83 681.8 L714.31 680.28 L714.04 678.55 L714.04 676.63 L714.3 674.59 L714.82 672.48 L715.58 670.35 L716.56 668.28 L717.73 666.3 L719.07 664.49 L720.53 662.88 L722.07 661.52 L723.66 660.45 L725.25 659.7 L726.8 659.29 L728.26 659.22 L729.59 659.51 L730.76 660.14" fill="none" stroke="#141414" stroke-width="1.1" stroke-linejoin="round" />
<path d="M719.19 684.12 L718.11 683.55 L717.2 682.69 L716.5 681.54 L716.02 680.15 L715.77 678.55 L715.77 676.78 L716.01 674.9 L716.49 672.96 L717.19 671 L718.09 669.09 L719.17 667.27 L720.4 665.6 L721.75 664.12 L723.17 662.87 L724.63 661.88 L726.1 661.19 L727.52 660.81 L728.86 660.75 L730.09 661.02 L731.16 661.6" fill="none" stroke="#141414" stroke-width="0.7" stroke-linejoin="round" />
<path d="M719.87 685.72 L718.7 685.11 L717.71 684.17 L716.95 682.92 L716.43 681.41 L716.16 679.67 L716.16 677.76 L716.42 675.72 L716.94 673.6 L717.7 671.48 L718.67 669.4 L719.85 667.43 L721.19 665.61 L722.65 664 L724.19 662.65 L725.78 661.58 L727.37 660.83 L728.92 660.41 L730.38 660.35 L731.71 660.64 L732.87 661.27" fill="none" stroke="#141414" stroke-width="1.1" stroke-linejoin="round" />
<path d="M721.31 685.25 L720.23 684.68 L719.32 683.81 L718.62 682.67 L718.14 681.28 L717.89 679.68 L717.89 677.91 L718.13 676.03 L718.61 674.09 L719.3 672.13 L720.21 670.22 L721.29 668.4 L722.52 666.73 L723.86 665.25 L725.29 664 L726.75 663.01 L728.22 662.32 L729.64 661.94 L730.98 661.88 L732.21 662.15 L733.28 662.73" fill="none" stroke="#141414" stroke-width="0.7" stroke-linejoin="round" />
<path d="M720.94 690.54 L722.14 691.01 L723.47 691.21 L724.9 691.13 L726.4 690.77 L727.94 690.15 L729.51 689.26 L731.07 688.13 L732.61 686.78 L734.08 685.22 L735.47 683.49 L736.75 681.62 L737.9 679.63 L738.91 677.56 L739.74 675.45 L740.4 673.33 L740.87 671.24 L741.13 669.21 L741.2 667.28 L741.05 665.49 L740.71 663.86 L740.16 662.41 L739.43 661.19 L738.53 660.2 L737.46 659.46 L735.26 658.29 L734.05 657.82 L732.72 657.62 L731.3 657.7 L729.8 658.05 L728.25 658.68 L726.68 659.57 L725.12 660.7 L723.59 662.05 L722.11 663.6 L720.73 665.33 L719.44 667.21 L718.29 669.2 L717.29 671.27 L716.45 673.38 L715.79 675.5 L715.32 677.59 L715.06 679.62 L715 681.54 L715.14 683.34 L715.49 684.97 L716.03 686.41 L716.76 687.64 L717.66 688.63 L718.73 689.37 Z" fill="#fff" stroke="#141414" stroke-width="1.25" stroke-linejoin="round" />
<ellipse cx="729.2" cy="675" rx="9.86" ry="17.6" fill="#fff" stroke="#141414" stroke-width="1.25" transform="rotate(28 729.2 675)"/>
<path d="M724 675.5 L729 670.5 L737.5 672.5 L736 679.5 L728.5 684.5 L724 681.5 Z" fill="none" stroke="#141414" stroke-width="1" stroke-linejoin="round" />
<path d="M726.3 676.2 L729.8 673 L735 674.3 L734 678.5 L728.8 681.8 L726.3 680 Z" fill="none" stroke="#141414" stroke-width="0.7" stroke-linejoin="round" />
<path d="M657.5 569.2 L685.8 552.5 L792.5 613.3 L765 630" fill="none" stroke="#141414" stroke-width="1.15" stroke-dasharray="4.4 2.6" stroke-linejoin="round" />
<path d="M657.5 569.2 L765 630" fill="none" stroke="#141414" stroke-width="1.15" stroke-dasharray="9 3 1.5 3" stroke-linejoin="round" />
<path d="M679.43 574.14 L679.95 574.35 L680.51 574.45 L681.11 574.43 L681.75 574.3 L682.41 574.05 L683.07 573.7 L683.74 573.24 L684.39 572.69 L685.01 572.06 L685.6 571.35 L686.14 570.58 L686.63 569.76 L687.06 568.91 L687.41 568.04 L687.69 567.16 L687.89 566.29 L688 565.45 L688.03 564.64 L687.97 563.89 L687.82 563.21 L687.59 562.6 L687.28 562.08 L686.9 561.66 L686.44 561.34 L684.69 560.38 L684.18 560.17 L683.61 560.07 L683.01 560.09 L682.37 560.22 L681.72 560.47 L681.05 560.82 L680.39 561.28 L679.74 561.83 L679.11 562.46 L678.52 563.17 L677.98 563.94 L677.49 564.76 L677.06 565.61 L676.71 566.48 L676.43 567.36 L676.23 568.23 L676.12 569.07 L676.09 569.88 L676.15 570.63 L676.3 571.31 L676.53 571.92 L676.84 572.44 L677.23 572.86 L677.68 573.18 Z" fill="#fff" stroke="#141414" stroke-width="1.4" stroke-linejoin="round" />
<ellipse cx="682.94" cy="567.74" rx="4.21" ry="7.3" fill="#fff" stroke="#141414" stroke-width="1.4" transform="rotate(28.7 682.94 567.74)"/>
<path d="M681.37 573.72 L681.79 573.9 L682.26 573.97 L682.75 573.96 L683.28 573.85 L683.82 573.65 L684.36 573.36 L684.91 572.98 L685.44 572.53 L685.96 572.01 L686.44 571.43 L686.89 570.8 L687.29 570.12 L687.64 569.42 L687.93 568.7 L688.16 567.98 L688.32 567.27 L688.42 566.58 L688.44 565.91 L688.39 565.3 L688.27 564.73 L688.08 564.23 L687.82 563.81 L687.51 563.46 L687.14 563.2 L685.82 562.48 L685.4 562.31 L684.94 562.23 L684.44 562.24 L683.92 562.35 L683.38 562.55 L682.83 562.84 L682.28 563.22 L681.75 563.67 L681.24 564.19 L680.75 564.77 L680.3 565.4 L679.9 566.08 L679.55 566.78 L679.26 567.5 L679.03 568.22 L678.87 568.93 L678.78 569.62 L678.75 570.29 L678.8 570.9 L678.92 571.47 L679.11 571.97 L679.37 572.39 L679.69 572.74 L680.06 573 Z" fill="#fff" stroke="#141414" stroke-width="1.25" stroke-linejoin="round" />
<ellipse cx="684.25" cy="568.46" rx="3.46" ry="6" fill="#fff" stroke="#141414" stroke-width="1.25" transform="rotate(28.7 684.25 568.46)"/>
<path d="M682.5 575.82 L683.02 576.03 L683.58 576.13 L684.18 576.11 L684.82 575.98 L685.48 575.73 L686.14 575.38 L686.81 574.92 L687.46 574.37 L688.08 573.74 L688.67 573.03 L689.21 572.26 L689.7 571.44 L690.13 570.59 L690.48 569.72 L690.76 568.84 L690.96 567.97 L691.07 567.13 L691.1 566.32 L691.04 565.57 L690.89 564.89 L690.66 564.28 L690.35 563.76 L689.97 563.34 L689.51 563.02 L687.76 562.06 L687.25 561.85 L686.68 561.75 L686.08 561.77 L685.44 561.9 L684.79 562.15 L684.12 562.5 L683.46 562.96 L682.81 563.51 L682.18 564.14 L681.59 564.85 L681.05 565.62 L680.56 566.44 L680.13 567.29 L679.78 568.16 L679.5 569.04 L679.3 569.91 L679.19 570.75 L679.16 571.56 L679.22 572.31 L679.37 572.99 L679.6 573.6 L679.91 574.12 L680.3 574.54 L680.75 574.86 Z" fill="#fff" stroke="#141414" stroke-width="1.4" stroke-linejoin="round" />
<ellipse cx="686.01" cy="569.42" rx="4.21" ry="7.3" fill="#fff" stroke="#141414" stroke-width="1.4" transform="rotate(28.7 686.01 569.42)"/>
<path d="M686.93 577.11 L687.37 577.29 L687.86 577.37 L688.38 577.36 L688.93 577.24 L689.5 577.03 L690.07 576.72 L690.64 576.33 L691.2 575.86 L691.74 575.31 L692.25 574.7 L692.72 574.03 L693.14 573.33 L693.51 572.59 L693.82 571.84 L694.06 571.08 L694.23 570.33 L694.33 569.6 L694.35 568.91 L694.3 568.26 L694.17 567.67 L693.97 567.14 L693.7 566.7 L693.37 566.33 L692.98 566.06 L689.03 563.89 L688.59 563.71 L688.11 563.63 L687.58 563.65 L687.03 563.76 L686.47 563.97 L685.89 564.28 L685.32 564.67 L684.76 565.15 L684.22 565.69 L683.71 566.3 L683.24 566.97 L682.82 567.68 L682.45 568.41 L682.15 569.16 L681.91 569.92 L681.73 570.67 L681.64 571.4 L681.61 572.09 L681.67 572.74 L681.79 573.33 L681.99 573.86 L682.26 574.31 L682.59 574.67 L682.98 574.95 Z" fill="#fff" stroke="#141414" stroke-width="1.25" stroke-linejoin="round" />
<ellipse cx="689.96" cy="571.58" rx="3.64" ry="6.3" fill="#fff" stroke="#141414" stroke-width="1.25" transform="rotate(28.7 689.96 571.58)"/>
<path d="M692.02 583.43 L692.68 583.7 L693.41 583.82 L694.18 583.8 L695 583.63 L695.85 583.31 L696.71 582.86 L697.56 582.27 L698.4 581.56 L699.2 580.75 L699.96 579.83 L700.66 578.84 L701.29 577.79 L701.84 576.69 L702.3 575.57 L702.66 574.43 L702.91 573.32 L703.06 572.23 L703.09 571.2 L703.01 570.23 L702.82 569.35 L702.53 568.56 L702.13 567.89 L701.63 567.35 L701.05 566.94 L694.47 563.34 L693.81 563.07 L693.08 562.94 L692.31 562.97 L691.49 563.14 L690.64 563.45 L689.78 563.91 L688.93 564.5 L688.09 565.2 L687.29 566.02 L686.53 566.93 L685.83 567.92 L685.2 568.98 L684.65 570.08 L684.19 571.2 L683.83 572.33 L683.58 573.45 L683.43 574.53 L683.4 575.57 L683.48 576.54 L683.67 577.42 L683.96 578.2 L684.36 578.87 L684.86 579.42 L685.44 579.83 Z" fill="#fff" stroke="#141414" stroke-width="1.25" stroke-linejoin="round" />
<ellipse cx="696.53" cy="575.18" rx="5.42" ry="9.4" fill="#fff" stroke="#141414" stroke-width="1.25" transform="rotate(28.7 696.53 575.18)"/>
<path d="M685.66 579.9 L684.94 579.16 L684.42 578.16 L684.1 576.95 L684.01 575.57 L684.15 574.06 L684.5 572.48 L685.06 570.88 L685.81 569.31 L686.73 567.84 L687.77 566.5 L688.91 565.35 L690.11 564.43 L691.33 563.76 L692.51 563.37 L693.64 563.28 L694.65 563.48" fill="none" stroke="#141414" stroke-width="1.6" stroke-linejoin="round" />
<path d="M686.71 580.48 L685.99 579.73 L685.47 578.74 L685.16 577.53 L685.07 576.14 L685.2 574.64 L685.55 573.06 L686.11 571.45 L686.86 569.89 L687.78 568.41 L688.82 567.08 L689.97 565.93 L691.16 565 L692.38 564.34 L693.57 563.95 L694.69 563.85 L695.7 564.05" fill="none" stroke="#141414" stroke-width="1.6" stroke-linejoin="round" />
<path d="M687.76 581.06 L687.05 580.31 L686.52 579.31 L686.21 578.1 L686.12 576.72 L686.25 575.21 L686.6 573.63 L687.17 572.03 L687.92 570.47 L688.83 568.99 L689.88 567.65 L691.02 566.5 L692.22 565.58 L693.43 564.91 L694.62 564.52 L695.74 564.43 L696.76 564.63" fill="none" stroke="#141414" stroke-width="1.6" stroke-linejoin="round" />
<path d="M688.82 581.63 L688.1 580.89 L687.57 579.89 L687.26 578.68 L687.17 577.3 L687.3 575.79 L687.66 574.21 L688.22 572.61 L688.97 571.04 L689.88 569.57 L690.93 568.23 L692.07 567.08 L693.27 566.16 L694.48 565.49 L695.67 565.1 L696.79 565 L697.81 565.21" fill="none" stroke="#141414" stroke-width="1.6" stroke-linejoin="round" />
<path d="M689.87 582.21 L689.15 581.46 L688.63 580.47 L688.31 579.26 L688.22 577.87 L688.36 576.37 L688.71 574.78 L689.27 573.18 L690.02 571.62 L690.94 570.14 L691.98 568.81 L693.12 567.66 L694.32 566.73 L695.54 566.06 L696.72 565.68 L697.85 565.58 L698.86 565.78" fill="none" stroke="#141414" stroke-width="1.6" stroke-linejoin="round" />
<path d="M690.92 582.79 L690.2 582.04 L689.68 581.04 L689.37 579.83 L689.28 578.45 L689.41 576.94 L689.76 575.36 L690.32 573.76 L691.08 572.19 L691.99 570.72 L693.03 569.38 L694.18 568.23 L695.37 567.31 L696.59 566.64 L697.78 566.25 L698.9 566.16 L699.91 566.36" fill="none" stroke="#141414" stroke-width="1.6" stroke-linejoin="round" />
<path d="M716.77 596.52 L717.4 596.78 L718.1 596.9 L718.84 596.88 L719.63 596.71 L720.44 596.41 L721.26 595.98 L722.08 595.41 L722.88 594.74 L723.65 593.95 L724.38 593.08 L725.05 592.13 L725.65 591.12 L726.17 590.07 L726.61 589 L726.96 587.91 L727.2 586.84 L727.34 585.8 L727.37 584.81 L727.3 583.88 L727.11 583.04 L726.83 582.29 L726.45 581.65 L725.97 581.13 L725.42 580.74 L700.86 567.29 L700.22 567.03 L699.53 566.91 L698.78 566.94 L698 567.1 L697.19 567.4 L696.37 567.84 L695.55 568.4 L694.75 569.08 L693.98 569.86 L693.25 570.73 L692.58 571.68 L691.98 572.69 L691.45 573.74 L691.02 574.82 L690.67 575.9 L690.43 576.97 L690.29 578.01 L690.26 579 L690.33 579.93 L690.51 580.77 L690.8 581.52 L691.18 582.16 L691.65 582.68 L692.21 583.08 Z" fill="#fff" stroke="#141414" stroke-width="1.25" stroke-linejoin="round" />
<ellipse cx="721.09" cy="588.63" rx="5.19" ry="9" fill="#fff" stroke="#141414" stroke-width="1.25" transform="rotate(28.7 721.09 588.63)"/>
<ellipse cx="708.18" cy="580.99" rx="1.7" ry="1.95" fill="#fff" stroke="#141414" stroke-width="1" transform="rotate(28.7 708.18 580.99)"/>
<path d="M719.83 596.15 L720.33 596.35 L720.89 596.45 L721.49 596.43 L722.11 596.3 L722.76 596.06 L723.42 595.71 L724.07 595.26 L724.71 594.72 L725.33 594.09 L725.91 593.39 L726.45 592.63 L726.93 591.83 L727.35 590.98 L727.7 590.12 L727.98 589.26 L728.17 588.4 L728.28 587.57 L728.31 586.78 L728.25 586.03 L728.1 585.36 L727.88 584.76 L727.57 584.25 L727.19 583.83 L726.74 583.51 L724.55 582.31 L724.05 582.11 L723.49 582.01 L722.89 582.03 L722.27 582.16 L721.62 582.4 L720.96 582.75 L720.31 583.2 L719.67 583.74 L719.05 584.37 L718.47 585.07 L717.93 585.83 L717.45 586.63 L717.03 587.48 L716.68 588.34 L716.4 589.2 L716.21 590.06 L716.1 590.89 L716.07 591.68 L716.13 592.43 L716.28 593.1 L716.51 593.7 L716.81 594.21 L717.19 594.63 L717.64 594.95 Z" fill="#fff" stroke="#141414" stroke-width="1.25" stroke-linejoin="round" />
<ellipse cx="723.29" cy="589.83" rx="4.15" ry="7.2" fill="#fff" stroke="#141414" stroke-width="1.25" transform="rotate(28.7 723.29 589.83)"/>
<path d="M721.1 597.98 L721.68 598.22 L722.31 598.33 L722.99 598.31 L723.71 598.16 L724.44 597.88 L725.19 597.48 L725.94 596.97 L726.67 596.35 L727.37 595.64 L728.03 594.85 L728.64 593.98 L729.19 593.06 L729.67 592.1 L730.07 591.12 L730.38 590.14 L730.6 589.16 L730.73 588.21 L730.76 587.31 L730.69 586.47 L730.53 585.7 L730.27 585.02 L729.92 584.43 L729.49 583.96 L728.98 583.6 L727.23 582.64 L726.65 582.4 L726.02 582.29 L725.34 582.32 L724.62 582.47 L723.88 582.74 L723.14 583.14 L722.39 583.65 L721.66 584.27 L720.96 584.98 L720.3 585.77 L719.69 586.64 L719.14 587.56 L718.66 588.52 L718.26 589.5 L717.95 590.48 L717.72 591.46 L717.6 592.41 L717.57 593.31 L717.64 594.15 L717.8 594.92 L718.06 595.61 L718.41 596.19 L718.84 596.66 L719.35 597.02 Z" fill="#fff" stroke="#141414" stroke-width="2.2" stroke-linejoin="round" />
<ellipse cx="725.04" cy="590.79" rx="4.73" ry="8.2" fill="#fff" stroke="#141414" stroke-width="2.2" transform="rotate(28.7 725.04 590.79)"/>
<ellipse cx="725.04" cy="590.79" rx="3.12" ry="5.4" fill="none" stroke="#141414" stroke-width="1.3" transform="rotate(28.7 725.04 590.79)"/>
<ellipse cx="731.18" cy="594.15" rx="2.9" ry="2.9" fill="#fff" stroke="#141414" stroke-width="1.5"/>
<path d="M737.7 604.11 L738.1 604.27 L738.53 604.34 L738.99 604.33 L739.48 604.22 L739.98 604.04 L740.49 603.77 L741 603.42 L741.5 602.99 L741.98 602.51 L742.43 601.96 L742.85 601.37 L743.23 600.75 L743.55 600.09 L743.83 599.42 L744.04 598.75 L744.19 598.08 L744.28 597.44 L744.3 596.82 L744.25 596.24 L744.14 595.72 L743.96 595.25 L743.72 594.85 L743.43 594.53 L743.08 594.28 L738.26 591.64 L737.86 591.48 L737.43 591.41 L736.97 591.42 L736.48 591.52 L735.98 591.71 L735.46 591.98 L734.96 592.33 L734.46 592.75 L733.98 593.24 L733.53 593.78 L733.11 594.37 L732.73 595 L732.41 595.66 L732.13 596.33 L731.92 597 L731.77 597.67 L731.68 598.31 L731.66 598.93 L731.71 599.51 L731.82 600.03 L732 600.5 L732.24 600.9 L732.53 601.22 L732.88 601.47 Z" fill="#fff" stroke="#141414" stroke-width="1.25" stroke-linejoin="round" />
<ellipse cx="740.39" cy="599.19" rx="3.23" ry="5.6" fill="#fff" stroke="#141414" stroke-width="1.25" transform="rotate(28.7 740.39 599.19)"/>
<path d="M742.08 604.45 L742.34 604.56 L742.64 604.61 L742.95 604.6 L743.28 604.53 L743.62 604.4 L743.97 604.22 L744.32 603.98 L744.65 603.69 L744.98 603.36 L745.29 603 L745.57 602.59 L745.82 602.17 L746.05 601.72 L746.23 601.27 L746.38 600.81 L746.48 600.36 L746.54 599.92 L746.55 599.5 L746.52 599.11 L746.44 598.76 L746.32 598.44 L746.16 598.17 L745.96 597.95 L745.73 597.78 L742.22 595.86 L741.95 595.75 L741.66 595.7 L741.34 595.71 L741.01 595.78 L740.67 595.91 L740.32 596.09 L739.98 596.33 L739.64 596.62 L739.31 596.95 L739.01 597.32 L738.72 597.72 L738.47 598.14 L738.25 598.59 L738.06 599.04 L737.92 599.5 L737.81 599.95 L737.75 600.39 L737.74 600.81 L737.77 601.2 L737.85 601.55 L737.97 601.87 L738.13 602.14 L738.33 602.36 L738.57 602.53 Z" fill="#fff" stroke="#141414" stroke-width="1.25" stroke-linejoin="round" />
<ellipse cx="743.9" cy="601.12" rx="2.19" ry="3.8" fill="#fff" stroke="#141414" stroke-width="1.25" transform="rotate(28.7 743.9 601.12)"/>
<path d="M743.02 600.64 L742.59 607.47 L748.97 596.82 L746.6 609.66 L752.98 599.02 L750.61 611.86 L756.99 601.21 L754.62 614.05 L761 603.41 L758.63 616.25 L765.01 605.6 L762.64 618.44 L769.02 607.8 L766.65 620.64 L773.03 609.99 L770.66 622.83" fill="none" stroke="#141414" stroke-width="1" stroke-linejoin="round" />
<line x1="772.85" y1="616.96" x2="788.5" y2="626" stroke="#141414" stroke-width="1" stroke-linecap="butt"/>
<path d="M595.6 556.7 L607.8 562.4 L619 556.6" fill="none" stroke="#141414" stroke-width="1" stroke-linejoin="round" />
<path d="M630.7 548.9 L642.7 542.9 L656 550" fill="none" stroke="#141414" stroke-width="1" stroke-linejoin="round" />
<line x1="666.2" y1="556.7" x2="681" y2="565.4" stroke="#141414" stroke-width="1" stroke-linecap="butt"/>
<ellipse cx="798" cy="632" rx="7.44" ry="12" fill="#fff" stroke="#141414" stroke-width="1.1" transform="rotate(30 798 632)"/>
<line x1="795" y1="630.3" x2="804" y2="635.5" stroke="#141414" stroke-width="1" stroke-linecap="butt"/>
<line x1="809" y1="638.5" x2="817" y2="643.2" stroke="#141414" stroke-width="1" stroke-linecap="butt"/>
<path d="M824.28 660.54 L825.06 660.84 L825.91 660.98 L826.82 660.94 L827.78 660.73 L828.76 660.34 L829.76 659.8 L830.75 659.1 L831.72 658.26 L832.65 657.29 L833.52 656.22 L834.33 655.05 L835.05 653.8 L835.68 652.51 L836.2 651.19 L836.6 649.86 L836.88 648.55 L837.04 647.28 L837.06 646.06 L836.96 644.93 L836.72 643.9 L836.36 642.99 L835.89 642.21 L835.3 641.58 L834.61 641.11 L826.66 636.89 L825.89 636.58 L825.04 636.45 L824.13 636.49 L823.17 636.7 L822.19 637.08 L821.19 637.63 L820.2 638.32 L819.23 639.16 L818.3 640.13 L817.42 641.21 L816.62 642.38 L815.9 643.62 L815.27 644.91 L814.75 646.24 L814.35 647.56 L814.06 648.88 L813.91 650.15 L813.89 651.36 L813.99 652.49 L814.23 653.52 L814.58 654.43 L815.06 655.21 L815.65 655.84 L816.34 656.31 Z" fill="#fff" stroke="#141414" stroke-width="1.25" stroke-linejoin="round" />
<ellipse cx="829.45" cy="650.83" rx="6.35" ry="11" fill="#fff" stroke="#141414" stroke-width="1.25" transform="rotate(28 829.45 650.83)"/>
<path d="M817.86 657.42 L816.91 656.92 L816.11 656.15 L815.49 655.14 L815.06 653.91 L814.85 652.5 L814.85 650.94 L815.06 649.28 L815.48 647.56 L816.09 645.84 L816.89 644.15 L817.85 642.54 L818.93 641.07 L820.12 639.76 L821.38 638.66 L822.67 637.79 L823.96 637.18 L825.22 636.84 L826.4 636.79 L827.48 637.02 L828.43 637.54" fill="none" stroke="#141414" stroke-width="1.1" stroke-linejoin="round" />
<path d="M819.72 658.4 L818.76 657.9 L817.96 657.14 L817.34 656.13 L816.92 654.9 L816.7 653.48 L816.7 651.93 L816.91 650.27 L817.33 648.55 L817.95 646.82 L818.75 645.14 L819.7 643.53 L820.79 642.05 L821.97 640.75 L823.23 639.64 L824.52 638.77 L825.82 638.16 L827.07 637.83 L828.26 637.77 L829.34 638.01 L830.29 638.52" fill="none" stroke="#141414" stroke-width="1.1" stroke-linejoin="round" />
<path d="M821.57 659.39 L820.62 658.89 L819.82 658.12 L819.2 657.11 L818.77 655.88 L818.56 654.47 L818.55 652.91 L818.77 651.25 L819.19 649.54 L819.8 647.81 L820.6 646.12 L821.55 644.52 L822.64 643.04 L823.83 641.73 L825.09 640.63 L826.38 639.76 L827.67 639.15 L828.93 638.81 L830.11 638.76 L831.19 639 L832.14 639.51" fill="none" stroke="#141414" stroke-width="1.1" stroke-linejoin="round" />
<path d="M823.43 660.37 L822.47 659.87 L821.67 659.11 L821.05 658.1 L820.63 656.87 L820.41 655.46 L820.41 653.9 L820.62 652.24 L821.04 650.52 L821.66 648.8 L822.45 647.11 L823.41 645.5 L824.49 644.03 L825.68 642.72 L826.94 641.61 L828.23 640.74 L829.52 640.13 L830.78 639.8 L831.97 639.75 L833.05 639.98 L834 640.5" fill="none" stroke="#141414" stroke-width="1.1" stroke-linejoin="round" />
<path d="M825.34 662.8 L826.23 663.15 L827.19 663.3 L828.23 663.26 L829.31 663.02 L830.43 662.58 L831.57 661.96 L832.69 661.17 L833.79 660.22 L834.85 659.12 L835.84 657.89 L836.76 656.56 L837.58 655.15 L838.29 653.68 L838.88 652.18 L839.34 650.67 L839.66 649.18 L839.84 647.73 L839.87 646.35 L839.74 645.07 L839.48 643.9 L839.07 642.86 L838.53 641.98 L837.86 641.26 L837.08 640.73 L835.31 639.79 L834.43 639.44 L833.47 639.29 L832.43 639.33 L831.34 639.57 L830.23 640.01 L829.09 640.63 L827.97 641.42 L826.87 642.37 L825.81 643.47 L824.81 644.7 L823.9 646.03 L823.08 647.44 L822.37 648.91 L821.78 650.41 L821.32 651.92 L821 653.41 L820.82 654.86 L820.79 656.24 L820.91 657.52 L821.18 658.69 L821.59 659.73 L822.13 660.61 L822.8 661.33 L823.58 661.86 Z" fill="#fff" stroke="#141414" stroke-width="1.25" stroke-linejoin="round" />
<ellipse cx="831.21" cy="651.76" rx="7.21" ry="12.5" fill="#fff" stroke="#141414" stroke-width="1.25" transform="rotate(28 831.21 651.76)"/>
<path d="M835.48 663.1 L824.14 666.13 L820.31 655.03 L827.82 640.9 L839.17 637.87 L843 648.97 Z" fill="#fff" stroke="#141414" stroke-width="1.25" stroke-linejoin="round" />
<path d="M824.14 666.13 L820.31 655.03 L828.17 659.21 L832 670.3 Z" fill="#fff" stroke="#141414" stroke-width="1.25" stroke-linejoin="round" />
<path d="M820.31 655.03 L827.82 640.9 L835.68 645.08 L828.17 659.21 Z" fill="#fff" stroke="#141414" stroke-width="1.25" stroke-linejoin="round" />
<path d="M827.82 640.9 L839.17 637.87 L847.02 642.05 L835.68 645.08 Z" fill="#fff" stroke="#141414" stroke-width="1.25" stroke-linejoin="round" />
<path d="M843.34 667.27 L832 670.3 L828.17 659.21 L835.68 645.08 L847.02 642.05 L850.85 653.15 Z" fill="#fff" stroke="#141414" stroke-width="1.25" stroke-linejoin="round" />
<path d="M300.9 748.2 L300.9 934.3 L308.55 941 L314.6 941 L314.6 748.2" fill="#fff" stroke="#555" stroke-width="1.1" stroke-linejoin="round" />
<rect x="300.9" y="748.2" width="13.7" height="12" fill="#222"/>
<path d="M314.6 760.2 L314.58 760.47 L314.52 760.73 L314.41 760.99 L314.26 761.25 L314.08 761.5 L313.85 761.74 L313.59 761.98 L313.29 762.2 L312.96 762.41 L312.59 762.6 L312.2 762.79 L311.78 762.95 L311.33 763.1 L310.86 763.23 L310.37 763.34 L309.87 763.43 L309.35 763.51 L308.82 763.56 L308.29 763.59 L307.75 763.6 L307.21 763.59 L306.68 763.56 L306.15 763.51 L305.63 763.43 L305.13 763.34 L304.64 763.23 L304.17 763.1 L303.72 762.95 L303.3 762.79 L302.91 762.6 L302.54 762.41 L302.21 762.2 L301.91 761.98 L301.65 761.74 L301.42 761.5 L301.24 761.25 L301.09 760.99 L300.98 760.73 L300.92 760.47 L300.9 760.2" fill="none" stroke="#141414" stroke-width="1.4" stroke-linejoin="round" />
<ellipse cx="307.75" cy="760.5" rx="5.35" ry="2.4" fill="#fff" stroke="#141414" stroke-width="0.5"/>
<path d="M303.25 759.2 L307.75 753.7 L312.25 759.2" fill="none" stroke="#ddd" stroke-width="1" stroke-linejoin="round" />
<path d="M303.25 752.2 L307.75 755.2 L312.25 752.2" fill="none" stroke="#bbb" stroke-width="0.8" stroke-linejoin="round" />
<ellipse cx="307.75" cy="748.2" rx="6.85" ry="3.7" fill="#fff" stroke="#141414" stroke-width="1.5"/>
<ellipse cx="307.75" cy="748.4" rx="3.85" ry="2.2" fill="#fff" stroke="#141414" stroke-width="0.9"/>
<path d="M330.3 800 L330.3 985.6 L337.9 992.5 L343.9 992.5 L343.9 800" fill="#fff" stroke="#222" stroke-width="1.1" stroke-linejoin="round" />
<rect x="330.3" y="800" width="13.6" height="12" fill="#222"/>
<path d="M343.9 812 L343.88 812.27 L343.82 812.53 L343.71 812.79 L343.57 813.05 L343.38 813.3 L343.16 813.54 L342.9 813.78 L342.6 814 L342.27 814.21 L341.91 814.4 L341.52 814.59 L341.1 814.75 L340.65 814.9 L340.19 815.03 L339.7 815.14 L339.2 815.23 L338.69 815.31 L338.16 815.36 L337.63 815.39 L337.1 815.4 L336.57 815.39 L336.04 815.36 L335.51 815.31 L335 815.23 L334.5 815.14 L334.01 815.03 L333.55 814.9 L333.1 814.75 L332.68 814.59 L332.29 814.4 L331.93 814.21 L331.6 814 L331.3 813.78 L331.04 813.54 L330.82 813.3 L330.63 813.05 L330.49 812.79 L330.38 812.53 L330.32 812.27 L330.3 812" fill="none" stroke="#141414" stroke-width="1.4" stroke-linejoin="round" />
<ellipse cx="337.1" cy="812.3" rx="5.3" ry="2.4" fill="#fff" stroke="#141414" stroke-width="0.5"/>
<path d="M332.6 811 L337.1 805.5 L341.6 811" fill="none" stroke="#ddd" stroke-width="1" stroke-linejoin="round" />
<path d="M332.6 804 L337.1 807 L341.6 804" fill="none" stroke="#bbb" stroke-width="0.8" stroke-linejoin="round" />
<ellipse cx="337.1" cy="800" rx="6.8" ry="3.7" fill="#fff" stroke="#141414" stroke-width="1.5"/>
<ellipse cx="337.1" cy="800.2" rx="3.8" ry="2.2" fill="#fff" stroke="#141414" stroke-width="0.9"/>
<path d="M588.4 763.7 L588.4 968.9 L596.45 975.5 L602.9 975.5 L602.9 763.7" fill="#fff" stroke="#555" stroke-width="1.1" stroke-linejoin="round" />
<rect x="588.4" y="763.7" width="14.5" height="12" fill="#222"/>
<path d="M602.9 775.7 L602.88 775.97 L602.81 776.23 L602.7 776.49 L602.55 776.75 L602.35 777 L602.11 777.24 L601.83 777.48 L601.52 777.7 L601.16 777.91 L600.78 778.1 L600.36 778.29 L599.91 778.45 L599.44 778.6 L598.94 778.73 L598.42 778.84 L597.89 778.93 L597.34 779.01 L596.78 779.06 L596.22 779.09 L595.65 779.1 L595.08 779.09 L594.52 779.06 L593.96 779.01 L593.41 778.93 L592.88 778.84 L592.36 778.73 L591.86 778.6 L591.39 778.45 L590.94 778.29 L590.52 778.1 L590.14 777.91 L589.78 777.7 L589.47 777.48 L589.19 777.24 L588.95 777 L588.75 776.75 L588.6 776.49 L588.49 776.23 L588.42 775.97 L588.4 775.7" fill="none" stroke="#141414" stroke-width="1.4" stroke-linejoin="round" />
<ellipse cx="595.65" cy="776" rx="5.75" ry="2.4" fill="#fff" stroke="#141414" stroke-width="0.5"/>
<path d="M591.15 774.7 L595.65 769.2 L600.15 774.7" fill="none" stroke="#ddd" stroke-width="1" stroke-linejoin="round" />
<path d="M591.15 767.7 L595.65 770.7 L600.15 767.7" fill="none" stroke="#bbb" stroke-width="0.8" stroke-linejoin="round" />
<ellipse cx="595.65" cy="763.7" rx="7.25" ry="3.7" fill="#fff" stroke="#141414" stroke-width="1.5"/>
<ellipse cx="595.65" cy="763.9" rx="4.25" ry="2.2" fill="#fff" stroke="#141414" stroke-width="0.9"/>
<path d="M471.4 689.4 L470.6 693 L470.6 738.4 L470.6 738.4 L470.65 738.98 L470.81 739.55 L471.07 740.11 L471.42 740.65 L471.88 741.17 L472.42 741.67 L473.05 742.13 L473.77 742.56 L474.55 742.95 L475.4 743.29 L476.32 743.59 L477.28 743.84 L478.28 744.04 L479.31 744.18 L480.36 744.27 L481.42 744.3 L482.49 744.28 L483.54 744.2 L484.58 744.06 L485.58 743.87 L485.4 743.6 L485.4 737.8 L492.4 735.5 L492.4 685.8 L490.4 683.2 L485 682.1 Z" fill="#fff" stroke="#141414" stroke-width="1.3" stroke-linejoin="round" />
<path d="M471.4 689.4 L477.6 693.3 L492 685.6" fill="none" stroke="#141414" stroke-width="1.2" stroke-linejoin="round" />
<path d="M477.6 693.3 L477.6 703.4 L492.4 696" fill="none" stroke="#141414" stroke-width="1.2" stroke-linejoin="round" />
<path d="M492.4 698.3 L492.39 698.57 L492.35 698.85 L492.28 699.12 L492.19 699.39 L492.08 699.65 L491.93 699.92 L491.77 700.18 L491.58 700.43 L491.36 700.68 L491.12 700.93 L490.86 701.17 L490.58 701.4 L490.27 701.62 L489.95 701.84 L489.6 702.05 L489.23 702.25 L488.85 702.44 L488.45 702.61 L488.03 702.78 L487.6 702.94 L487.15 703.09 L486.68 703.23 L486.21 703.35 L485.72 703.46 L485.23 703.56 L484.72 703.65 L484.21 703.72 L483.69 703.79 L483.17 703.83 L482.64 703.87 L482.11 703.89 L481.58 703.9 L481.04 703.9 L480.51 703.88 L479.98 703.85 L479.46 703.8 L478.94 703.74 L478.42 703.67 L477.92 703.59 L477.42 703.49" fill="none" stroke="#141414" stroke-width="1.2" stroke-linejoin="round" />
<path d="M492.4 706.2 L492.37 706.64 L492.27 707.08 L492.1 707.51 L491.87 707.93 L491.57 708.34 L491.21 708.74 L490.79 709.13 L490.32 709.49 L489.79 709.84 L489.21 710.16 L488.58 710.46 L487.91 710.73 L487.2 710.97 L486.45 711.19 L485.67 711.37 L484.87 711.53 L484.04 711.65 L483.21 711.73 L482.36 711.78 L481.5 711.8 L480.64 711.78 L479.79 711.73 L478.96 711.65 L478.13 711.53 L477.33 711.37 L476.55 711.19 L475.8 710.97 L475.09 710.73 L474.42 710.46 L473.79 710.16 L473.21 709.84 L472.68 709.49 L472.21 709.13 L471.79 708.74 L471.43 708.34 L471.13 707.93 L470.9 707.51 L470.73 707.08 L470.63 706.64 L470.6 706.2" fill="none" stroke="#141414" stroke-width="1.5" stroke-linejoin="round" />
<path d="M492.4 709.6 L492.37 710.04 L492.27 710.48 L492.1 710.91 L491.87 711.33 L491.57 711.74 L491.21 712.14 L490.79 712.53 L490.32 712.89 L489.79 713.24 L489.21 713.56 L488.58 713.86 L487.91 714.13 L487.2 714.37 L486.45 714.59 L485.67 714.77 L484.87 714.93 L484.04 715.05 L483.21 715.13 L482.36 715.18 L481.5 715.2 L480.64 715.18 L479.79 715.13 L478.96 715.05 L478.13 714.93 L477.33 714.77 L476.55 714.59 L475.8 714.37 L475.09 714.13 L474.42 713.86 L473.79 713.56 L473.21 713.24 L472.68 712.89 L472.21 712.53 L471.79 712.14 L471.43 711.74 L471.13 711.33 L470.9 710.91 L470.73 710.48 L470.63 710.04 L470.6 709.6" fill="none" stroke="#141414" stroke-width="1.3" stroke-linejoin="round" />
<path d="M485.4 737.8 L486.8 738.6 L490.5 736.3 L492.2 740" fill="none" stroke="#141414" stroke-width="1" stroke-linejoin="round" />
<line x1="481.1" y1="678.7" x2="481.1" y2="686.7" stroke="#141414" stroke-width="1" stroke-linecap="butt"/>
<path d="M510.39 902.75 L511.53 903.39 L512.77 903.9 L514.09 904.25 L515.47 904.46 L516.86 904.49 L518.25 904.37 L519.6 904.09 L520.89 903.65 L522.08 903.07 L523.14 902.36 L524.07 901.53 L524.83 900.61 L525.41 899.6 L525.8 898.54 L525.98 897.45 L525.96 896.35" fill="none" stroke="#141414" stroke-width="1" stroke-linejoin="round" />
<path d="M436.5 796.11 L450.22 789.61 L451.67 784.56 L461.06 778.06 L473.33 778.06 L476.22 773.72 L482.72 769.39 L495 769.39 L523.89 777.33 L525.33 781.67 L531.11 783.11 L545.56 798.28 L545.56 803.33 L545.6 882.2 L499.1 908.3 L486.3 908.3 L459 901.8 L451.3 898.2 L436.7 879.6 Z" fill="#fff" stroke="#141414" stroke-width="1.25" stroke-linejoin="round" />
<path d="M545.56 803.33 L536.17 809.11 L534.29 813.73 L531.11 815.61 L529.67 817.78 L516.67 823.56 L514.5 827.89 L508.72 827.89 L508 825 L499.33 832.22 L486.33 830.78 L459.61 822.4 L457.44 825 L451.67 823.56 L451.67 819.95 L436.5 801.17 L436.5 796.11" fill="none" stroke="#141414" stroke-width="1.25" stroke-linejoin="round" />
<path d="M436.5 801.17 L436.5 796.11" fill="none" stroke="#141414" stroke-width="1.25" stroke-linejoin="round" />
<line x1="451.5" y1="820" x2="451.5" y2="898.2" stroke="#141414" stroke-width="1.25" stroke-linecap="butt"/>
<line x1="459" y1="823.5" x2="459" y2="901.8" stroke="#141414" stroke-width="0.9" stroke-linecap="butt"/>
<line x1="486.3" y1="830.8" x2="486.3" y2="908.3" stroke="#141414" stroke-width="1.25" stroke-linecap="butt"/>
<line x1="499.3" y1="832.2" x2="499.3" y2="848.1" stroke="#141414" stroke-width="1.25" stroke-linecap="butt"/>
<line x1="513.8" y1="826.5" x2="513.8" y2="841" stroke="#141414" stroke-width="0.9" stroke-linecap="butt"/>
<line x1="531.8" y1="815" x2="531.8" y2="829.5" stroke="#141414" stroke-width="0.9" stroke-linecap="butt"/>
<path d="M499.3 848.1 L545.6 823.6" fill="none" stroke="#141414" stroke-width="1.25" stroke-linejoin="round" />
<path d="M499.3 848.1 L506.6 849.6 L545.6 827.9" fill="none" stroke="#141414" stroke-width="0.9" stroke-linejoin="round" />
<line x1="507.5" y1="849.8" x2="507.5" y2="893.5" stroke="#141414" stroke-width="1.25" stroke-linecap="butt"/>
<path d="M499.1 908.3 L499.1 894.7 L507.1 893.8 L545.6 873.3" fill="none" stroke="#141414" stroke-width="1.1" stroke-linejoin="round" />
<ellipse cx="455" cy="820.8" rx="2.9" ry="1.8" fill="#fff" stroke="#141414" stroke-width="0.9"/>
<ellipse cx="510.5" cy="825.2" rx="2.9" ry="1.8" fill="#fff" stroke="#141414" stroke-width="0.9"/>
<ellipse cx="533.3" cy="811.3" rx="2.6" ry="1.7" fill="#fff" stroke="#141414" stroke-width="0.9"/>
<ellipse cx="450.9" cy="799.7" rx="5.8" ry="3.5" fill="none" stroke="#141414" stroke-width="1"/>
<ellipse cx="531.1" cy="799.7" rx="5.8" ry="3.5" fill="none" stroke="#141414" stroke-width="1"/>
<ellipse cx="490.7" cy="778.1" rx="8.7" ry="5.4" fill="none" stroke="#141414" stroke-width="1.5"/>
<ellipse cx="513.8" cy="813.4" rx="8" ry="4.7" fill="none" stroke="#141414" stroke-width="1.2"/>
<path d="M482 824.28 L485.61 820.67 L497.17 819.95 L500.78 823.56 L497.89 827.89 L485.61 828.61 Z" fill="none" stroke="#141414" stroke-width="1" stroke-linejoin="round" />
<ellipse cx="491.4" cy="824.3" rx="8.4" ry="4.2" fill="none" stroke="#141414" stroke-width="0.8"/>
<ellipse cx="507.3" cy="791.1" rx="5.6" ry="3.5" fill="none" stroke="#141414" stroke-width="0.9"/>
<path d="M497.89 772.71 L522.45 788.6 Q526.06 793.94 520.28 801.17 Q516.67 804.06 511.61 803.77 Q507.28 803.33 508.72 799.72 Q510.17 796.11 513.78 794.67 Q515.22 789.61 508.72 786.72 Q504.39 785.28 501.5 788.17" fill="none" stroke="#141414" stroke-width="1" stroke-linejoin="round" />
<path d="M499.33 771.56 L523.89 787.44" fill="none" stroke="#141414" stroke-width="1.6" stroke-linejoin="round" />
<path d="M459.61 787.44 Q463.22 781.67 473.33 783.11" fill="none" stroke="#141414" stroke-width="0.9" stroke-linejoin="round" />
<path d="M504.08 805.59 L504.27 806.76 L504.29 807.93 L504.14 809.1 L503.83 810.25 L503.35 811.39 L502.71 812.5 L501.92 813.57 L500.97 814.6 L499.88 815.57 L498.66 816.49 L497.31 817.34 L495.84 818.12 L494.26 818.82 L492.59 819.44 L490.84 819.97 L489.02 820.41 L487.14 820.75 L485.21 821 L483.26 821.15 L481.3 821.2 L479.34 821.15 L477.39 821 L475.46 820.75 L473.58 820.41 L471.76 819.97 L470.01 819.44 L468.34 818.82 L466.76 818.12 L465.29 817.34 L463.94 816.49 L462.72 815.57 L461.63 814.6 L460.68 813.57 L459.89 812.5 L459.25 811.39 L458.77 810.25 L458.46 809.1 L458.31 807.93 L458.33 806.76 L458.52 805.59" fill="none" stroke="#141414" stroke-width="1" stroke-linejoin="round" />
<path d="M504.08 802.59 L504.27 803.76 L504.29 804.93 L504.14 806.1 L503.83 807.25 L503.35 808.39 L502.71 809.5 L501.92 810.57 L500.97 811.6 L499.88 812.57 L498.66 813.49 L497.31 814.34 L495.84 815.12 L494.26 815.82 L492.59 816.44 L490.84 816.97 L489.02 817.41 L487.14 817.75 L485.21 818 L483.26 818.15 L481.3 818.2 L479.34 818.15 L477.39 818 L475.46 817.75 L473.58 817.41 L471.76 816.97 L470.01 816.44 L468.34 815.82 L466.76 815.12 L465.29 814.34 L463.94 813.49 L462.72 812.57 L461.63 811.6 L460.68 810.57 L459.89 809.5 L459.25 808.39 L458.77 807.25 L458.46 806.1 L458.31 804.93 L458.33 803.76 L458.52 802.59" fill="none" stroke="#141414" stroke-width="1" stroke-linejoin="round" />
<path d="M504.08 800.09 L504.27 801.26 L504.29 802.43 L504.14 803.6 L503.83 804.75 L503.35 805.89 L502.71 807 L501.92 808.07 L500.97 809.1 L499.88 810.07 L498.66 810.99 L497.31 811.84 L495.84 812.62 L494.26 813.32 L492.59 813.94 L490.84 814.47 L489.02 814.91 L487.14 815.25 L485.21 815.5 L483.26 815.65 L481.3 815.7 L479.34 815.65 L477.39 815.5 L475.46 815.25 L473.58 814.91 L471.76 814.47 L470.01 813.94 L468.34 813.32 L466.76 812.62 L465.29 811.84 L463.94 810.99 L462.72 810.07 L461.63 809.1 L460.68 808.07 L459.89 807 L459.25 805.89 L458.77 804.75 L458.46 803.6 L458.31 802.43 L458.33 801.26 L458.52 800.09" fill="none" stroke="#141414" stroke-width="1" stroke-linejoin="round" />
<ellipse cx="481.3" cy="799" rx="23" ry="13.7" fill="#fff" stroke="#141414" stroke-width="1.2"/>
<ellipse cx="481.3" cy="799" rx="17.8" ry="10.3" fill="none" stroke="#141414" stroke-width="1"/>
<path d="M465.86 801.27 L465.8 800.54 L465.85 799.81 L466 799.09 L466.26 798.37 L466.62 797.67 L467.09 796.99 L467.65 796.33 L468.3 795.71 L469.04 795.11 L469.87 794.55 L470.78 794.04 L471.76 793.57 L472.8 793.14 L473.9 792.77 L475.06 792.45 L476.25 792.18 L477.48 791.97 L478.74 791.82 L480.02 791.73 L481.3 791.7 L482.58 791.73 L483.86 791.82 L485.12 791.97 L486.35 792.18 L487.54 792.45 L488.7 792.77 L489.8 793.14 L490.84 793.57 L491.82 794.04 L492.73 794.55 L493.56 795.11 L494.3 795.71 L494.95 796.33 L495.51 796.99 L495.98 797.67 L496.34 798.37 L496.6 799.09 L496.75 799.81 L496.8 800.54 L496.74 801.27" fill="none" stroke="#141414" stroke-width="0.9" stroke-linejoin="round" />
<path d="M496.34 804.91 L495.97 805.39 L495.56 805.86 L495.09 806.31 L494.56 806.75 L493.99 807.17 L493.38 807.58 L492.71 807.96 L492.01 808.32 L491.26 808.65 L490.48 808.96 L489.66 809.25 L488.81 809.51 L487.94 809.73 L487.03 809.94 L486.11 810.11 L485.17 810.25 L484.22 810.36 L483.25 810.44 L482.28 810.48 L481.3 810.5 L480.32 810.48 L479.35 810.44 L478.38 810.36 L477.43 810.25 L476.49 810.11 L475.57 809.94 L474.66 809.73 L473.79 809.51 L472.94 809.25 L472.12 808.96 L471.34 808.65 L470.59 808.32 L469.89 807.96 L469.22 807.58 L468.61 807.17 L468.04 806.75 L467.51 806.31 L467.04 805.86 L466.63 805.39 L466.26 804.91" fill="none" stroke="#141414" stroke-width="0.9" stroke-linejoin="round" />
<path d="M474.06 791.06 L479.83 788.89 L486.62 792.07 L486.62 801.17 L480.56 803.33 L474.06 800.44 Z" fill="#fff" stroke="#141414" stroke-width="1" stroke-linejoin="round" />
<path d="M474.06 791.06 L480.56 794.67 L486.62 792.07" fill="none" stroke="#141414" stroke-width="1" stroke-linejoin="round" />
<path d="M480.56 794.67 L480.56 803.33" fill="none" stroke="#141414" stroke-width="1" stroke-linejoin="round" />
<line x1="481.5" y1="770.5" x2="481.5" y2="791" stroke="#141414" stroke-width="1" stroke-linecap="butt"/>
<ellipse cx="450.8" cy="924.4" rx="6.3" ry="3.5" fill="#fff" stroke="#141414" stroke-width="1.4"/>
<ellipse cx="450.8" cy="924.4" rx="3.5" ry="1.8" fill="#fff" stroke="#141414" stroke-width="1.2"/>
<ellipse cx="531.8" cy="959.8" rx="6.3" ry="3.5" fill="#fff" stroke="#141414" stroke-width="1.4"/>
<ellipse cx="531.8" cy="959.8" rx="3.5" ry="1.8" fill="#fff" stroke="#141414" stroke-width="1.2"/>
<line x1="450.8" y1="926" x2="450.8" y2="940.5" stroke="#141414" stroke-width="1" stroke-linecap="butt"/>
<line x1="531.8" y1="961.5" x2="531.8" y2="976.5" stroke="#141414" stroke-width="1" stroke-linecap="butt"/>
<line x1="446.7" y1="942.6" x2="446.7" y2="1002" stroke="#1c1c1c" stroke-width="1" stroke-linecap="butt"/>
<line x1="454.1" y1="942.6" x2="454.1" y2="1002" stroke="#1c1c1c" stroke-width="1" stroke-linecap="butt"/>
<ellipse cx="450.4" cy="942.6" rx="3.7" ry="2" fill="#fff" stroke="#141414" stroke-width="1"/>
<ellipse cx="450.4" cy="942.6" rx="2" ry="1" fill="none" stroke="#141414" stroke-width="0.6"/>
<path d="M445.3 1002 L445.3 1008.4 L445.3 1008.4 L445.4 1008.91 L445.69 1009.39 L446.16 1009.84 L446.79 1010.24 L447.57 1010.56 L448.45 1010.8 L449.41 1010.95 L450.4 1011 L451.39 1010.95 L452.35 1010.8 L453.23 1010.56 L454.01 1010.24 L454.64 1009.84 L455.11 1009.39 L455.4 1008.91 L455.5 1008.4 L455.5 1002" fill="#fff" stroke="#1c1c1c" stroke-width="1" stroke-linejoin="round" />
<path d="M455.5 1002 L455.48 1002.19 L455.44 1002.38 L455.36 1002.56 L455.25 1002.74 L455.11 1002.92 L454.94 1003.09 L454.75 1003.25 L454.53 1003.41 L454.28 1003.56 L454.01 1003.7 L453.71 1003.82 L453.4 1003.94 L453.06 1004.05 L452.72 1004.14 L452.35 1004.22 L451.98 1004.28 L451.59 1004.33 L451.2 1004.37 L450.8 1004.39 L450.4 1004.4 L450 1004.39 L449.6 1004.37 L449.21 1004.33 L448.82 1004.28 L448.45 1004.22 L448.08 1004.14 L447.74 1004.05 L447.4 1003.94 L447.09 1003.82 L446.79 1003.7 L446.52 1003.56 L446.27 1003.41 L446.05 1003.25 L445.86 1003.09 L445.69 1002.92 L445.55 1002.74 L445.44 1002.56 L445.36 1002.38 L445.32 1002.19 L445.3 1002" fill="none" stroke="#1c1c1c" stroke-width="0.9" stroke-linejoin="round" />
<path d="M445.3 1002 L445.32 1001.81 L445.36 1001.62 L445.44 1001.44 L445.55 1001.26 L445.69 1001.08 L445.86 1000.91 L446.05 1000.75 L446.27 1000.59 L446.52 1000.44 L446.79 1000.3 L447.09 1000.18 L447.4 1000.06 L447.74 999.95 L448.08 999.86 L448.45 999.78 L448.82 999.72 L449.21 999.67 L449.6 999.63 L450 999.61 L450.4 999.6 L450.8 999.61 L451.2 999.63 L451.59 999.67 L451.98 999.72 L452.35 999.78 L452.72 999.86 L453.06 999.95 L453.4 1000.06 L453.71 1000.18 L454.01 1000.3 L454.28 1000.44 L454.53 1000.59 L454.75 1000.75 L454.94 1000.91 L455.11 1001.08 L455.25 1001.26 L455.36 1001.44 L455.44 1001.62 L455.48 1001.81 L455.5 1002" fill="none" stroke="#555" stroke-width="0.7" stroke-linejoin="round" />
<line x1="448.4" y1="1005" x2="448.4" y2="1009.4" stroke="#666" stroke-width="0.6" stroke-linecap="butt"/>
<line x1="452.4" y1="1005" x2="452.4" y2="1009.4" stroke="#666" stroke-width="0.6" stroke-linecap="butt"/>
<line x1="528.2" y1="978.2" x2="528.2" y2="1038" stroke="#1c1c1c" stroke-width="1" stroke-linecap="butt"/>
<line x1="535.6" y1="978.2" x2="535.6" y2="1038" stroke="#1c1c1c" stroke-width="1" stroke-linecap="butt"/>
<ellipse cx="531.9" cy="978.2" rx="3.7" ry="2" fill="#fff" stroke="#141414" stroke-width="1"/>
<ellipse cx="531.9" cy="978.2" rx="2" ry="1" fill="none" stroke="#141414" stroke-width="0.6"/>
<path d="M526.8 1038 L526.8 1044.5 L526.8 1044.5 L526.9 1045.01 L527.19 1045.49 L527.66 1045.94 L528.29 1046.34 L529.07 1046.66 L529.95 1046.9 L530.91 1047.05 L531.9 1047.1 L532.89 1047.05 L533.85 1046.9 L534.73 1046.66 L535.51 1046.34 L536.14 1045.94 L536.61 1045.49 L536.9 1045.01 L537 1044.5 L537 1038" fill="#fff" stroke="#1c1c1c" stroke-width="1" stroke-linejoin="round" />
<path d="M537 1038 L536.98 1038.19 L536.94 1038.38 L536.86 1038.56 L536.75 1038.74 L536.61 1038.92 L536.44 1039.09 L536.25 1039.25 L536.03 1039.41 L535.78 1039.56 L535.51 1039.7 L535.21 1039.82 L534.9 1039.94 L534.56 1040.05 L534.22 1040.14 L533.85 1040.22 L533.48 1040.28 L533.09 1040.33 L532.7 1040.37 L532.3 1040.39 L531.9 1040.4 L531.5 1040.39 L531.1 1040.37 L530.71 1040.33 L530.32 1040.28 L529.95 1040.22 L529.58 1040.14 L529.24 1040.05 L528.9 1039.94 L528.59 1039.82 L528.29 1039.7 L528.02 1039.56 L527.77 1039.41 L527.55 1039.25 L527.36 1039.09 L527.19 1038.92 L527.05 1038.74 L526.94 1038.56 L526.86 1038.38 L526.82 1038.19 L526.8 1038" fill="none" stroke="#1c1c1c" stroke-width="0.9" stroke-linejoin="round" />
<path d="M526.8 1038 L526.82 1037.81 L526.86 1037.62 L526.94 1037.44 L527.05 1037.26 L527.19 1037.08 L527.36 1036.91 L527.55 1036.75 L527.77 1036.59 L528.02 1036.44 L528.29 1036.3 L528.59 1036.18 L528.9 1036.06 L529.24 1035.95 L529.58 1035.86 L529.95 1035.78 L530.32 1035.72 L530.71 1035.67 L531.1 1035.63 L531.5 1035.61 L531.9 1035.6 L532.3 1035.61 L532.7 1035.63 L533.09 1035.67 L533.48 1035.72 L533.85 1035.78 L534.22 1035.86 L534.56 1035.95 L534.9 1036.06 L535.21 1036.18 L535.51 1036.3 L535.78 1036.44 L536.03 1036.59 L536.25 1036.75 L536.44 1036.91 L536.61 1037.08 L536.75 1037.26 L536.86 1037.44 L536.94 1037.62 L536.98 1037.81 L537 1038" fill="none" stroke="#555" stroke-width="0.7" stroke-linejoin="round" />
<line x1="529.9" y1="1041" x2="529.9" y2="1045.5" stroke="#666" stroke-width="0.6" stroke-linecap="butt"/>
<line x1="533.9" y1="1041" x2="533.9" y2="1045.5" stroke="#666" stroke-width="0.6" stroke-linecap="butt"/>
<path d="M469.3 990 L469.3 1076 L481.4 1087.8 L486.49 1087.87 L487.55 1088 L488.61 1087.84 L489.63 1087.41 L490.57 1086.71 L491.42 1085.77 L492.13 1084.62 L492.69 1083.29 L493.08 1081.84 L493.27 1080.31 L493.28 1078.76 L493.3 1079 L493.3 990" fill="#fff" stroke="#141414" stroke-width="1.1" stroke-linejoin="round" />
<path d="M463.8 975.6 L468.7 984 L486.4 987 L499.9 980.3 L499.9 987.7 L486.4 994.4 L468.7 991.4 L463.8 983 Z" fill="#fff" stroke="#141414" stroke-width="1.3" stroke-linejoin="round" />
<path d="M463.8 975.6 L470 971.3 L494.5 972.3 L499.9 980.3 L486.4 987 L468.7 984 Z" fill="#fff" stroke="#141414" stroke-width="1.3" stroke-linejoin="round" />
<line x1="468.7" y1="984" x2="468.7" y2="991.4" stroke="#141414" stroke-width="1.1" stroke-linecap="butt"/>
<line x1="486.4" y1="987" x2="486.4" y2="994.4" stroke="#141414" stroke-width="1.1" stroke-linecap="butt"/>
<path d="M469.5 958.4 L469.5 978.5 L469.5 978.5 L469.65 979.53 L470.08 980.54 L470.8 981.5 L471.77 982.38 L472.99 983.17 L474.41 983.84 L476 984.38 L477.72 984.78 L479.54 985.02 L481.4 985.1 L483.26 985.02 L485.08 984.78 L486.8 984.38 L488.39 983.84 L489.81 983.17 L491.03 982.38 L492 981.5 L492.72 980.54 L493.15 979.53 L493.3 978.5 L493.3 958.4" fill="#fff" stroke="#141414" stroke-width="1.2" stroke-linejoin="round" />
<path d="M493.25 962.08 L493.15 962.56 L492.97 963.04 L492.73 963.51 L492.43 963.97 L492.07 964.42 L491.65 964.85 L491.18 965.26 L490.65 965.65 L490.07 966.02 L489.44 966.37 L488.77 966.68 L488.05 966.97 L487.3 967.23 L486.52 967.46 L485.71 967.65 L484.88 967.81 L484.03 967.94 L483.16 968.03 L482.28 968.08 L481.4 968.1 L480.52 968.08 L479.64 968.03 L478.77 967.94 L477.92 967.81 L477.09 967.65 L476.28 967.46 L475.5 967.23 L474.75 966.97 L474.03 966.68 L473.36 966.37 L472.73 966.02 L472.15 965.65 L471.62 965.26 L471.15 964.85 L470.73 964.42 L470.37 963.97 L470.07 963.51 L469.83 963.04 L469.65 962.56 L469.55 962.08" fill="none" stroke="#141414" stroke-width="1" stroke-linejoin="round" />
<path d="M493.25 964.38 L493.15 964.86 L492.97 965.34 L492.73 965.81 L492.43 966.27 L492.07 966.72 L491.65 967.15 L491.18 967.56 L490.65 967.95 L490.07 968.32 L489.44 968.67 L488.77 968.98 L488.05 969.27 L487.3 969.53 L486.52 969.76 L485.71 969.95 L484.88 970.11 L484.03 970.24 L483.16 970.33 L482.28 970.38 L481.4 970.4 L480.52 970.38 L479.64 970.33 L478.77 970.24 L477.92 970.11 L477.09 969.95 L476.28 969.76 L475.5 969.53 L474.75 969.27 L474.03 968.98 L473.36 968.67 L472.73 968.32 L472.15 967.95 L471.62 967.56 L471.15 967.15 L470.73 966.72 L470.37 966.27 L470.07 965.81 L469.83 965.34 L469.65 964.86 L469.55 964.38" fill="none" stroke="#141414" stroke-width="1" stroke-linejoin="round" />
<path d="M493.25 966.68 L493.15 967.16 L492.97 967.64 L492.73 968.11 L492.43 968.57 L492.07 969.02 L491.65 969.45 L491.18 969.86 L490.65 970.25 L490.07 970.62 L489.44 970.97 L488.77 971.28 L488.05 971.57 L487.3 971.83 L486.52 972.06 L485.71 972.25 L484.88 972.41 L484.03 972.54 L483.16 972.63 L482.28 972.68 L481.4 972.7 L480.52 972.68 L479.64 972.63 L478.77 972.54 L477.92 972.41 L477.09 972.25 L476.28 972.06 L475.5 971.83 L474.75 971.57 L474.03 971.28 L473.36 970.97 L472.73 970.62 L472.15 970.25 L471.62 969.86 L471.15 969.45 L470.73 969.02 L470.37 968.57 L470.07 968.11 L469.83 967.64 L469.65 967.16 L469.55 966.68" fill="none" stroke="#141414" stroke-width="1" stroke-linejoin="round" />
<path d="M493.25 968.98 L493.15 969.46 L492.97 969.94 L492.73 970.41 L492.43 970.87 L492.07 971.32 L491.65 971.75 L491.18 972.16 L490.65 972.55 L490.07 972.92 L489.44 973.27 L488.77 973.58 L488.05 973.87 L487.3 974.13 L486.52 974.36 L485.71 974.55 L484.88 974.71 L484.03 974.84 L483.16 974.93 L482.28 974.98 L481.4 975 L480.52 974.98 L479.64 974.93 L478.77 974.84 L477.92 974.71 L477.09 974.55 L476.28 974.36 L475.5 974.13 L474.75 973.87 L474.03 973.58 L473.36 973.27 L472.73 972.92 L472.15 972.55 L471.62 972.16 L471.15 971.75 L470.73 971.32 L470.37 970.87 L470.07 970.41 L469.83 969.94 L469.65 969.46 L469.55 968.98" fill="none" stroke="#141414" stroke-width="1" stroke-linejoin="round" />
<path d="M493.25 971.28 L493.15 971.76 L492.97 972.24 L492.73 972.71 L492.43 973.17 L492.07 973.62 L491.65 974.05 L491.18 974.46 L490.65 974.85 L490.07 975.22 L489.44 975.57 L488.77 975.88 L488.05 976.17 L487.3 976.43 L486.52 976.66 L485.71 976.85 L484.88 977.01 L484.03 977.14 L483.16 977.23 L482.28 977.28 L481.4 977.3 L480.52 977.28 L479.64 977.23 L478.77 977.14 L477.92 977.01 L477.09 976.85 L476.28 976.66 L475.5 976.43 L474.75 976.17 L474.03 975.88 L473.36 975.57 L472.73 975.22 L472.15 974.85 L471.62 974.46 L471.15 974.05 L470.73 973.62 L470.37 973.17 L470.07 972.71 L469.83 972.24 L469.65 971.76 L469.55 971.28" fill="none" stroke="#141414" stroke-width="1" stroke-linejoin="round" />
<path d="M493.25 973.58 L493.15 974.06 L492.97 974.54 L492.73 975.01 L492.43 975.47 L492.07 975.92 L491.65 976.35 L491.18 976.76 L490.65 977.15 L490.07 977.52 L489.44 977.87 L488.77 978.18 L488.05 978.47 L487.3 978.73 L486.52 978.96 L485.71 979.15 L484.88 979.31 L484.03 979.44 L483.16 979.53 L482.28 979.58 L481.4 979.6 L480.52 979.58 L479.64 979.53 L478.77 979.44 L477.92 979.31 L477.09 979.15 L476.28 978.96 L475.5 978.73 L474.75 978.47 L474.03 978.18 L473.36 977.87 L472.73 977.52 L472.15 977.15 L471.62 976.76 L471.15 976.35 L470.73 975.92 L470.37 975.47 L470.07 975.01 L469.83 974.54 L469.65 974.06 L469.55 973.58" fill="none" stroke="#141414" stroke-width="1" stroke-linejoin="round" />
<path d="M493.25 975.88 L493.15 976.36 L492.97 976.84 L492.73 977.31 L492.43 977.77 L492.07 978.22 L491.65 978.65 L491.18 979.06 L490.65 979.45 L490.07 979.82 L489.44 980.17 L488.77 980.48 L488.05 980.77 L487.3 981.03 L486.52 981.26 L485.71 981.45 L484.88 981.61 L484.03 981.74 L483.16 981.83 L482.28 981.88 L481.4 981.9 L480.52 981.88 L479.64 981.83 L478.77 981.74 L477.92 981.61 L477.09 981.45 L476.28 981.26 L475.5 981.03 L474.75 980.77 L474.03 980.48 L473.36 980.17 L472.73 979.82 L472.15 979.45 L471.62 979.06 L471.15 978.65 L470.73 978.22 L470.37 977.77 L470.07 977.31 L469.83 976.84 L469.65 976.36 L469.55 975.88" fill="none" stroke="#141414" stroke-width="1" stroke-linejoin="round" />
<path d="M493.25 978.18 L493.15 978.66 L492.97 979.14 L492.73 979.61 L492.43 980.07 L492.07 980.52 L491.65 980.95 L491.18 981.36 L490.65 981.75 L490.07 982.12 L489.44 982.47 L488.77 982.78 L488.05 983.07 L487.3 983.33 L486.52 983.56 L485.71 983.75 L484.88 983.91 L484.03 984.04 L483.16 984.13 L482.28 984.18 L481.4 984.2 L480.52 984.18 L479.64 984.13 L478.77 984.04 L477.92 983.91 L477.09 983.75 L476.28 983.56 L475.5 983.33 L474.75 983.07 L474.03 982.78 L473.36 982.47 L472.73 982.12 L472.15 981.75 L471.62 981.36 L471.15 980.95 L470.73 980.52 L470.37 980.07 L470.07 979.61 L469.83 979.14 L469.65 978.66 L469.55 978.18" fill="none" stroke="#141414" stroke-width="1" stroke-linejoin="round" />
<ellipse cx="481.4" cy="958.4" rx="11.9" ry="7" fill="#fff" stroke="#141414" stroke-width="1.3"/>
<ellipse cx="481.4" cy="958.8" rx="9.3" ry="5.2" fill="#fff" stroke="#141414" stroke-width="0.9"/>
<line x1="481.4" y1="1088" x2="481.4" y2="1097.5" stroke="#141414" stroke-width="1.1" stroke-linecap="butt"/>
<path d="M454.6 1122 L454.6 1145.5 L454.9 1145.5 L455.05 1146.65 L455.48 1147.79 L456.2 1148.9 L457.2 1149.97 L458.46 1151 L459.98 1151.97 L461.73 1152.86 L463.7 1153.67 L465.86 1154.4 L468.2 1155.03 L470.68 1155.55 L473.28 1155.96 L475.97 1156.26 L478.72 1156.44 L481.5 1156.5 L484.28 1156.44 L487.03 1156.26 L489.72 1155.96 L492.32 1155.55 L494.8 1155.03 L497.14 1154.4 L499.3 1153.67 L501.27 1152.86 L503.02 1151.97 L504.54 1151 L505.8 1149.97 L506.8 1148.9 L507.52 1147.79 L507.95 1146.65 L508.1 1145.5 L507.8 1122 Z" fill="#fff" stroke="#141414" stroke-width="1.2" stroke-linejoin="round" />
<clipPath id="mesh"><path d="M454.6 1122 L454.6 1145.5 L454.9 1145.5 L455.05 1146.65 L455.48 1147.79 L456.2 1148.9 L457.2 1149.97 L458.46 1151 L459.98 1151.97 L461.73 1152.86 L463.7 1153.67 L465.86 1154.4 L468.2 1155.03 L470.68 1155.55 L473.28 1155.96 L475.97 1156.26 L478.72 1156.44 L481.5 1156.5 L484.28 1156.44 L487.03 1156.26 L489.72 1155.96 L492.32 1155.55 L494.8 1155.03 L497.14 1154.4 L499.3 1153.67 L501.27 1152.86 L503.02 1151.97 L504.54 1151 L505.8 1149.97 L506.8 1148.9 L507.52 1147.79 L507.95 1146.65 L508.1 1145.5 L507.8 1122 Z"/></clipPath>
<g clip-path="url(#mesh)" stroke="#141414" stroke-width="1.35" fill="none">
<path d="M360.6 1118 L406.6 1164"/>
<path d="M406.6 1118 L360.6 1164"/>
<path d="M371.6 1118 L417.6 1164"/>
<path d="M417.6 1118 L371.6 1164"/>
<path d="M382.6 1118 L428.6 1164"/>
<path d="M428.6 1118 L382.6 1164"/>
<path d="M393.6 1118 L439.6 1164"/>
<path d="M439.6 1118 L393.6 1164"/>
<path d="M404.6 1118 L450.6 1164"/>
<path d="M450.6 1118 L404.6 1164"/>
<path d="M415.6 1118 L461.6 1164"/>
<path d="M461.6 1118 L415.6 1164"/>
<path d="M426.6 1118 L472.6 1164"/>
<path d="M472.6 1118 L426.6 1164"/>
<path d="M437.6 1118 L483.6 1164"/>
<path d="M483.6 1118 L437.6 1164"/>
<path d="M448.6 1118 L494.6 1164"/>
<path d="M494.6 1118 L448.6 1164"/>
<path d="M459.6 1118 L505.6 1164"/>
<path d="M505.6 1118 L459.6 1164"/>
<path d="M470.6 1118 L516.6 1164"/>
<path d="M516.6 1118 L470.6 1164"/>
<path d="M481.6 1118 L527.6 1164"/>
<path d="M527.6 1118 L481.6 1164"/>
<path d="M492.6 1118 L538.6 1164"/>
<path d="M538.6 1118 L492.6 1164"/>
<path d="M503.6 1118 L549.6 1164"/>
<path d="M549.6 1118 L503.6 1164"/>
<path d="M514.6 1118 L560.6 1164"/>
<path d="M560.6 1118 L514.6 1164"/>
<path d="M525.6 1118 L571.6 1164"/>
<path d="M571.6 1118 L525.6 1164"/>
<path d="M536.6 1118 L582.6 1164"/>
<path d="M582.6 1118 L536.6 1164"/>
<path d="M547.6 1118 L593.6 1164"/>
<path d="M593.6 1118 L547.6 1164"/>
<path d="M558.6 1118 L604.6 1164"/>
<path d="M604.6 1118 L558.6 1164"/>
<path d="M569.6 1118 L615.6 1164"/>
<path d="M615.6 1118 L569.6 1164"/>
</g>
<ellipse cx="481.5" cy="1116.2" rx="33" ry="18.6" fill="#fff" stroke="#141414" stroke-width="1.2"/>
<ellipse cx="481.5" cy="1115.4" rx="33" ry="18.3" fill="#fff" stroke="#141414" stroke-width="1.1"/>
<ellipse cx="481.5" cy="1115.7" rx="27.4" ry="14.8" fill="none" stroke="#141414" stroke-width="1.25"/>
<ellipse cx="481.5" cy="1116.4" rx="15.4" ry="8.4" fill="none" stroke="#141414" stroke-width="1.3"/>
<ellipse cx="481.5" cy="1116.4" rx="9.5" ry="5.2" fill="#fff" stroke="#141414" stroke-width="1.2"/>
<path d="M472.04 1115.16 L472.12 1114.8 L472.26 1114.43 L472.45 1114.08 L472.69 1113.73 L472.98 1113.39 L473.31 1113.06 L473.69 1112.75 L474.12 1112.45 L474.58 1112.17 L475.08 1111.91 L475.62 1111.67 L476.19 1111.45 L476.79 1111.26 L477.41 1111.09 L478.06 1110.94 L478.72 1110.82 L479.4 1110.72 L480.1 1110.65 L480.8 1110.61 L481.5 1110.6 L482.2 1110.61 L482.9 1110.65 L483.6 1110.72 L484.28 1110.82 L484.94 1110.94 L485.59 1111.09 L486.21 1111.26 L486.81 1111.45 L487.38 1111.67 L487.92 1111.91 L488.42 1112.17 L488.88 1112.45 L489.31 1112.75 L489.69 1113.06 L490.02 1113.39 L490.31 1113.73 L490.55 1114.08 L490.74 1114.43 L490.88 1114.8 L490.96 1115.16" fill="none" stroke="#141414" stroke-width="2.6" stroke-linejoin="round" />
<line x1="481.5" y1="1097.5" x2="481.5" y2="1099" stroke="#141414" stroke-width="1.1" stroke-linecap="butt"/>
<line x1="481.5" y1="1112" x2="481.5" y2="1121" stroke="#141414" stroke-width="1" stroke-linecap="butt"/>
<ellipse cx="485.4" cy="1203" rx="62.7" ry="37" fill="none" stroke="#222" stroke-width="1.05"/>
<ellipse cx="485.4" cy="1203" rx="60.5" ry="34.8" fill="none" stroke="#222" stroke-width="1.05"/>
<line x1="479" y1="1166.6" x2="492" y2="1166.6" stroke="#141414" stroke-width="1.3" stroke-linecap="butt"/>
<line x1="479" y1="1239.3" x2="492" y2="1239.3" stroke="#141414" stroke-width="1.3" stroke-linecap="butt"/>
<line x1="481.6" y1="329.4" x2="481.6" y2="339" stroke="#141414" stroke-width="1.05" stroke-linecap="butt"/>
<line x1="481.6" y1="351.5" x2="481.6" y2="365.7" stroke="#141414" stroke-width="1.05" stroke-linecap="butt"/>
<line x1="481.6" y1="378.1" x2="481.6" y2="392.4" stroke="#141414" stroke-width="1.05" stroke-linecap="butt"/>
<line x1="481.6" y1="404.9" x2="481.6" y2="418.8" stroke="#141414" stroke-width="1.05" stroke-linecap="butt"/>
<line x1="481.6" y1="430.6" x2="481.6" y2="446" stroke="#141414" stroke-width="1.05" stroke-linecap="butt"/>
<line x1="481.6" y1="457.2" x2="481.6" y2="469.5" stroke="#141414" stroke-width="1.05" stroke-linecap="butt"/>
<line x1="481.6" y1="481.6" x2="481.6" y2="496.2" stroke="#141414" stroke-width="1.05" stroke-linecap="butt"/>
<line x1="481.6" y1="510" x2="481.6" y2="519.6" stroke="#141414" stroke-width="1.05" stroke-linecap="butt"/>
<line x1="481.6" y1="632.5" x2="481.6" y2="640" stroke="#141414" stroke-width="1.05" stroke-linecap="butt"/>
<line x1="481.6" y1="652.7" x2="481.6" y2="666.7" stroke="#141414" stroke-width="1.05" stroke-linecap="butt"/>
<line x1="481.6" y1="744.8" x2="481.6" y2="761.1" stroke="#141414" stroke-width="1.05" stroke-linecap="butt"/>
<line x1="481.6" y1="908.3" x2="481.6" y2="913.3" stroke="#141414" stroke-width="1.05" stroke-linecap="butt"/>
<line x1="481.6" y1="926.7" x2="481.6" y2="940.9" stroke="#141414" stroke-width="1.05" stroke-linecap="butt"/>
<line x1="481.6" y1="952.4" x2="481.6" y2="960.4" stroke="#141414" stroke-width="1.05" stroke-linecap="butt"/>
<line x1="451" y1="898.2" x2="451" y2="913.3" stroke="#141414" stroke-width="1.05" stroke-linecap="butt"/>
<line x1="531.7" y1="891.1" x2="531.7" y2="904.4" stroke="#141414" stroke-width="1.05" stroke-linecap="butt"/>
<line x1="531.7" y1="916.9" x2="531.7" y2="932" stroke="#141414" stroke-width="1.05" stroke-linecap="butt"/>
<line x1="531.7" y1="945.3" x2="531.7" y2="956" stroke="#141414" stroke-width="1.05" stroke-linecap="butt"/>
<line x1="430" y1="597" x2="418" y2="603.3" stroke="#141414" stroke-width="1.05" stroke-linecap="butt"/>
<line x1="408" y1="609" x2="398" y2="615" stroke="#141414" stroke-width="1.05" stroke-linecap="butt"/>
<line x1="386" y1="621.2" x2="377" y2="626.4" stroke="#141414" stroke-width="1.05" stroke-linecap="butt"/>
<line x1="367" y1="632" x2="359" y2="636.8" stroke="#141414" stroke-width="1.05" stroke-linecap="butt"/>
<line x1="348" y1="643" x2="341.5" y2="646.8" stroke="#141414" stroke-width="1.05" stroke-linecap="butt"/>
<line x1="427.4" y1="603" x2="427.4" y2="613" stroke="#141414" stroke-width="1.05" stroke-linecap="butt"/>
<line x1="427.4" y1="623" x2="427.4" y2="638" stroke="#141414" stroke-width="1.05" stroke-linecap="butt"/>
<line x1="427.4" y1="649" x2="427.4" y2="658" stroke="#141414" stroke-width="1.05" stroke-linecap="butt"/>
<line x1="427.4" y1="658" x2="419" y2="663" stroke="#141414" stroke-width="1.05" stroke-linecap="butt"/>
<line x1="406" y1="670" x2="396" y2="676" stroke="#141414" stroke-width="1.05" stroke-linecap="butt"/>
<line x1="386" y1="682" x2="375" y2="688.6" stroke="#141414" stroke-width="1.05" stroke-linecap="butt"/>
<line x1="364" y1="695" x2="353" y2="701.6" stroke="#141414" stroke-width="1.05" stroke-linecap="butt"/>
<line x1="339" y1="710" x2="328" y2="716.4" stroke="#141414" stroke-width="1.05" stroke-linecap="butt"/>
<line x1="317" y1="722.6" x2="308" y2="727.8" stroke="#141414" stroke-width="1.05" stroke-linecap="butt"/>
<line x1="308" y1="727.8" x2="308" y2="745" stroke="#141414" stroke-width="1" stroke-linecap="butt"/>
<line x1="463" y1="625" x2="463" y2="637" stroke="#141414" stroke-width="1.05" stroke-linecap="butt"/>
<line x1="463" y1="649" x2="463" y2="663" stroke="#141414" stroke-width="1.05" stroke-linecap="butt"/>
<line x1="463" y1="663" x2="452" y2="669.6" stroke="#141414" stroke-width="1.05" stroke-linecap="butt"/>
<line x1="440" y1="677" x2="428" y2="684" stroke="#141414" stroke-width="1.05" stroke-linecap="butt"/>
<line x1="418" y1="690" x2="406" y2="697" stroke="#141414" stroke-width="1.05" stroke-linecap="butt"/>
<line x1="393" y1="704.6" x2="382" y2="711" stroke="#141414" stroke-width="1.05" stroke-linecap="butt"/>
<line x1="371" y1="717.3" x2="360" y2="723.6" stroke="#141414" stroke-width="1.05" stroke-linecap="butt"/>
<line x1="349" y1="730" x2="337" y2="737" stroke="#141414" stroke-width="1.05" stroke-linecap="butt"/>
<line x1="337" y1="737" x2="337" y2="749.4" stroke="#141414" stroke-width="1.05" stroke-linecap="butt"/>
<line x1="337" y1="762" x2="337" y2="775.4" stroke="#141414" stroke-width="1.05" stroke-linecap="butt"/>
<line x1="337" y1="788.3" x2="337" y2="797" stroke="#141414" stroke-width="1.05" stroke-linecap="butt"/>
<line x1="541.4" y1="601.8" x2="541.4" y2="612" stroke="#141414" stroke-width="1.05" stroke-linecap="butt"/>
<line x1="541.4" y1="623" x2="541.4" y2="636.4" stroke="#141414" stroke-width="1.05" stroke-linecap="butt"/>
<line x1="541.4" y1="649" x2="541.4" y2="663.1" stroke="#141414" stroke-width="1.05" stroke-linecap="butt"/>
<line x1="541.4" y1="675.7" x2="541.4" y2="689.1" stroke="#141414" stroke-width="1.05" stroke-linecap="butt"/>
<line x1="541.4" y1="701.7" x2="541.4" y2="712.7" stroke="#141414" stroke-width="1.05" stroke-linecap="butt"/>
<line x1="541.4" y1="712.7" x2="551.9" y2="719" stroke="#141414" stroke-width="1.05" stroke-linecap="butt"/>
<line x1="562.1" y1="725.3" x2="574.7" y2="732.4" stroke="#141414" stroke-width="1.05" stroke-linecap="butt"/>
<line x1="584.9" y1="737.9" x2="595.5" y2="744.2" stroke="#141414" stroke-width="1.05" stroke-linecap="butt"/>
<line x1="595.5" y1="744.2" x2="595.5" y2="761" stroke="#444" stroke-width="0.9" stroke-linecap="butt"/>
<path d="M319.4 585.8 L332.8 593 L347.2 584.6" fill="none" stroke="#141414" stroke-width="1.05" stroke-linejoin="round" />
<line x1="359.7" y1="578" x2="372.2" y2="571.7" stroke="#141414" stroke-width="1.05" stroke-linecap="butt"/>
<path d="M308 727.8 L316.8 722.4" fill="none" stroke="#141414" stroke-width="1" stroke-linejoin="round" />
<path d="M337 737.2 L349.7 729.6" fill="none" stroke="#141414" stroke-width="1.05" stroke-linejoin="round" />
<path d="M351.3 312.7 L426.7 371.3" fill="none" stroke="#141414" stroke-width="1.1" stroke-dasharray="13.6 12.6" stroke-linejoin="round" />
<g opacity="0.995">
<text transform="translate(176 159.6) scale(0.82 1)" font-size="17.5" text-anchor="middle">2</text>
<text transform="translate(614.8 231.2) scale(0.82 1)" font-size="17.5" text-anchor="middle">1</text>
<text transform="translate(790.8 222.5) scale(0.82 1)" font-size="17.5" text-anchor="middle">23</text>
<text transform="translate(218 307.4) scale(0.82 1)" font-size="17.5" text-anchor="middle">3</text>
<text transform="translate(656 340.8) scale(0.82 1)" font-size="17.5" text-anchor="middle">5</text>
<text transform="translate(771.5 322.6) scale(0.82 1)" font-size="17.5" text-anchor="middle">4</text>
<text transform="translate(408.4 410.2) scale(0.82 1)" font-size="17.5" text-anchor="middle">7</text>
<text transform="translate(581.3 455.3) scale(0.82 1)" font-size="17.5" text-anchor="middle">6</text>
<text transform="translate(171 467.4) scale(0.82 1)" font-size="17.5" text-anchor="middle">8</text>
<text transform="translate(219.7 488.5) scale(0.82 1)" font-size="17.5" text-anchor="middle">9</text>
<text transform="translate(263.4 515.8) scale(0.82 1)" font-size="17.5" text-anchor="middle">10</text>
<text transform="translate(746.2 550) scale(0.82 1)" font-size="17.5" text-anchor="middle">21</text>
<text transform="translate(802 584.7) scale(0.82 1)" font-size="17.5" text-anchor="middle">9</text>
<text transform="translate(843.7 602.5) scale(0.82 1)" font-size="17.5" text-anchor="middle">22</text>
<text transform="translate(129.5 623.5) scale(0.82 1)" font-size="17.5" text-anchor="middle">11</text>
<text transform="translate(603.4 665.4) scale(0.82 1)" font-size="17.5" text-anchor="middle">20</text>
<text transform="translate(653.7 695.7) scale(0.82 1)" font-size="17.5" text-anchor="middle">9</text>
<text transform="translate(723.2 741) scale(0.82 1)" font-size="17.5" text-anchor="middle">8</text>
<text transform="translate(417.7 722.2) scale(0.82 1)" font-size="17.5" text-anchor="middle">13</text>
<text transform="translate(239.5 801.6) scale(0.82 1)" font-size="17.5" text-anchor="middle">11</text>
<text transform="translate(251.5 838.6) scale(0.82 1)" font-size="17.5" text-anchor="middle">24</text>
<text transform="translate(649 844.4) scale(0.82 1)" font-size="17.5" text-anchor="middle">24</text>
<text transform="translate(385.8 849.5) scale(0.82 1)" font-size="17.5" text-anchor="middle">14</text>
<text transform="translate(392.5 929.3) scale(0.82 1)" font-size="17.5" text-anchor="middle">15</text>
<text transform="translate(393.5 973) scale(0.82 1)" font-size="17.5" text-anchor="middle">16</text>
<text transform="translate(290 973.5) scale(0.82 1)" font-size="17.5" text-anchor="middle">12</text>
<text transform="translate(418.3 1055) scale(0.82 1)" font-size="17.5" text-anchor="middle">17</text>
<text transform="translate(396.2 1125.5) scale(0.82 1)" font-size="17.5" text-anchor="middle">18</text>
<text transform="translate(375.1 1209.3) scale(0.82 1)" font-size="17.5" text-anchor="middle">19</text>
</g>
<line x1="182.4" y1="154" x2="226.5" y2="154" stroke="#141414" stroke-width="1.2" stroke-linecap="butt"/>
<line x1="565.7" y1="225.6" x2="607.2" y2="225.6" stroke="#141414" stroke-width="1.2" stroke-linecap="butt"/>
<line x1="747.8" y1="216" x2="779" y2="216" stroke="#141414" stroke-width="1.2" stroke-linecap="butt"/>
<line x1="225" y1="302" x2="268" y2="302" stroke="#6e6e6e" stroke-width="1.4" stroke-linecap="butt"/>
<line x1="604.6" y1="334.4" x2="648.8" y2="334.4" stroke="#6e6e6e" stroke-width="1.4" stroke-linecap="butt"/>
<line x1="771.6" y1="326.8" x2="771.6" y2="359" stroke="#141414" stroke-width="1.2" stroke-linecap="butt"/>
<line x1="401.9" y1="411" x2="380" y2="430" stroke="#141414" stroke-width="1.2" stroke-linecap="butt"/>
<line x1="582" y1="459.8" x2="582" y2="494" stroke="#141414" stroke-width="1.2" stroke-linecap="butt"/>
<line x1="177.4" y1="456.9" x2="203.8" y2="442.5" stroke="#141414" stroke-width="1.2" stroke-linecap="butt"/>
<line x1="225.6" y1="477" x2="251" y2="462" stroke="#141414" stroke-width="1.2" stroke-linecap="butt"/>
<line x1="273.5" y1="504.8" x2="298.8" y2="491" stroke="#141414" stroke-width="1.2" stroke-linecap="butt"/>
<line x1="745.3" y1="553.5" x2="745.3" y2="584.7" stroke="#141414" stroke-width="1.2" stroke-linecap="butt"/>
<line x1="804" y1="587" x2="804" y2="619" stroke="#141414" stroke-width="1.2" stroke-linecap="butt"/>
<line x1="842.7" y1="606" x2="842.7" y2="638" stroke="#141414" stroke-width="1.2" stroke-linecap="butt"/>
<line x1="139.3" y1="617.3" x2="183.3" y2="617.3" stroke="#6e6e6e" stroke-width="1.4" stroke-linecap="butt"/>
<line x1="601.6" y1="619" x2="601.6" y2="648.4" stroke="#141414" stroke-width="1.2" stroke-linecap="butt"/>
<line x1="653.7" y1="650" x2="653.7" y2="680.6" stroke="#141414" stroke-width="1.2" stroke-linecap="butt"/>
<line x1="723.2" y1="694.5" x2="723.2" y2="725.9" stroke="#141414" stroke-width="1.2" stroke-linecap="butt"/>
<line x1="428" y1="716.4" x2="465.3" y2="716.4" stroke="#141414" stroke-width="1.2" stroke-linecap="butt"/>
<line x1="238.9" y1="755.7" x2="238.9" y2="782.4" stroke="#141414" stroke-width="1.2" stroke-linecap="butt"/>
<line x1="260.3" y1="832.9" x2="289.7" y2="832.9" stroke="#6e6e6e" stroke-width="1.4" stroke-linecap="butt"/>
<line x1="609.8" y1="838.7" x2="637.8" y2="838.7" stroke="#141414" stroke-width="1.2" stroke-linecap="butt"/>
<line x1="396" y1="843.4" x2="433.5" y2="843.4" stroke="#141414" stroke-width="1.2" stroke-linecap="butt"/>
<line x1="402" y1="924" x2="439.6" y2="924" stroke="#141414" stroke-width="1.2" stroke-linecap="butt"/>
<line x1="405" y1="967.4" x2="441" y2="967.4" stroke="#141414" stroke-width="1.2" stroke-linecap="butt"/>
<line x1="299.5" y1="967.8" x2="329.5" y2="967.8" stroke="#141414" stroke-width="1.2" stroke-linecap="butt"/>
<line x1="429.5" y1="1049.5" x2="465.2" y2="1049.5" stroke="#141414" stroke-width="1.2" stroke-linecap="butt"/>
<line x1="408.2" y1="1120" x2="443.1" y2="1120" stroke="#6e6e6e" stroke-width="1.5" stroke-linecap="butt"/>
<line x1="387.4" y1="1203.7" x2="422.3" y2="1203.7" stroke="#6e6e6e" stroke-width="1.5" stroke-linecap="butt"/>
</svg>
</body></html>
